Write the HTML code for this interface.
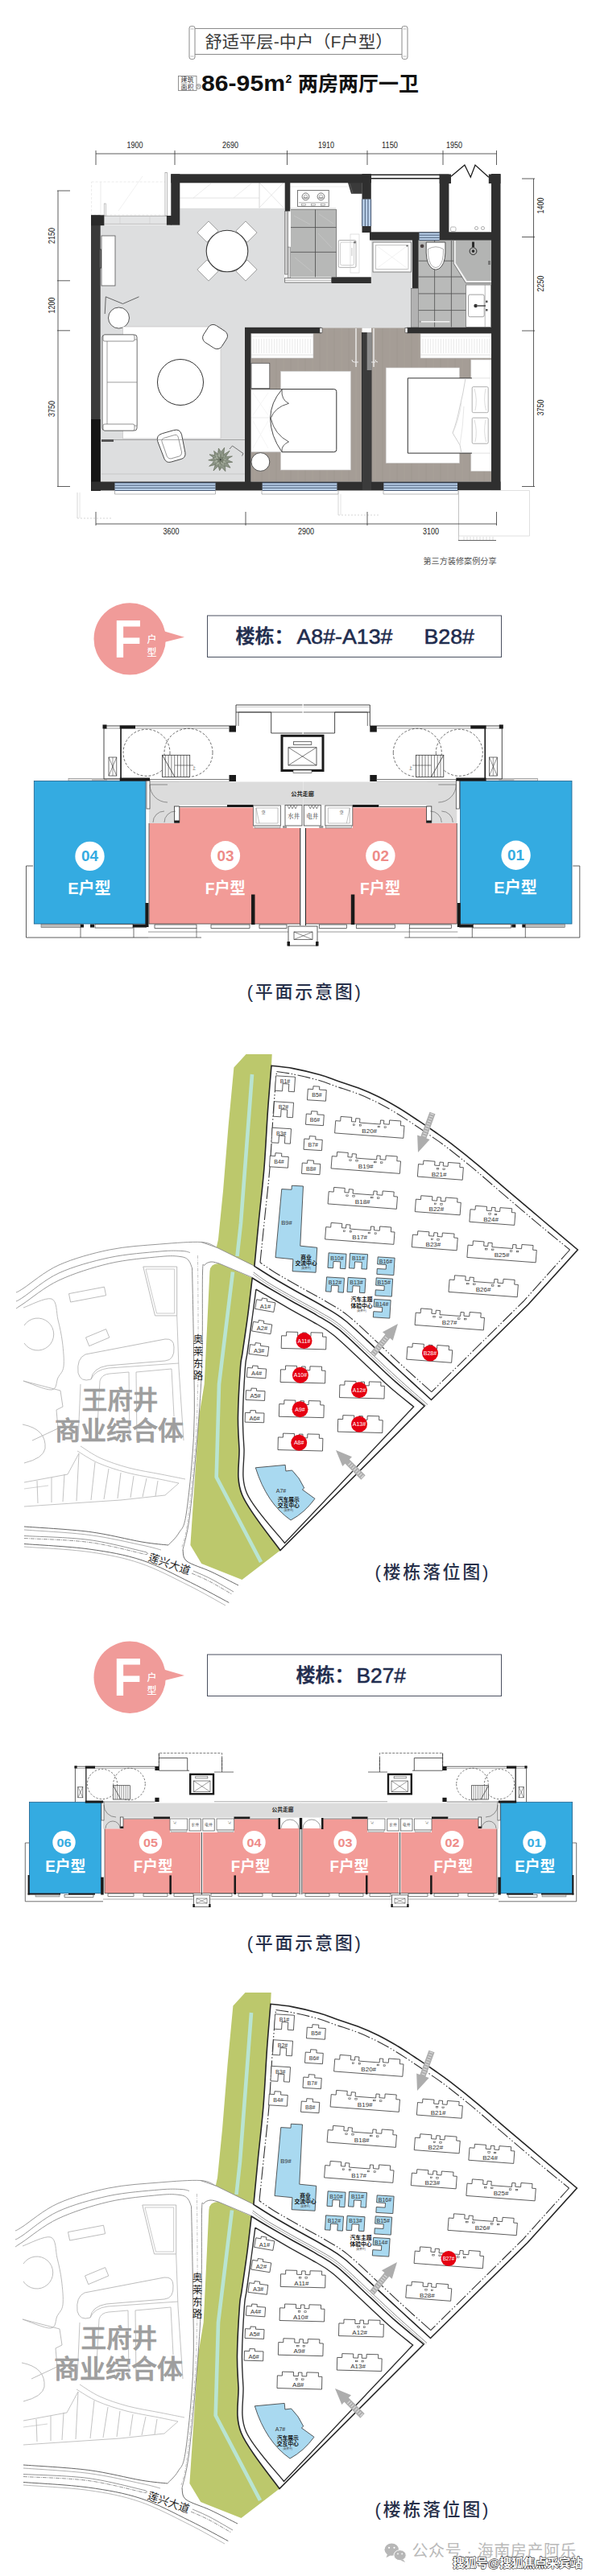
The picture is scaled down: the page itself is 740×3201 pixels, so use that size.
<!DOCTYPE html>
<html lang="zh-CN"><head><meta charset="utf-8"><title>F户型 86-95㎡ 两房两厅一卫</title>
<style>
html,body{margin:0;padding:0;background:#fff;}
body{width:740px;height:3201px;overflow:hidden;font-family:"Liberation Sans","Noto Sans CJK SC",sans-serif;}
svg{display:block;}
</style></head><body>
<svg width="740" height="3201" viewBox="0 0 740 3201">
<rect width="740" height="3201" fill="#fff"/>
<line x1="241" y1="35.5" x2="500" y2="35.5" stroke="#8a8a8a" stroke-width="1.2"/>
<line x1="241" y1="67.5" x2="500" y2="67.5" stroke="#8a8a8a" stroke-width="1.2"/>
<rect x="235" y="32.5" width="7" height="41" fill="#fff" stroke="#8a8a8a" stroke-width="1" rx="2.5"/>
<line x1="236.5" y1="36" x2="240.5" y2="36" stroke="#aaa" stroke-width="0.8"/>
<line x1="236.5" y1="70" x2="240.5" y2="70" stroke="#aaa" stroke-width="0.8"/>
<rect x="499" y="32.5" width="7" height="41" fill="#fff" stroke="#8a8a8a" stroke-width="1" rx="2.5"/>
<line x1="500.5" y1="36" x2="504.5" y2="36" stroke="#aaa" stroke-width="0.8"/>
<line x1="500.5" y1="70" x2="504.5" y2="70" stroke="#aaa" stroke-width="0.8"/>
<text x="371" y="59" font-size="21" fill="#3a3a3a" font-weight="400" text-anchor="middle" font-family='"Liberation Sans","Noto Sans CJK SC",sans-serif' textLength="233" lengthAdjust="spacingAndGlyphs">舒适平层-中户（F户型）</text>
<rect x="221.5" y="94.5" width="22.5" height="18" fill="#fff" stroke="#777" stroke-width="0.8"/>
<text x="232.5" y="102.3" font-size="8" fill="#333" font-weight="400" text-anchor="middle" font-family='"Liberation Sans","Noto Sans CJK SC",sans-serif'>建筑</text>
<text x="232.5" y="110.6" font-size="8" fill="#333" font-weight="400" text-anchor="middle" font-family='"Liberation Sans","Noto Sans CJK SC",sans-serif'>面积</text>
<circle cx="246.5" cy="107.5" r="3" fill="#fff" stroke="#777" stroke-width="0.7"/>
<text x="246.5" y="109.3" font-size="4.5" fill="#555" font-weight="400" text-anchor="middle" font-family='"Liberation Sans","Noto Sans CJK SC",sans-serif'>约</text>
<text x="250" y="113" font-size="27" fill="#111" font-weight="700" text-anchor="start" font-family='"Liberation Sans","Noto Sans CJK SC",sans-serif' textLength="104" lengthAdjust="spacingAndGlyphs">86-95m</text>
<text x="354.5" y="103" font-size="14" fill="#111" font-weight="700" text-anchor="start" font-family='"Liberation Sans","Noto Sans CJK SC",sans-serif'>2</text>
<text x="370" y="113" font-size="25" fill="#111" font-weight="700" text-anchor="start" font-family='"Liberation Sans","Noto Sans CJK SC",sans-serif' textLength="150" lengthAdjust="spacingAndGlyphs">两房两厅一卫</text>
<path d="M124 279.5 L223.3 279.5 L223.3 258.5 L353 258.5 L353 351 L461 351 L461 297 L512 297 L512 408 L304 408 L304 598.5 L125 598.5 Z" fill="#dddedf"/>
<rect x="113.6" y="226" width="92.4" height="41" fill="#fff" stroke="#e6e6e6" stroke-width="0.8" stroke-dasharray="3 2"/>
<line x1="125" y1="226" x2="125" y2="267" stroke="#e4e4e4" stroke-width="0.8"/>
<line x1="177" y1="219" x2="147" y2="262" stroke="#ededed" stroke-width="0.8"/>
<rect x="129.4" y="268.4" width="77.5" height="10.2" fill="#e3e4e5"/>
<line x1="129.4" y1="268.4" x2="206.9" y2="268.4" stroke="#999" stroke-width="0.7"/>
<line x1="129.4" y1="278.4" x2="206.9" y2="278.4" stroke="#aaa" stroke-width="0.7"/>
<line x1="149" y1="268.4" x2="149" y2="278" stroke="#d0d0d0" stroke-width="0.7"/>
<line x1="186" y1="268.4" x2="186" y2="278" stroke="#d0d0d0" stroke-width="0.7"/>
<rect x="205" y="214.4" width="2.5" height="53.6" fill="#fff" stroke="#999" stroke-width="0.7"/>
<rect x="129.3" y="253" width="2" height="15" fill="#fff" stroke="#aaa" stroke-width="0.7"/>
<rect x="223.3" y="227" width="129.2" height="31.5" fill="#fff"/>
<line x1="223.3" y1="246" x2="322" y2="246" stroke="#ddd" stroke-width="0.8"/>
<line x1="322" y1="227" x2="322" y2="258.5" stroke="#ccc" stroke-width="0.8"/>
<line x1="322" y1="227" x2="352" y2="258" stroke="#ddd" stroke-width="0.7"/>
<line x1="352" y1="227" x2="322" y2="258" stroke="#ddd" stroke-width="0.7"/>
<line x1="240" y1="246" x2="262" y2="228" stroke="#e4e4e4" stroke-width="0.7"/>
<line x1="290" y1="246" x2="312" y2="228" stroke="#e4e4e4" stroke-width="0.7"/>
<rect x="360" y="227" width="89.5" height="117.5" fill="#fff"/>
<rect x="361" y="260.3" width="56.6" height="84" fill="#b7b8b7"/>
<line x1="391.5" y1="260.3" x2="391.5" y2="344.3" stroke="#4a4a4a" stroke-width="0.8"/>
<line x1="361" y1="282.6" x2="417.6" y2="282.6" stroke="#4a4a4a" stroke-width="0.8"/>
<line x1="361" y1="313.3" x2="417.6" y2="313.3" stroke="#4a4a4a" stroke-width="0.8"/>
<path d="M361 260.3 L417.6 260.3 L417.6 344.3" fill="none" stroke="#555" stroke-width="0.7"/>
<line x1="365" y1="268" x2="385" y2="279" stroke="#c6c7c6" stroke-width="0.8"/>
<line x1="395" y1="290" x2="412" y2="308" stroke="#c6c7c6" stroke-width="0.8"/>
<line x1="366" y1="320" x2="388" y2="338" stroke="#c6c7c6" stroke-width="0.8"/>
<line x1="396" y1="266" x2="414" y2="278" stroke="#c6c7c6" stroke-width="0.8"/>
<rect x="369.6" y="236.4" width="38.6" height="20.2" fill="#fff" stroke="#555" stroke-width="0.8"/>
<circle cx="379.5" cy="244.3" r="4.4" fill="none" stroke="#555" stroke-width="0.8"/>
<circle cx="379.5" cy="244.3" r="2.2" fill="none" stroke="#777" stroke-width="0.6"/>
<line x1="376.5" y1="246" x2="382.5" y2="246" stroke="#555" stroke-width="0.8"/>
<circle cx="398.5" cy="244.3" r="4.4" fill="none" stroke="#555" stroke-width="0.8"/>
<circle cx="398.5" cy="244.3" r="2.2" fill="none" stroke="#777" stroke-width="0.6"/>
<line x1="395.5" y1="246" x2="401.5" y2="246" stroke="#555" stroke-width="0.8"/>
<line x1="371" y1="251.8" x2="407" y2="251.8" stroke="#777" stroke-width="0.6"/>
<rect x="374.5" y="253.3" width="5" height="2" fill="#fff" stroke="#777" stroke-width="0.5"/>
<rect x="386.5" y="253.3" width="5" height="2" fill="#fff" stroke="#777" stroke-width="0.5"/>
<rect x="398.5" y="253.3" width="5" height="2" fill="#fff" stroke="#777" stroke-width="0.5"/>
<line x1="360" y1="232" x2="432" y2="232" stroke="#e6e6e6" stroke-width="0.7"/>
<line x1="360" y1="258.5" x2="417" y2="258.5" stroke="#ddd" stroke-width="0.7"/>
<rect x="420.2" y="298.5" width="21.8" height="33.8" fill="#fff" stroke="#999" stroke-width="0.8" rx="1.5"/>
<rect x="422.5" y="301" width="17" height="28.5" fill="#fff" stroke="#bbb" stroke-width="0.7" rx="2"/>
<rect x="435" y="291" width="11" height="48" fill="none" stroke="#ccc" stroke-width="0.6"/>
<circle cx="440.5" cy="301" r="1.5" fill="#777"/>
<line x1="437" y1="308" x2="437" y2="318" stroke="#ccc" stroke-width="1.2"/>
<path d="M432 227 L449.7 227 L449.7 240.7 L436 240.7 Z" fill="#3a3a3a"/>
<line x1="434" y1="228" x2="438" y2="240" stroke="#666" stroke-width="0.7"/>
<rect x="461" y="218" width="85" height="70" fill="#fff"/>
<rect x="557" y="218" width="54" height="71" fill="#fff"/>
<rect x="559.5" y="282" width="6.5" height="5.5" fill="#fff" stroke="#999" stroke-width="0.7" rx="1.5"/>
<circle cx="591.5" cy="283.5" r="2" fill="#fff" stroke="#888" stroke-width="0.7"/>
<circle cx="599.5" cy="283.5" r="2" fill="#fff" stroke="#888" stroke-width="0.7"/>
<path d="M560 219.2 L576.9 205 L584.3 220.2 L590 205 L606.8 220.2" fill="none" stroke="#1a1a1a" stroke-width="1.3" stroke-linejoin="miter"/>
<rect x="463" y="301" width="47.5" height="37" fill="#fff" stroke="#777" stroke-width="0.9"/>
<rect x="466.5" y="304.5" width="40.5" height="30" fill="#fff" stroke="#aaa" stroke-width="0.7"/>
<line x1="466.5" y1="304.5" x2="507" y2="334.5" stroke="#e8e8e8" stroke-width="0.6"/>
<line x1="507" y1="304.5" x2="466.5" y2="334.5" stroke="#e8e8e8" stroke-width="0.6"/>
<circle cx="505.5" cy="305.5" r="1" fill="#555"/>
<rect x="519" y="298" width="91" height="109" fill="#b9bab9"/>
<line x1="539.6" y1="299" x2="539.6" y2="406.4" stroke="#4f4f4f" stroke-width="0.8"/>
<line x1="560.4" y1="299" x2="560.4" y2="406.4" stroke="#4f4f4f" stroke-width="0.8"/>
<line x1="519.5" y1="324.2" x2="579" y2="324.2" stroke="#4f4f4f" stroke-width="0.8"/>
<line x1="519.5" y1="344" x2="579" y2="344" stroke="#4f4f4f" stroke-width="0.8"/>
<line x1="519.5" y1="364.9" x2="579" y2="364.9" stroke="#4f4f4f" stroke-width="0.8"/>
<line x1="519.5" y1="385.6" x2="579" y2="385.6" stroke="#4f4f4f" stroke-width="0.8"/>
<path d="M563.4 298.5 L610 298.5 L610 351.4 L578.5 351.4 L563.4 327.2 Z" fill="#b3b4b3"/>
<path d="M564.6 299 L564.6 327 L579.2 350.2 L610 350.2" fill="none" stroke="#f2f2f2" stroke-width="2.2"/>
<path d="M563.2 299 L563.2 327.4 L578.2 351.6 L610 351.6" fill="none" stroke="#555" stroke-width="0.6"/>
<circle cx="587.5" cy="312.1" r="4.4" fill="none" stroke="#2a2a2a" stroke-width="1"/>
<circle cx="587.5" cy="312.1" r="1.8" fill="#2a2a2a"/>
<rect x="586" y="300.5" width="3" height="6.5" fill="#2a2a2a"/>
<rect x="606" y="324" width="3" height="5" fill="#777"/>
<rect x="578.5" y="354" width="31" height="52.4" fill="#fff" stroke="#777" stroke-width="0.8"/>
<rect x="581.5" y="366.1" width="19.7" height="27.6" fill="#fff" stroke="#888" stroke-width="0.8" rx="2"/>
<line x1="602.2" y1="354" x2="602.2" y2="406" stroke="#999" stroke-width="0.7"/>
<circle cx="590.6" cy="380" r="2.3" fill="#333"/>
<line x1="593" y1="380" x2="603" y2="380" stroke="#333" stroke-width="1.3"/>
<rect x="603" y="373.5" width="2.5" height="2.5" fill="#555"/>
<rect x="603" y="384" width="2.5" height="2.5" fill="#555"/>
<path d="M529.2 301 L552.9 301 L552.9 314 Q552.5 329 545 334 Q541 336.4 537 334 Q529.6 329 529.2 314 Z" fill="#fff" stroke="#444" stroke-width="0.9"/>
<path d="M531.5 309.5 Q531 326 537.5 331.5 Q541 333.6 544.5 331.5 Q551 326 550.5 309.5 Q541 304 531.5 309.5 Z" fill="#fff" stroke="#888" stroke-width="0.7"/>
<circle cx="524.1" cy="305.7" r="2.3" fill="#4a4040"/>
<line x1="520" y1="399.7" x2="558.4" y2="399.7" stroke="#f2f2f2" stroke-width="1.6"/>
<circle cx="521.5" cy="399.7" r="1.3" fill="#999"/>
<rect x="311.5" y="407.5" width="138" height="191" fill="#a59d96"/>
<rect x="461" y="407.5" width="149.4" height="191" fill="#a59d96"/>
<line x1="316" y1="408" x2="316" y2="598" stroke="#aaa29b" stroke-width="0.8"/>
<line x1="325" y1="408" x2="325" y2="598" stroke="#a09891" stroke-width="0.8"/>
<line x1="334" y1="408" x2="334" y2="598" stroke="#aaa29b" stroke-width="0.8"/>
<line x1="343" y1="408" x2="343" y2="598" stroke="#a09891" stroke-width="0.8"/>
<line x1="352" y1="408" x2="352" y2="598" stroke="#aaa29b" stroke-width="0.8"/>
<line x1="361" y1="408" x2="361" y2="598" stroke="#a09891" stroke-width="0.8"/>
<line x1="370" y1="408" x2="370" y2="598" stroke="#aaa29b" stroke-width="0.8"/>
<line x1="379" y1="408" x2="379" y2="598" stroke="#a09891" stroke-width="0.8"/>
<line x1="388" y1="408" x2="388" y2="598" stroke="#aaa29b" stroke-width="0.8"/>
<line x1="397" y1="408" x2="397" y2="598" stroke="#a09891" stroke-width="0.8"/>
<line x1="406" y1="408" x2="406" y2="598" stroke="#aaa29b" stroke-width="0.8"/>
<line x1="415" y1="408" x2="415" y2="598" stroke="#a09891" stroke-width="0.8"/>
<line x1="424" y1="408" x2="424" y2="598" stroke="#aaa29b" stroke-width="0.8"/>
<line x1="433" y1="408" x2="433" y2="598" stroke="#a09891" stroke-width="0.8"/>
<line x1="442" y1="408" x2="442" y2="598" stroke="#aaa29b" stroke-width="0.8"/>
<line x1="466" y1="408" x2="466" y2="598" stroke="#aaa29b" stroke-width="0.8"/>
<line x1="475" y1="408" x2="475" y2="598" stroke="#a09891" stroke-width="0.8"/>
<line x1="484" y1="408" x2="484" y2="598" stroke="#aaa29b" stroke-width="0.8"/>
<line x1="493" y1="408" x2="493" y2="598" stroke="#a09891" stroke-width="0.8"/>
<line x1="502" y1="408" x2="502" y2="598" stroke="#aaa29b" stroke-width="0.8"/>
<line x1="511" y1="408" x2="511" y2="598" stroke="#a09891" stroke-width="0.8"/>
<line x1="520" y1="408" x2="520" y2="598" stroke="#aaa29b" stroke-width="0.8"/>
<line x1="529" y1="408" x2="529" y2="598" stroke="#a09891" stroke-width="0.8"/>
<line x1="538" y1="408" x2="538" y2="598" stroke="#aaa29b" stroke-width="0.8"/>
<line x1="547" y1="408" x2="547" y2="598" stroke="#a09891" stroke-width="0.8"/>
<line x1="556" y1="408" x2="556" y2="598" stroke="#aaa29b" stroke-width="0.8"/>
<line x1="565" y1="408" x2="565" y2="598" stroke="#a09891" stroke-width="0.8"/>
<line x1="574" y1="408" x2="574" y2="598" stroke="#aaa29b" stroke-width="0.8"/>
<line x1="583" y1="408" x2="583" y2="598" stroke="#a09891" stroke-width="0.8"/>
<line x1="592" y1="408" x2="592" y2="598" stroke="#aaa29b" stroke-width="0.8"/>
<line x1="601" y1="408" x2="601" y2="598" stroke="#a09891" stroke-width="0.8"/>
<rect x="312" y="414.3" width="77" height="30.7" fill="#fff" stroke="#bbb" stroke-width="0.6"/>
<line x1="312" y1="418" x2="389" y2="418" stroke="#ddd" stroke-width="0.6"/>
<line x1="312" y1="441" x2="389" y2="441" stroke="#ccc" stroke-width="0.6"/>
<line x1="315" y1="421" x2="315" y2="439" stroke="#e3e3e3" stroke-width="0.8"/>
<line x1="318.2" y1="421" x2="318.2" y2="439" stroke="#e3e3e3" stroke-width="0.8"/>
<line x1="321.4" y1="421" x2="321.4" y2="439" stroke="#e3e3e3" stroke-width="0.8"/>
<line x1="324.6" y1="421" x2="324.6" y2="439" stroke="#e3e3e3" stroke-width="0.8"/>
<line x1="327.8" y1="421" x2="327.8" y2="439" stroke="#e3e3e3" stroke-width="0.8"/>
<line x1="331" y1="421" x2="331" y2="439" stroke="#e3e3e3" stroke-width="0.8"/>
<line x1="334.2" y1="421" x2="334.2" y2="439" stroke="#e3e3e3" stroke-width="0.8"/>
<line x1="337.4" y1="421" x2="337.4" y2="439" stroke="#e3e3e3" stroke-width="0.8"/>
<line x1="340.6" y1="421" x2="340.6" y2="439" stroke="#e3e3e3" stroke-width="0.8"/>
<line x1="343.8" y1="421" x2="343.8" y2="439" stroke="#e3e3e3" stroke-width="0.8"/>
<line x1="347" y1="421" x2="347" y2="439" stroke="#e3e3e3" stroke-width="0.8"/>
<line x1="350.2" y1="421" x2="350.2" y2="439" stroke="#e3e3e3" stroke-width="0.8"/>
<line x1="353.4" y1="421" x2="353.4" y2="439" stroke="#e3e3e3" stroke-width="0.8"/>
<line x1="356.6" y1="421" x2="356.6" y2="439" stroke="#e3e3e3" stroke-width="0.8"/>
<line x1="359.8" y1="421" x2="359.8" y2="439" stroke="#e3e3e3" stroke-width="0.8"/>
<line x1="363" y1="421" x2="363" y2="439" stroke="#e3e3e3" stroke-width="0.8"/>
<line x1="366.2" y1="421" x2="366.2" y2="439" stroke="#e3e3e3" stroke-width="0.8"/>
<line x1="369.4" y1="421" x2="369.4" y2="439" stroke="#e3e3e3" stroke-width="0.8"/>
<line x1="372.6" y1="421" x2="372.6" y2="439" stroke="#e3e3e3" stroke-width="0.8"/>
<line x1="375.8" y1="421" x2="375.8" y2="439" stroke="#e3e3e3" stroke-width="0.8"/>
<line x1="379" y1="421" x2="379" y2="439" stroke="#e3e3e3" stroke-width="0.8"/>
<line x1="382.2" y1="421" x2="382.2" y2="439" stroke="#e3e3e3" stroke-width="0.8"/>
<line x1="385.4" y1="421" x2="385.4" y2="439" stroke="#e3e3e3" stroke-width="0.8"/>
<rect x="522" y="414.3" width="88.4" height="30.7" fill="#fff" stroke="#bbb" stroke-width="0.6"/>
<line x1="522" y1="418" x2="610.4" y2="418" stroke="#ddd" stroke-width="0.6"/>
<line x1="522" y1="441" x2="610.4" y2="441" stroke="#ccc" stroke-width="0.6"/>
<line x1="525" y1="421" x2="525" y2="439" stroke="#e3e3e3" stroke-width="0.8"/>
<line x1="528.2" y1="421" x2="528.2" y2="439" stroke="#e3e3e3" stroke-width="0.8"/>
<line x1="531.4" y1="421" x2="531.4" y2="439" stroke="#e3e3e3" stroke-width="0.8"/>
<line x1="534.6" y1="421" x2="534.6" y2="439" stroke="#e3e3e3" stroke-width="0.8"/>
<line x1="537.8" y1="421" x2="537.8" y2="439" stroke="#e3e3e3" stroke-width="0.8"/>
<line x1="541" y1="421" x2="541" y2="439" stroke="#e3e3e3" stroke-width="0.8"/>
<line x1="544.2" y1="421" x2="544.2" y2="439" stroke="#e3e3e3" stroke-width="0.8"/>
<line x1="547.4" y1="421" x2="547.4" y2="439" stroke="#e3e3e3" stroke-width="0.8"/>
<line x1="550.6" y1="421" x2="550.6" y2="439" stroke="#e3e3e3" stroke-width="0.8"/>
<line x1="553.8" y1="421" x2="553.8" y2="439" stroke="#e3e3e3" stroke-width="0.8"/>
<line x1="557" y1="421" x2="557" y2="439" stroke="#e3e3e3" stroke-width="0.8"/>
<line x1="560.2" y1="421" x2="560.2" y2="439" stroke="#e3e3e3" stroke-width="0.8"/>
<line x1="563.4" y1="421" x2="563.4" y2="439" stroke="#e3e3e3" stroke-width="0.8"/>
<line x1="566.6" y1="421" x2="566.6" y2="439" stroke="#e3e3e3" stroke-width="0.8"/>
<line x1="569.8" y1="421" x2="569.8" y2="439" stroke="#e3e3e3" stroke-width="0.8"/>
<line x1="573" y1="421" x2="573" y2="439" stroke="#e3e3e3" stroke-width="0.8"/>
<line x1="576.2" y1="421" x2="576.2" y2="439" stroke="#e3e3e3" stroke-width="0.8"/>
<line x1="579.4" y1="421" x2="579.4" y2="439" stroke="#e3e3e3" stroke-width="0.8"/>
<line x1="582.6" y1="421" x2="582.6" y2="439" stroke="#e3e3e3" stroke-width="0.8"/>
<line x1="585.8" y1="421" x2="585.8" y2="439" stroke="#e3e3e3" stroke-width="0.8"/>
<line x1="589" y1="421" x2="589" y2="439" stroke="#e3e3e3" stroke-width="0.8"/>
<line x1="592.2" y1="421" x2="592.2" y2="439" stroke="#e3e3e3" stroke-width="0.8"/>
<line x1="595.4" y1="421" x2="595.4" y2="439" stroke="#e3e3e3" stroke-width="0.8"/>
<line x1="598.6" y1="421" x2="598.6" y2="439" stroke="#e3e3e3" stroke-width="0.8"/>
<line x1="601.8" y1="421" x2="601.8" y2="439" stroke="#e3e3e3" stroke-width="0.8"/>
<line x1="605" y1="421" x2="605" y2="439" stroke="#e3e3e3" stroke-width="0.8"/>
<line x1="608.2" y1="421" x2="608.2" y2="439" stroke="#e3e3e3" stroke-width="0.8"/>
<rect x="312" y="451.3" width="22.8" height="31.4" fill="#fff" stroke="#555" stroke-width="0.8"/>
<rect x="348.5" y="461.3" width="87" height="122.7" fill="#fff" stroke="#c9c9c9" stroke-width="0.6"/>
<rect x="312" y="483.6" width="40" height="78.1" fill="#fff"/>
<line x1="312" y1="519" x2="336" y2="519" stroke="#e2e2e2" stroke-width="0.7"/>
<line x1="312" y1="483.6" x2="350" y2="483.6" stroke="#444" stroke-width="0.9"/>
<line x1="312" y1="561.7" x2="350" y2="561.7" stroke="#bbb" stroke-width="0.7"/>
<line x1="314" y1="488" x2="333" y2="516" stroke="#efefef" stroke-width="0.6"/>
<line x1="333" y1="488" x2="314" y2="516" stroke="#efefef" stroke-width="0.6"/>
<line x1="314" y1="523" x2="333" y2="557" stroke="#efefef" stroke-width="0.6"/>
<line x1="333" y1="523" x2="314" y2="557" stroke="#efefef" stroke-width="0.6"/>
<path d="M350 483.6 L414.8 483.6 Q417.8 483.6 417.8 486.6 L417.8 558.7 Q417.8 561.7 414.8 561.7 L350 561.7" fill="#fff" stroke="#333" stroke-width="1"/>
<path d="M350 484 Q336 500 335.6 519.8 Q336 542 350 561.5" fill="none" stroke="#333" stroke-width="0.9"/>
<path d="M350 484 Q349 497 358.5 501.3 Q341 506 336.2 519.8" fill="none" stroke="#333" stroke-width="0.8"/>
<path d="M350 561.5 Q349 553 358.5 549 Q341 540 336.2 519.8" fill="none" stroke="#333" stroke-width="0.8"/>
<circle cx="323.4" cy="574" r="11.4" fill="#fff" stroke="#444" stroke-width="0.9"/>
<rect x="584.8" y="447" width="25.6" height="138.4" fill="#fff" stroke="#ccc" stroke-width="0.6"/>
<rect x="479.2" y="457" width="91.3" height="118.4" fill="#fff" stroke="#c9c9c9" stroke-width="0.6"/>
<rect x="506.3" y="469.9" width="93.7" height="93.2" fill="#fff"/>
<path d="M586 469.9 L506.3 469.9 L506.3 563.1 L586 563.1" fill="none" stroke="#333" stroke-width="1"/>
<line x1="586" y1="469.9" x2="610" y2="469.9" stroke="#ccc" stroke-width="0.6"/>
<line x1="586" y1="563.1" x2="610" y2="563.1" stroke="#ccc" stroke-width="0.6"/>
<rect x="586.2" y="480.7" width="20" height="32" fill="#fff" stroke="#999" stroke-width="0.8" rx="1.5"/>
<rect x="586.2" y="519.2" width="20" height="32" fill="#fff" stroke="#999" stroke-width="0.8" rx="1.5"/>
<path d="M589 483 Q593 497 590 510 M603 483 Q600 497 603.5 510 M589 521.5 Q593 536 590 549 M603 521.5 Q600 536 603.5 549" fill="none" stroke="#c4c4c4" stroke-width="0.6"/>
<path d="M578 470 Q575 490 571 505 Q567 525 562 538 L571 553 L573 563" fill="none" stroke="#bbb" stroke-width="0.7"/>
<path d="M562 538 Q570 522 573 500 M571 553 Q575 530 576 505" fill="none" stroke="#d5d5d5" stroke-width="0.6"/>
<rect x="126" y="293" width="17" height="62" fill="#fff" stroke="#555" stroke-width="0.8"/>
<rect x="121" y="310" width="4.5" height="23" fill="#fff" stroke="#333" stroke-width="0.9"/>
<path d="M319.12 334.98 L304.98 349.12 L292.96 337.1 L307.1 322.96 Z" fill="#fff" stroke="#8a8a8a" stroke-width="0.8" stroke-linejoin="round"/>
<path d="M259.02 349.12 L244.88 334.98 L256.9 322.96 L271.04 337.1 Z" fill="#fff" stroke="#8a8a8a" stroke-width="0.8" stroke-linejoin="round"/>
<path d="M244.88 289.02 L259.02 274.88 L271.04 286.9 L256.9 301.04 Z" fill="#fff" stroke="#8a8a8a" stroke-width="0.8" stroke-linejoin="round"/>
<path d="M304.98 274.88 L319.12 289.02 L307.1 301.04 L292.96 286.9 Z" fill="#fff" stroke="#8a8a8a" stroke-width="0.8" stroke-linejoin="round"/>
<circle cx="282" cy="312" r="25.8" fill="#fff" stroke="#3a3a3a" stroke-width="1.1"/>
<circle cx="147.5" cy="395" r="13" fill="#fff" stroke="#444" stroke-width="0.9"/>
<path d="M131.3 368.8 L152.5 377.5 L172.5 368.8" fill="none" stroke="#444" stroke-width="0.8"/>
<line x1="131.3" y1="368.8" x2="130.2" y2="390" stroke="#444" stroke-width="0.8"/>
<rect x="152.5" y="406" width="121.5" height="139" fill="#fff" stroke="#c4c4c4" stroke-width="0.7"/>
<rect x="127" y="416" width="43" height="119" fill="#fff" stroke="#555" stroke-width="0.9" rx="3"/>
<rect x="133" y="422" width="37" height="107" fill="#fff" stroke="#777" stroke-width="0.7"/>
<line x1="133" y1="475" x2="170" y2="475" stroke="#777" stroke-width="0.7"/>
<rect x="128" y="416" width="39" height="8" fill="#fff" stroke="#666" stroke-width="0.7" rx="2"/>
<rect x="128" y="527" width="39" height="8" fill="#fff" stroke="#666" stroke-width="0.7" rx="2"/>
<circle cx="224" cy="475" r="28.5" fill="#fff" stroke="#333" stroke-width="1"/>
<rect x="253.5" y="406" width="27" height="25" rx="7" fill="#fff" stroke="#444" stroke-width="0.9" transform="rotate(33 267 418.6)"/>
<g transform="translate(0.8 1) rotate(-16 212.5 552.5)"><path d="M197 543 Q197 535 205 535 L220 535 Q228 535 228 543 L226 566 Q225 572 219 572 L206 572 Q200 572 199 566 Z" fill="#fff" stroke="#444" stroke-width="0.9"/><path d="M202 545 Q202 541 206 541 L219 541 Q223 541 223 545 L222 564 Q221 568 218 568 L207 568 Q204 568 203 564 Z" fill="none" stroke="#777" stroke-width="0.7"/></g>
<path d="M288.76 574.25 L282.04 575.14 L286.02 581.23 L279.61 579.05 L279.88 585.65 L275.28 580.84 L272.63 584.74 L271.05 579.17 L264.99 585.01 L267.26 577.41 L259.68 579.32 L266.65 573.25 L258.81 571.82 L266.11 569.66 L260.02 564.73 L266.94 565.69 L265.55 560.39 L270.69 564.17 L271.38 557.05 L274.47 561.48 L278.68 556.21 L277.69 564.87 L285.15 560.18 L280.12 567.48 L288.44 566.91 L281.07 570.89 Z" fill="#8d9688" stroke="#59614f" stroke-width="0.6"/>
<path d="M282.04 575.76 L278.11 575.62 L278.45 579.91 L274.75 576.02 L272.88 582.64 L271.52 577.05 L267.66 579.27 L268.56 575.05 L263.79 574.89 L267.86 571.62 L264.02 569.09 L268.1 568.14 L266.01 563.5 L270.62 565.55 L271.3 560.17 L274.06 566.12 L277.27 561.62 L276.6 567.33 L281.54 565.33 L278.04 569.58 L283.78 570.48 L279.28 572.41 Z" fill="#a2aa9b" stroke="#687060" stroke-width="0.5"/>
<path d="M278.58 571.69 L276.09 572.48 L277.06 575.31 L274.36 573.38 L273.11 577.05 L272.53 573.38 L269.61 574.54 L271.33 571.91 L267.98 570.63 L271.97 570.27 L269.86 566.5 L273.14 569.35 L274.28 565.43 L275.08 568.63 L277.51 568.08 L276.42 570.38 Z" fill="#7b8474" stroke="#59614f" stroke-width="0.4"/>
<circle cx="273.7" cy="571.2" r="1" fill="#333"/>
<path d="M285 558 L288.5 554 L302 563.5 L300.5 566.5" fill="none" stroke="#555" stroke-width="0.8"/>
<line x1="126" y1="546.5" x2="304" y2="546.5" stroke="#888" stroke-width="0.7"/>
<line x1="126" y1="589" x2="304" y2="589" stroke="#bbb" stroke-width="0.6"/>
<rect x="126" y="546" width="15" height="3" fill="#555"/>
<rect x="212.3" y="216.3" width="248.7" height="11" fill="#2f2f2f"/>
<rect x="212.3" y="216.3" width="11" height="63.4" fill="#2f2f2f"/>
<rect x="206.9" y="268" width="6.1" height="11.7" fill="#2f2f2f"/>
<rect x="113" y="267.5" width="11.7" height="342.5" fill="#3a3a3a"/>
<rect x="113" y="521" width="11.7" height="89" fill="#151515"/>
<rect x="113" y="267.3" width="16.4" height="12.9" fill="#2a2a2a"/>
<rect x="113.5" y="598.5" width="508" height="11" fill="#2f2f2f"/>
<rect x="610" y="216" width="11.5" height="393.5" fill="#2f2f2f"/>
<rect x="606.8" y="216.5" width="14.7" height="11.5" fill="#2f2f2f"/>
<rect x="353.7" y="226.5" width="6.6" height="36" fill="#2f2f2f"/>
<rect x="353.7" y="262.5" width="3.8" height="78.5" fill="#c9c9c9" stroke="#555" stroke-width="0.6"/>
<rect x="357.5" y="307" width="2.8" height="40" fill="#d5d5d5" stroke="#555" stroke-width="0.5"/>
<rect x="449.5" y="216" width="11.3" height="73" fill="#2f2f2f"/>
<rect x="459" y="288.3" width="153" height="10.2" fill="#2f2f2f"/>
<rect x="545.7" y="216.5" width="11.7" height="72.5" fill="#2f2f2f"/>
<rect x="545.7" y="216.5" width="14.3" height="11.5" fill="#2f2f2f"/>
<rect x="461" y="216.5" width="85" height="1.5" fill="#222"/>
<rect x="461" y="221" width="85" height="1.5" fill="#222"/>
<rect x="411.5" y="344.3" width="49.3" height="7.7" fill="#2f2f2f"/>
<rect x="353.7" y="345.4" width="57.8" height="5.6" fill="#fff" stroke="#444" stroke-width="0.7"/>
<line x1="353.7" y1="348.2" x2="411.5" y2="348.2" stroke="#666" stroke-width="0.6"/>
<rect x="512" y="298" width="7.5" height="60.5" fill="#2f2f2f"/>
<rect x="510.6" y="358.5" width="8.9" height="48.5" fill="#b2b2b2" stroke="#666" stroke-width="0.6"/>
<rect x="304" y="406.8" width="95" height="7.4" fill="#2f2f2f"/>
<rect x="505" y="406.8" width="107" height="7.4" fill="#2f2f2f"/>
<rect x="304" y="407.5" width="7.5" height="201.5" fill="#2f2f2f"/>
<rect x="449" y="413" width="12.5" height="196" fill="#2f2f2f"/>
<rect x="450" y="413" width="11" height="196" fill="#3b3b3b"/>
<rect x="455.7" y="413" width="6.1" height="47" fill="#8c8c8c"/>
<line x1="442" y1="408" x2="442" y2="456" stroke="#f4f4f4" stroke-width="1.3"/>
<path d="M437 447 q0 3 3 3 M440 450 l5 0" fill="none" stroke="#f4f4f4" stroke-width="0.9"/>
<line x1="464" y1="408" x2="464" y2="456" stroke="#f4f4f4" stroke-width="1.3"/>
<path d="M466 447 q0 3 3 3 M461 450 l5 0" fill="none" stroke="#f4f4f4" stroke-width="0.9"/>
<rect x="397" y="407.5" width="3" height="6" fill="#fff" stroke="#444" stroke-width="0.6"/>
<rect x="503" y="407.5" width="3" height="6" fill="#fff" stroke="#444" stroke-width="0.6"/>
<rect x="142.5" y="600" width="125" height="9.5" fill="#b9cfe8"/>
<line x1="142.5" y1="600" x2="267.5" y2="600" stroke="#3d4f6b" stroke-width="0.9"/>
<line x1="142.5" y1="603.17" x2="267.5" y2="603.17" stroke="#3d4f6b" stroke-width="0.9"/>
<line x1="142.5" y1="606.33" x2="267.5" y2="606.33" stroke="#3d4f6b" stroke-width="0.9"/>
<line x1="142.5" y1="609.5" x2="267.5" y2="609.5" stroke="#3d4f6b" stroke-width="0.9"/>
<rect x="325.7" y="600" width="92.7" height="9.5" fill="#b9cfe8"/>
<line x1="325.7" y1="600" x2="418.4" y2="600" stroke="#3d4f6b" stroke-width="0.9"/>
<line x1="325.7" y1="603.17" x2="418.4" y2="603.17" stroke="#3d4f6b" stroke-width="0.9"/>
<line x1="325.7" y1="606.33" x2="418.4" y2="606.33" stroke="#3d4f6b" stroke-width="0.9"/>
<line x1="325.7" y1="609.5" x2="418.4" y2="609.5" stroke="#3d4f6b" stroke-width="0.9"/>
<rect x="476.4" y="600" width="91.6" height="9.5" fill="#b9cfe8"/>
<line x1="476.4" y1="600" x2="568" y2="600" stroke="#3d4f6b" stroke-width="0.9"/>
<line x1="476.4" y1="603.17" x2="568" y2="603.17" stroke="#3d4f6b" stroke-width="0.9"/>
<line x1="476.4" y1="606.33" x2="568" y2="606.33" stroke="#3d4f6b" stroke-width="0.9"/>
<line x1="476.4" y1="609.5" x2="568" y2="609.5" stroke="#3d4f6b" stroke-width="0.9"/>
<rect x="449.7" y="247.5" width="10.9" height="33.5" fill="#b9cfe8"/>
<line x1="449.7" y1="247.5" x2="449.7" y2="281" stroke="#3d4f6b" stroke-width="0.9"/>
<line x1="453.33" y1="247.5" x2="453.33" y2="281" stroke="#3d4f6b" stroke-width="0.9"/>
<line x1="456.97" y1="247.5" x2="456.97" y2="281" stroke="#3d4f6b" stroke-width="0.9"/>
<line x1="460.6" y1="247.5" x2="460.6" y2="281" stroke="#3d4f6b" stroke-width="0.9"/>
<rect x="520.5" y="289" width="25.2" height="9.5" fill="#b9cfe8"/>
<line x1="520.5" y1="289" x2="545.7" y2="289" stroke="#3d4f6b" stroke-width="0.9"/>
<line x1="520.5" y1="292.17" x2="545.7" y2="292.17" stroke="#3d4f6b" stroke-width="0.9"/>
<line x1="520.5" y1="295.33" x2="545.7" y2="295.33" stroke="#3d4f6b" stroke-width="0.9"/>
<line x1="520.5" y1="298.5" x2="545.7" y2="298.5" stroke="#3d4f6b" stroke-width="0.9"/>
<path d="M142.5 609.5 L142.5 614 L267.5 614 L267.5 609.5" fill="none" stroke="#999" stroke-width="0.7"/>
<path d="M325 609.5 L325 614 L420 614 L420 609.5" fill="none" stroke="#999" stroke-width="0.7"/>
<path d="M476 609.5 L476 614 L569 614 L569 609.5" fill="none" stroke="#999" stroke-width="0.7"/>
<path d="M569.5 609.5 L657.5 609.5 L657.5 666 L569.5 666 Z" fill="none" stroke="#dcdcdc" stroke-width="0.9"/>
<line x1="569.5" y1="609.5" x2="569.5" y2="672" stroke="#bbb" stroke-width="0.8"/>
<line x1="569" y1="671.5" x2="616" y2="671.5" stroke="#555" stroke-width="0.9"/>
<line x1="576" y1="667" x2="576" y2="671" stroke="#ccc" stroke-width="0.7"/>
<line x1="580" y1="667" x2="580" y2="671" stroke="#ccc" stroke-width="0.7"/>
<line x1="584" y1="667" x2="584" y2="671" stroke="#ccc" stroke-width="0.7"/>
<line x1="588" y1="667" x2="588" y2="671" stroke="#ccc" stroke-width="0.7"/>
<line x1="592" y1="667" x2="592" y2="671" stroke="#ccc" stroke-width="0.7"/>
<line x1="596" y1="667" x2="596" y2="671" stroke="#ccc" stroke-width="0.7"/>
<line x1="600" y1="667" x2="600" y2="671" stroke="#ccc" stroke-width="0.7"/>
<line x1="604" y1="667" x2="604" y2="671" stroke="#ccc" stroke-width="0.7"/>
<line x1="608" y1="667" x2="608" y2="671" stroke="#ccc" stroke-width="0.7"/>
<line x1="612" y1="667" x2="612" y2="671" stroke="#ccc" stroke-width="0.7"/>
<line x1="96" y1="612" x2="96" y2="644" stroke="#ccc" stroke-width="0.8"/>
<line x1="99" y1="612" x2="99" y2="644" stroke="#ddd" stroke-width="0.8"/>
<line x1="96" y1="644" x2="140" y2="644" stroke="#ccc" stroke-width="0.8" stroke-dasharray="2 2"/>
<line x1="420" y1="614" x2="420" y2="640" stroke="#ccc" stroke-width="0.8"/>
<line x1="423" y1="614" x2="423" y2="640" stroke="#ddd" stroke-width="0.8"/>
<line x1="420" y1="640" x2="470" y2="640" stroke="#ccc" stroke-width="0.8" stroke-dasharray="2 2"/>
<line x1="119" y1="191" x2="616.5" y2="191" stroke="#333" stroke-width="0.8"/>
<line x1="119" y1="187" x2="119" y2="205" stroke="#333" stroke-width="0.8"/>
<line x1="217" y1="187" x2="217" y2="205" stroke="#333" stroke-width="0.8"/>
<line x1="356.5" y1="187" x2="356.5" y2="205" stroke="#333" stroke-width="0.8"/>
<line x1="456" y1="187" x2="456" y2="205" stroke="#333" stroke-width="0.8"/>
<line x1="550" y1="187" x2="550" y2="205" stroke="#333" stroke-width="0.8"/>
<line x1="616.5" y1="187" x2="616.5" y2="205" stroke="#333" stroke-width="0.8"/>
<text x="167.5" y="183.7" font-size="10.5" fill="#222" font-weight="400" text-anchor="middle" font-family='"Liberation Sans","Noto Sans CJK SC",sans-serif' textLength="20" lengthAdjust="spacingAndGlyphs">1900</text>
<text x="286" y="183.7" font-size="10.5" fill="#222" font-weight="400" text-anchor="middle" font-family='"Liberation Sans","Noto Sans CJK SC",sans-serif' textLength="20" lengthAdjust="spacingAndGlyphs">2690</text>
<text x="405" y="183.7" font-size="10.5" fill="#222" font-weight="400" text-anchor="middle" font-family='"Liberation Sans","Noto Sans CJK SC",sans-serif' textLength="20" lengthAdjust="spacingAndGlyphs">1910</text>
<text x="484" y="183.7" font-size="10.5" fill="#222" font-weight="400" text-anchor="middle" font-family='"Liberation Sans","Noto Sans CJK SC",sans-serif' textLength="20" lengthAdjust="spacingAndGlyphs">1150</text>
<text x="564" y="183.7" font-size="10.5" fill="#222" font-weight="400" text-anchor="middle" font-family='"Liberation Sans","Noto Sans CJK SC",sans-serif' textLength="20" lengthAdjust="spacingAndGlyphs">1950</text>
<line x1="119" y1="651" x2="616.5" y2="651" stroke="#333" stroke-width="0.8"/>
<line x1="119" y1="636" x2="119" y2="653" stroke="#333" stroke-width="0.8"/>
<line x1="305" y1="636" x2="305" y2="653" stroke="#333" stroke-width="0.8"/>
<line x1="456" y1="636" x2="456" y2="653" stroke="#333" stroke-width="0.8"/>
<line x1="616.5" y1="636" x2="616.5" y2="653" stroke="#333" stroke-width="0.8"/>
<text x="212.5" y="663.5" font-size="10.5" fill="#222" font-weight="400" text-anchor="middle" font-family='"Liberation Sans","Noto Sans CJK SC",sans-serif' textLength="20" lengthAdjust="spacingAndGlyphs">3600</text>
<text x="380" y="663.5" font-size="10.5" fill="#222" font-weight="400" text-anchor="middle" font-family='"Liberation Sans","Noto Sans CJK SC",sans-serif' textLength="20" lengthAdjust="spacingAndGlyphs">2900</text>
<text x="535" y="663.5" font-size="10.5" fill="#222" font-weight="400" text-anchor="middle" font-family='"Liberation Sans","Noto Sans CJK SC",sans-serif' textLength="20" lengthAdjust="spacingAndGlyphs">3100</text>
<line x1="662.5" y1="222" x2="662.5" y2="604.5" stroke="#333" stroke-width="0.8"/>
<line x1="648" y1="222" x2="664" y2="222" stroke="#333" stroke-width="0.8"/>
<line x1="648" y1="294.5" x2="664" y2="294.5" stroke="#333" stroke-width="0.8"/>
<line x1="648" y1="411" x2="664" y2="411" stroke="#333" stroke-width="0.8"/>
<line x1="648" y1="604.5" x2="664" y2="604.5" stroke="#333" stroke-width="0.8"/>
<text transform="translate(675 255.5) rotate(-90)" font-size="10.5" fill="#222" text-anchor="middle" font-family='"Liberation Sans","Noto Sans CJK SC",sans-serif' textLength="20" lengthAdjust="spacingAndGlyphs">1400</text>
<text transform="translate(675 352.5) rotate(-90)" font-size="10.5" fill="#222" text-anchor="middle" font-family='"Liberation Sans","Noto Sans CJK SC",sans-serif' textLength="20" lengthAdjust="spacingAndGlyphs">2250</text>
<text transform="translate(675 506.5) rotate(-90)" font-size="10.5" fill="#222" text-anchor="middle" font-family='"Liberation Sans","Noto Sans CJK SC",sans-serif' textLength="20" lengthAdjust="spacingAndGlyphs">3750</text>
<line x1="72" y1="237" x2="72" y2="604.5" stroke="#333" stroke-width="0.8"/>
<line x1="71" y1="237" x2="87" y2="237" stroke="#333" stroke-width="0.8"/>
<line x1="71" y1="348.8" x2="87" y2="348.8" stroke="#333" stroke-width="0.8"/>
<line x1="71" y1="410.8" x2="87" y2="410.8" stroke="#333" stroke-width="0.8"/>
<line x1="71" y1="604.5" x2="87" y2="604.5" stroke="#333" stroke-width="0.8"/>
<text transform="translate(67.5 293) rotate(-90)" font-size="10.5" fill="#222" text-anchor="middle" font-family='"Liberation Sans","Noto Sans CJK SC",sans-serif' textLength="20" lengthAdjust="spacingAndGlyphs">2150</text>
<text transform="translate(67.5 379.5) rotate(-90)" font-size="10.5" fill="#222" text-anchor="middle" font-family='"Liberation Sans","Noto Sans CJK SC",sans-serif' textLength="20" lengthAdjust="spacingAndGlyphs">1200</text>
<text transform="translate(67.5 508) rotate(-90)" font-size="10.5" fill="#222" text-anchor="middle" font-family='"Liberation Sans","Noto Sans CJK SC",sans-serif' textLength="20" lengthAdjust="spacingAndGlyphs">3750</text>
<text x="571" y="701" font-size="10" fill="#555" font-weight="400" text-anchor="middle" font-family='"Liberation Sans","Noto Sans CJK SC",sans-serif' textLength="91" lengthAdjust="spacingAndGlyphs">第三方装修案例分享</text>
<path d="M200 783.2 L229 791.7 L201 798.7 Z" fill="#f09b99"/>
<circle cx="161.2" cy="793.9" r="44.7" fill="#f09b99"/>
<text transform="translate(141 816.8) scale(0.85 1)" font-size="67.5" fill="#fff" font-weight="700" font-family='"Liberation Sans","Noto Sans CJK SC",sans-serif'>F</text>
<text x="188.5" y="798.8" font-size="12" fill="#fff" font-weight="500" text-anchor="middle" font-family='"Liberation Sans","Noto Sans CJK SC",sans-serif'>户</text>
<text x="188.5" y="814.5" font-size="12" fill="#fff" font-weight="500" text-anchor="middle" font-family='"Liberation Sans","Noto Sans CJK SC",sans-serif'>型</text>
<rect x="257.5" y="765" width="365" height="51.5" fill="#fff" stroke="#4a5060" stroke-width="1"/>
<text x="292.5" y="799.39" font-size="24" fill="#1f2c4e" font-weight="500" text-anchor="start" font-family='"Liberation Sans","Noto Sans CJK SC",sans-serif' textLength="72" lengthAdjust="spacingAndGlyphs" stroke="#1f2c4e" stroke-width="0.55">楼栋：</text>
<text x="368.5" y="800.11" font-size="26" fill="#1f2c4e" font-weight="500" text-anchor="start" font-family='"Liberation Sans","Noto Sans CJK SC",sans-serif' textLength="119" lengthAdjust="spacingAndGlyphs" stroke="#1f2c4e" stroke-width="0.55">A8#-A13#</text>
<text x="526.5" y="800.11" font-size="26" fill="#1f2c4e" font-weight="500" text-anchor="start" font-family='"Liberation Sans","Noto Sans CJK SC",sans-serif' textLength="62.5" lengthAdjust="spacingAndGlyphs" stroke="#1f2c4e" stroke-width="0.55">B28#</text>
<g><rect x="183" y="971.5" width="193" height="29" fill="#dcdcdc"/>
<rect x="185" y="971.5" width="37" height="51.5" fill="#dcdcdc"/>
<rect x="85" y="967.3" width="65" height="3.2" fill="#e3e3e3" stroke="#666" stroke-width="0.5"/>
<rect x="114" y="967.3" width="19" height="3.2" fill="#bbb"/>
<rect x="42.3" y="970.5" width="138.5" height="177.5" fill="#34abe1" stroke="#1e5f8a" stroke-width="0.8"/>
<path d="M185 1023 L222.5 1023 L222.5 1003.5 L314.5 1003.5 L314.5 1029 L372.5 1029 L372.5 1148 L185 1148 Z" fill="#f29b97"/>
<path d="M185 1023 L185 1148 L372.5 1148" fill="none" stroke="#444" stroke-width="0.8"/>
<rect x="216.5" y="1002" width="6.3" height="20" fill="#fff" stroke="#333" stroke-width="0.8"/>
<rect x="216.5" y="1019.5" width="6.3" height="3" fill="#1a1a1a"/>
<rect x="282" y="1000" width="32.5" height="3" fill="#1a1a1a"/>
<line x1="222" y1="1002.5" x2="282" y2="1002.5" stroke="#444" stroke-width="0.8"/>
<rect x="312" y="1111.5" width="4.5" height="37.5" fill="#1a1a1a"/>
<rect x="180.5" y="1122" width="4" height="30" fill="#1a1a1a"/>
<rect x="182" y="969" width="4" height="36" fill="#fff" stroke="#333" stroke-width="0.7"/>
<rect x="314.5" y="1001" width="34" height="25" fill="#fff" stroke="#555" stroke-width="0.8"/>
<path d="M318 1004 L345 1004 L345 1023 L318 1023 Z" fill="none" stroke="#999" stroke-width="0.6"/>
<line x1="318" y1="1004" x2="322" y2="1023" stroke="#999" stroke-width="0.6"/>
<rect x="316" y="1026" width="32" height="3" fill="#ddd" stroke="#666" stroke-width="0.5"/>
<rect x="354" y="1000.5" width="21" height="25.5" fill="#fff" stroke="#444" stroke-width="0.8"/>
<path d="M357 1001 l2 4 l2 -4 l2 4 l2 -4 l2 4 l2 -4" fill="none" stroke="#444" stroke-width="0.6"/>
<rect x="351" y="1026" width="5" height="3" fill="#999"/>
<line x1="372.8" y1="1029" x2="372.8" y2="1150" stroke="#222" stroke-width="1"/>
<path d="M375.5 876 L293 876 L293 902" fill="none" stroke="#333" stroke-width="0.9"/>
<path d="M375.5 885 L296 885 L296 902" fill="none" stroke="#333" stroke-width="0.7"/>
<path d="M293 885 L336.7 885 L336.7 911 L375.5 911" fill="none" stroke="#333" stroke-width="0.9"/>
<line x1="375.5" y1="878.5" x2="293" y2="878.5" stroke="#999" stroke-width="0.5"/>
<path d="M293 902 L129 902 L129 968" fill="none" stroke="#333" stroke-width="0.9"/>
<line x1="129" y1="905" x2="284" y2="905" stroke="#555" stroke-width="0.6"/>
<rect x="149.2" y="902" width="1.7" height="67" fill="#222"/>
<rect x="148.7" y="901.5" width="19.3" height="4" fill="#1a1a1a"/>
<rect x="127.5" y="900.5" width="5" height="5" fill="#1a1a1a"/>
<rect x="284.5" y="902" width="8.5" height="7.6" fill="#1a1a1a"/>
<rect x="284.5" y="963" width="8.5" height="8" fill="#1a1a1a"/>
<rect x="148.7" y="966.5" width="37.3" height="4" fill="#1a1a1a"/>
<line x1="186" y1="968.5" x2="285" y2="968.5" stroke="#555" stroke-width="0.8"/>
<line x1="186" y1="971" x2="285" y2="971" stroke="#888" stroke-width="0.5"/>
<line x1="129" y1="968" x2="149" y2="968" stroke="#333" stroke-width="0.8"/>
<rect x="135" y="941" width="9.8" height="23" fill="#fff" stroke="#333" stroke-width="0.7"/>
<line x1="135" y1="941" x2="144.8" y2="964" stroke="#333" stroke-width="0.56"/>
<line x1="144.8" y1="941" x2="135" y2="964" stroke="#333" stroke-width="0.56"/>
<line x1="140" y1="941" x2="140" y2="964" stroke="#333" stroke-width="0.5"/>
<circle cx="182" cy="935.3" r="29" fill="none" stroke="#444" stroke-width="0.8" stroke-dasharray="3 2"/>
<circle cx="234" cy="935.3" r="30" fill="none" stroke="#444" stroke-width="0.8" stroke-dasharray="3 2"/>
<rect x="201.5" y="938.3" width="34.2" height="27.2" fill="#fff" stroke="#333" stroke-width="0.8"/>
<line x1="205.3" y1="938.3" x2="205.3" y2="965.5" stroke="#333" stroke-width="0.6"/>
<line x1="209.1" y1="938.3" x2="209.1" y2="965.5" stroke="#333" stroke-width="0.6"/>
<line x1="212.9" y1="938.3" x2="212.9" y2="965.5" stroke="#333" stroke-width="0.6"/>
<line x1="216.7" y1="938.3" x2="216.7" y2="965.5" stroke="#333" stroke-width="0.6"/>
<line x1="220.5" y1="938.3" x2="220.5" y2="965.5" stroke="#333" stroke-width="0.6"/>
<line x1="224.3" y1="938.3" x2="224.3" y2="965.5" stroke="#333" stroke-width="0.6"/>
<line x1="228.1" y1="938.3" x2="228.1" y2="965.5" stroke="#333" stroke-width="0.6"/>
<line x1="231.9" y1="938.3" x2="231.9" y2="965.5" stroke="#333" stroke-width="0.6"/>
<line x1="201.5" y1="938.3" x2="217" y2="965.5" stroke="#333" stroke-width="0.8"/>
<line x1="217" y1="951" x2="240" y2="951" stroke="#333" stroke-width="0.6"/>
<path d="M186 975 A22 22 0 0 0 208 997" fill="none" stroke="#555" stroke-width="0.6"/>
<line x1="186" y1="975" x2="208" y2="975" stroke="#555" stroke-width="0.6"/>
<path d="M190 1022 A14 14 0 0 1 204 1008" fill="none" stroke="#555" stroke-width="0.6"/>
<path d="M218 1008 A14 14 0 0 0 204 1022" fill="none" stroke="#555" stroke-width="0.6"/>
<path d="M32.5 1076 L32.5 1165 L184 1165" fill="none" stroke="#333" stroke-width="0.8"/>
<line x1="32.5" y1="1076" x2="41" y2="1076" stroke="#333" stroke-width="0.8"/>
<rect x="51" y="1148.5" width="49" height="4" fill="#bbb" stroke="#555" stroke-width="0.5"/>
<rect x="118" y="1148.5" width="47" height="4.5" fill="#fff" stroke="#333" stroke-width="0.7"/>
<rect x="100" y="1148.5" width="4" height="4" fill="#1a1a1a"/>
<rect x="112" y="1148.5" width="5" height="4" fill="#1a1a1a"/>
<rect x="165" y="1148.5" width="17" height="4" fill="#1a1a1a"/>
<line x1="100" y1="1152" x2="100" y2="1165" stroke="#333" stroke-width="0.7"/>
<line x1="166" y1="1152" x2="166" y2="1165" stroke="#333" stroke-width="0.7"/>
<rect x="192" y="1149" width="52" height="4.5" fill="#fff" stroke="#333" stroke-width="0.7"/>
<rect x="262" y="1149" width="48" height="4.5" fill="#fff" stroke="#333" stroke-width="0.7"/>
<rect x="322" y="1149" width="34" height="4.5" fill="#fff" stroke="#333" stroke-width="0.7"/>
<line x1="184" y1="1158" x2="358" y2="1158" stroke="#555" stroke-width="0.6"/>
<line x1="244" y1="1153" x2="244" y2="1165" stroke="#333" stroke-width="0.6"/>
<line x1="184" y1="1165" x2="250" y2="1165" stroke="#333" stroke-width="0.7"/></g>
<g transform="translate(752.3 0) scale(-1 1)"><rect x="183" y="971.5" width="193" height="29" fill="#dcdcdc"/>
<rect x="185" y="971.5" width="37" height="51.5" fill="#dcdcdc"/>
<rect x="85" y="967.3" width="65" height="3.2" fill="#e3e3e3" stroke="#666" stroke-width="0.5"/>
<rect x="114" y="967.3" width="19" height="3.2" fill="#bbb"/>
<rect x="42.3" y="970.5" width="138.5" height="177.5" fill="#34abe1" stroke="#1e5f8a" stroke-width="0.8"/>
<path d="M185 1023 L222.5 1023 L222.5 1003.5 L314.5 1003.5 L314.5 1029 L372.5 1029 L372.5 1148 L185 1148 Z" fill="#f29b97"/>
<path d="M185 1023 L185 1148 L372.5 1148" fill="none" stroke="#444" stroke-width="0.8"/>
<rect x="216.5" y="1002" width="6.3" height="20" fill="#fff" stroke="#333" stroke-width="0.8"/>
<rect x="216.5" y="1019.5" width="6.3" height="3" fill="#1a1a1a"/>
<rect x="282" y="1000" width="32.5" height="3" fill="#1a1a1a"/>
<line x1="222" y1="1002.5" x2="282" y2="1002.5" stroke="#444" stroke-width="0.8"/>
<rect x="312" y="1111.5" width="4.5" height="37.5" fill="#1a1a1a"/>
<rect x="180.5" y="1122" width="4" height="30" fill="#1a1a1a"/>
<rect x="182" y="969" width="4" height="36" fill="#fff" stroke="#333" stroke-width="0.7"/>
<rect x="314.5" y="1001" width="34" height="25" fill="#fff" stroke="#555" stroke-width="0.8"/>
<path d="M318 1004 L345 1004 L345 1023 L318 1023 Z" fill="none" stroke="#999" stroke-width="0.6"/>
<line x1="318" y1="1004" x2="322" y2="1023" stroke="#999" stroke-width="0.6"/>
<rect x="316" y="1026" width="32" height="3" fill="#ddd" stroke="#666" stroke-width="0.5"/>
<rect x="354" y="1000.5" width="21" height="25.5" fill="#fff" stroke="#444" stroke-width="0.8"/>
<path d="M357 1001 l2 4 l2 -4 l2 4 l2 -4 l2 4 l2 -4" fill="none" stroke="#444" stroke-width="0.6"/>
<rect x="351" y="1026" width="5" height="3" fill="#999"/>
<line x1="372.8" y1="1029" x2="372.8" y2="1150" stroke="#222" stroke-width="1"/>
<path d="M375.5 876 L293 876 L293 902" fill="none" stroke="#333" stroke-width="0.9"/>
<path d="M375.5 885 L296 885 L296 902" fill="none" stroke="#333" stroke-width="0.7"/>
<path d="M293 885 L336.7 885 L336.7 911 L375.5 911" fill="none" stroke="#333" stroke-width="0.9"/>
<line x1="375.5" y1="878.5" x2="293" y2="878.5" stroke="#999" stroke-width="0.5"/>
<path d="M293 902 L129 902 L129 968" fill="none" stroke="#333" stroke-width="0.9"/>
<line x1="129" y1="905" x2="284" y2="905" stroke="#555" stroke-width="0.6"/>
<rect x="149.2" y="902" width="1.7" height="67" fill="#222"/>
<rect x="148.7" y="901.5" width="19.3" height="4" fill="#1a1a1a"/>
<rect x="127.5" y="900.5" width="5" height="5" fill="#1a1a1a"/>
<rect x="284.5" y="902" width="8.5" height="7.6" fill="#1a1a1a"/>
<rect x="284.5" y="963" width="8.5" height="8" fill="#1a1a1a"/>
<rect x="148.7" y="966.5" width="37.3" height="4" fill="#1a1a1a"/>
<line x1="186" y1="968.5" x2="285" y2="968.5" stroke="#555" stroke-width="0.8"/>
<line x1="186" y1="971" x2="285" y2="971" stroke="#888" stroke-width="0.5"/>
<line x1="129" y1="968" x2="149" y2="968" stroke="#333" stroke-width="0.8"/>
<rect x="135" y="941" width="9.8" height="23" fill="#fff" stroke="#333" stroke-width="0.7"/>
<line x1="135" y1="941" x2="144.8" y2="964" stroke="#333" stroke-width="0.56"/>
<line x1="144.8" y1="941" x2="135" y2="964" stroke="#333" stroke-width="0.56"/>
<line x1="140" y1="941" x2="140" y2="964" stroke="#333" stroke-width="0.5"/>
<circle cx="182" cy="935.3" r="29" fill="none" stroke="#444" stroke-width="0.8" stroke-dasharray="3 2"/>
<circle cx="234" cy="935.3" r="30" fill="none" stroke="#444" stroke-width="0.8" stroke-dasharray="3 2"/>
<rect x="201.5" y="938.3" width="34.2" height="27.2" fill="#fff" stroke="#333" stroke-width="0.8"/>
<line x1="205.3" y1="938.3" x2="205.3" y2="965.5" stroke="#333" stroke-width="0.6"/>
<line x1="209.1" y1="938.3" x2="209.1" y2="965.5" stroke="#333" stroke-width="0.6"/>
<line x1="212.9" y1="938.3" x2="212.9" y2="965.5" stroke="#333" stroke-width="0.6"/>
<line x1="216.7" y1="938.3" x2="216.7" y2="965.5" stroke="#333" stroke-width="0.6"/>
<line x1="220.5" y1="938.3" x2="220.5" y2="965.5" stroke="#333" stroke-width="0.6"/>
<line x1="224.3" y1="938.3" x2="224.3" y2="965.5" stroke="#333" stroke-width="0.6"/>
<line x1="228.1" y1="938.3" x2="228.1" y2="965.5" stroke="#333" stroke-width="0.6"/>
<line x1="231.9" y1="938.3" x2="231.9" y2="965.5" stroke="#333" stroke-width="0.6"/>
<line x1="201.5" y1="938.3" x2="217" y2="965.5" stroke="#333" stroke-width="0.8"/>
<line x1="217" y1="951" x2="240" y2="951" stroke="#333" stroke-width="0.6"/>
<path d="M186 975 A22 22 0 0 0 208 997" fill="none" stroke="#555" stroke-width="0.6"/>
<line x1="186" y1="975" x2="208" y2="975" stroke="#555" stroke-width="0.6"/>
<path d="M190 1022 A14 14 0 0 1 204 1008" fill="none" stroke="#555" stroke-width="0.6"/>
<path d="M218 1008 A14 14 0 0 0 204 1022" fill="none" stroke="#555" stroke-width="0.6"/>
<path d="M32.5 1076 L32.5 1165 L184 1165" fill="none" stroke="#333" stroke-width="0.8"/>
<line x1="32.5" y1="1076" x2="41" y2="1076" stroke="#333" stroke-width="0.8"/>
<rect x="51" y="1148.5" width="49" height="4" fill="#bbb" stroke="#555" stroke-width="0.5"/>
<rect x="118" y="1148.5" width="47" height="4.5" fill="#fff" stroke="#333" stroke-width="0.7"/>
<rect x="100" y="1148.5" width="4" height="4" fill="#1a1a1a"/>
<rect x="112" y="1148.5" width="5" height="4" fill="#1a1a1a"/>
<rect x="165" y="1148.5" width="17" height="4" fill="#1a1a1a"/>
<line x1="100" y1="1152" x2="100" y2="1165" stroke="#333" stroke-width="0.7"/>
<line x1="166" y1="1152" x2="166" y2="1165" stroke="#333" stroke-width="0.7"/>
<rect x="192" y="1149" width="52" height="4.5" fill="#fff" stroke="#333" stroke-width="0.7"/>
<rect x="262" y="1149" width="48" height="4.5" fill="#fff" stroke="#333" stroke-width="0.7"/>
<rect x="322" y="1149" width="34" height="4.5" fill="#fff" stroke="#333" stroke-width="0.7"/>
<line x1="184" y1="1158" x2="358" y2="1158" stroke="#555" stroke-width="0.6"/>
<line x1="244" y1="1153" x2="244" y2="1165" stroke="#333" stroke-width="0.6"/>
<line x1="184" y1="1165" x2="250" y2="1165" stroke="#333" stroke-width="0.7"/></g>
<rect x="350" y="914.3" width="51" height="43.2" fill="#fff" stroke="#1a1a1a" stroke-width="3"/>
<rect x="364.5" y="921.7" width="22.3" height="3.9" fill="#fff" stroke="#333" stroke-width="0.7"/>
<rect x="358" y="928.8" width="35" height="22.2" fill="#fff" stroke="#333" stroke-width="0.8"/>
<line x1="358" y1="928.8" x2="393" y2="951" stroke="#333" stroke-width="0.64"/>
<line x1="393" y1="928.8" x2="358" y2="951" stroke="#333" stroke-width="0.64"/>
<rect x="364" y="957" width="23" height="3.5" fill="#fff" stroke="#333" stroke-width="0.6"/>
<rect x="358" y="1151" width="36" height="24" fill="#fff" stroke="#333" stroke-width="0.8"/>
<rect x="365" y="1158" width="23" height="9.5" fill="#fff" stroke="#333" stroke-width="0.7"/>
<line x1="365" y1="1158" x2="388" y2="1167.5" stroke="#333" stroke-width="0.56"/>
<line x1="388" y1="1158" x2="365" y2="1167.5" stroke="#333" stroke-width="0.56"/>
<rect x="356.5" y="1170" width="3.5" height="5.5" fill="#1a1a1a"/>
<rect x="392" y="1170" width="3.5" height="5.5" fill="#1a1a1a"/>
<text x="375.6" y="988.7" font-size="7.2" fill="#222" font-weight="700" text-anchor="middle" font-family='"Liberation Sans","Noto Sans CJK SC",sans-serif'>公共走廊</text>
<text x="364.5" y="1017" font-size="7.5" fill="#222" font-weight="400" text-anchor="middle" font-family='"Liberation Serif","Noto Serif CJK SC",serif'>水井</text>
<text x="387.8" y="1017" font-size="7.5" fill="#222" font-weight="400" text-anchor="middle" font-family='"Liberation Serif","Noto Serif CJK SC",serif'>电井</text>
<text x="327" y="1011" font-size="5" fill="#222" font-weight="400" text-anchor="middle" font-family='"Liberation Serif","Noto Serif CJK SC",serif'>空</text>
<text x="424" y="1011" font-size="5" fill="#222" font-weight="400" text-anchor="middle" font-family='"Liberation Serif","Noto Serif CJK SC",serif'>空</text>
<text x="241" y="955.5" font-size="4.5" fill="#222" font-weight="400" text-anchor="middle" font-family='"Liberation Sans","Noto Sans CJK SC",sans-serif'>上</text>
<text x="510" y="955.5" font-size="4.5" fill="#222" font-weight="400" text-anchor="middle" font-family='"Liberation Sans","Noto Sans CJK SC",sans-serif'>上</text>
<circle cx="111.5" cy="1063.9" r="18.2" fill="#fff"/>
<text x="111.5" y="1070.38" font-size="18" fill="#34abe1" font-weight="700" text-anchor="middle" font-family='"Liberation Sans","Noto Sans CJK SC",sans-serif' textLength="21" lengthAdjust="spacingAndGlyphs">04</text>
<text x="110.9" y="1110.9" font-size="20" fill="#fff" font-weight="700" text-anchor="middle" font-family='"Liberation Sans","Noto Sans CJK SC",sans-serif' textLength="53.5" lengthAdjust="spacingAndGlyphs">E户型</text>
<circle cx="279.9" cy="1063.2" r="18.2" fill="#fff"/>
<text x="279.9" y="1069.68" font-size="18" fill="#ee8b88" font-weight="700" text-anchor="middle" font-family='"Liberation Sans","Noto Sans CJK SC",sans-serif' textLength="21" lengthAdjust="spacingAndGlyphs">03</text>
<text x="279.7" y="1110.7" font-size="20" fill="#fff" font-weight="700" text-anchor="middle" font-family='"Liberation Sans","Noto Sans CJK SC",sans-serif' textLength="50" lengthAdjust="spacingAndGlyphs">F户型</text>
<circle cx="472.4" cy="1063.2" r="18.2" fill="#fff"/>
<text x="472.4" y="1069.68" font-size="18" fill="#ee8b88" font-weight="700" text-anchor="middle" font-family='"Liberation Sans","Noto Sans CJK SC",sans-serif' textLength="21" lengthAdjust="spacingAndGlyphs">02</text>
<text x="472.1" y="1110.7" font-size="20" fill="#fff" font-weight="700" text-anchor="middle" font-family='"Liberation Sans","Noto Sans CJK SC",sans-serif' textLength="50" lengthAdjust="spacingAndGlyphs">F户型</text>
<circle cx="640.6" cy="1062.7" r="18.2" fill="#fff"/>
<text x="640.6" y="1069.18" font-size="18" fill="#34abe1" font-weight="700" text-anchor="middle" font-family='"Liberation Sans","Noto Sans CJK SC",sans-serif' textLength="21" lengthAdjust="spacingAndGlyphs">01</text>
<text x="640" y="1110.2" font-size="20" fill="#fff" font-weight="700" text-anchor="middle" font-family='"Liberation Sans","Noto Sans CJK SC",sans-serif' textLength="53.5" lengthAdjust="spacingAndGlyphs">E户型</text>
<text x="377.3" y="1239.7" font-size="22" fill="#262f49" font-weight="500" text-anchor="middle" font-family='"Liberation Sans","Noto Sans CJK SC",sans-serif' textLength="141" lengthAdjust="spacing"><tspan font-weight="400">(</tspan>平面示意图<tspan font-weight="400">)</tspan></text>
<path d="M200 2073.5 L229 2082 L201 2089 Z" fill="#f09b99"/>
<circle cx="161.2" cy="2084.2" r="44.7" fill="#f09b99"/>
<text transform="translate(141 2107.1) scale(0.85 1)" font-size="67.5" fill="#fff" font-weight="700" font-family='"Liberation Sans","Noto Sans CJK SC",sans-serif'>F</text>
<text x="188.5" y="2089.1" font-size="12" fill="#fff" font-weight="500" text-anchor="middle" font-family='"Liberation Sans","Noto Sans CJK SC",sans-serif'>户</text>
<text x="188.5" y="2104.8" font-size="12" fill="#fff" font-weight="500" text-anchor="middle" font-family='"Liberation Sans","Noto Sans CJK SC",sans-serif'>型</text>
<rect x="257.5" y="2056" width="365" height="51.5" fill="#fff" stroke="#4a5060" stroke-width="1"/>
<text x="367.5" y="2090.39" font-size="24" fill="#1f2c4e" font-weight="500" text-anchor="start" font-family='"Liberation Sans","Noto Sans CJK SC",sans-serif' textLength="72" lengthAdjust="spacingAndGlyphs" stroke="#1f2c4e" stroke-width="0.55">楼栋：</text>
<text x="442.5" y="2091.11" font-size="26" fill="#1f2c4e" font-weight="500" text-anchor="start" font-family='"Liberation Sans","Noto Sans CJK SC",sans-serif' textLength="61.5" lengthAdjust="spacingAndGlyphs" stroke="#1f2c4e" stroke-width="0.55">B27#</text>
<g><rect x="126" y="2240.5" width="248" height="18" fill="#dcdcdc"/>
<rect x="128" y="2240.5" width="21" height="32" fill="#dcdcdc"/>
<rect x="36.4" y="2239.3" width="88.9" height="113.4" fill="#34abe1" stroke="#1e5f8a" stroke-width="0.8"/>
<rect x="34.6" y="2330" width="2" height="24.5" fill="#1a1a1a"/>
<rect x="34.6" y="2352.7" width="40.4" height="1.8" fill="#1a1a1a"/>
<rect x="85" y="2352.7" width="33" height="1.8" fill="#1a1a1a"/>
<path d="M130 2272.5 L153 2272.5 L153 2260.5 L211 2260.5 L211 2277 L249 2277 L249 2352.5 L130 2352.5 Z" fill="#f29b97"/>
<path d="M252 2277 L290.7 2277 L290.7 2260.5 L346.8 2260.5 L346.8 2272 L371.3 2272 L371.3 2352.5 L252 2352.5 Z" fill="#f29b97"/>
<path d="M130 2272.5 L130 2352.5 L371.3 2352.5" fill="none" stroke="#444" stroke-width="0.7"/>
<rect x="149.3" y="2258" width="3.7" height="13.8" fill="#fff" stroke="#333" stroke-width="0.7"/>
<rect x="149.3" y="2269.5" width="3.7" height="2.5" fill="#1a1a1a"/>
<rect x="190.7" y="2257.5" width="20.3" height="2.8" fill="#1a1a1a"/>
<rect x="290.5" y="2257.5" width="19.8" height="2.8" fill="#1a1a1a"/>
<line x1="152.9" y1="2260" x2="190.7" y2="2260" stroke="#444" stroke-width="0.7"/>
<line x1="310.3" y1="2260" x2="347" y2="2260" stroke="#444" stroke-width="0.7"/>
<rect x="210.4" y="2330.4" width="2.5" height="23.6" fill="#1a1a1a"/>
<rect x="290.5" y="2330.4" width="2.5" height="23.6" fill="#1a1a1a"/>
<rect x="125.2" y="2332.6" width="3.5" height="21.9" fill="#1a1a1a"/>
<rect x="126" y="2239" width="3" height="23" fill="#fff" stroke="#333" stroke-width="0.6"/>
<line x1="250.4" y1="2277" x2="250.4" y2="2354" stroke="#222" stroke-width="0.9"/>
<line x1="372.2" y1="2272" x2="372.2" y2="2354" stroke="#222" stroke-width="0.9"/>
<rect x="345.5" y="2259" width="2.5" height="14" fill="#1a1a1a"/>
<rect x="211" y="2260" width="21.7" height="14" fill="#fff" stroke="#555" stroke-width="0.7"/>
<rect x="269" y="2260" width="21.7" height="14" fill="#fff" stroke="#555" stroke-width="0.7"/>
<rect x="235" y="2260" width="14.5" height="15" fill="#fff" stroke="#444" stroke-width="0.7"/>
<rect x="251.8" y="2260" width="14.4" height="15" fill="#fff" stroke="#444" stroke-width="0.7"/>
<rect x="212" y="2274" width="20" height="2.5" fill="#ddd" stroke="#666" stroke-width="0.4"/>
<rect x="270" y="2274" width="20" height="2.5" fill="#ddd" stroke="#666" stroke-width="0.4"/>
<path d="M349 2272 A11 11 0 0 1 360 2261" fill="none" stroke="#555" stroke-width="0.6"/>
<path d="M371 2272 A11 11 0 0 0 360 2261" fill="none" stroke="#555" stroke-width="0.6"/>
<path d="M129 2243 A15 15 0 0 0 144 2258" fill="none" stroke="#555" stroke-width="0.6"/>
<path d="M131 2272 A9 9 0 0 1 140 2263" fill="none" stroke="#555" stroke-width="0.6"/>
<path d="M149 2272 A9 9 0 0 0 140 2263" fill="none" stroke="#555" stroke-width="0.6"/>
<path d="M197.4 2195.2 L93.4 2195.2 L93.4 2239" fill="none" stroke="#333" stroke-width="0.8"/>
<line x1="93.4" y1="2197.5" x2="192" y2="2197.5" stroke="#666" stroke-width="0.5"/>
<rect x="106.2" y="2195" width="1.3" height="45" fill="#222"/>
<rect x="105.8" y="2194.5" width="12.2" height="3" fill="#1a1a1a"/>
<rect x="92.4" y="2194.2" width="3.2" height="3.2" fill="#1a1a1a"/>
<rect x="192.4" y="2195" width="5.2" height="5" fill="#1a1a1a"/>
<rect x="192.4" y="2233.8" width="5.2" height="5.2" fill="#1a1a1a"/>
<rect x="105.8" y="2237.5" width="22.2" height="3" fill="#1a1a1a"/>
<line x1="128" y1="2239" x2="192.4" y2="2239" stroke="#555" stroke-width="0.7"/>
<rect x="96.8" y="2220.4" width="6" height="13.4" fill="#fff" stroke="#333" stroke-width="0.6"/>
<line x1="96.8" y1="2220.4" x2="102.8" y2="2233.8" stroke="#333" stroke-width="0.48"/>
<line x1="102.8" y1="2220.4" x2="96.8" y2="2233.8" stroke="#333" stroke-width="0.48"/>
<circle cx="127" cy="2217" r="18.6" fill="none" stroke="#444" stroke-width="0.7" stroke-dasharray="2.5 1.8"/>
<circle cx="160.5" cy="2217" r="19.8" fill="none" stroke="#444" stroke-width="0.7" stroke-dasharray="2.5 1.8"/>
<rect x="140.4" y="2218.7" width="21.1" height="17.3" fill="#fff" stroke="#333" stroke-width="0.7"/>
<line x1="143.04" y1="2218.7" x2="143.04" y2="2236" stroke="#333" stroke-width="0.5"/>
<line x1="145.68" y1="2218.7" x2="145.68" y2="2236" stroke="#333" stroke-width="0.5"/>
<line x1="148.32" y1="2218.7" x2="148.32" y2="2236" stroke="#333" stroke-width="0.5"/>
<line x1="150.96" y1="2218.7" x2="150.96" y2="2236" stroke="#333" stroke-width="0.5"/>
<line x1="153.6" y1="2218.7" x2="153.6" y2="2236" stroke="#333" stroke-width="0.5"/>
<line x1="156.24" y1="2218.7" x2="156.24" y2="2236" stroke="#333" stroke-width="0.5"/>
<line x1="158.88" y1="2218.7" x2="158.88" y2="2236" stroke="#333" stroke-width="0.5"/>
<line x1="140.4" y1="2218.7" x2="150" y2="2236" stroke="#333" stroke-width="0.7"/>
<path d="M197.4 2200 L197.4 2178.4 L275.6 2178.4 L275.6 2200.2" fill="none" stroke="#444" stroke-width="0.7" stroke-dasharray="3 1.5"/>
<path d="M197.4 2184.5 L232.7 2184.5 L232.7 2200.2" fill="none" stroke="#333" stroke-width="0.8"/>
<line x1="197.4" y1="2178.4" x2="197.4" y2="2200" stroke="#333" stroke-width="0.8"/>
<line x1="275.6" y1="2184" x2="275.6" y2="2202" stroke="#333" stroke-width="0.8"/>
<line x1="197.4" y1="2200.2" x2="235" y2="2200.2" stroke="#333" stroke-width="0.8"/>
<line x1="266" y1="2202" x2="290" y2="2202" stroke="#333" stroke-width="0.7"/>
<line x1="290" y1="2202" x2="290" y2="2240" stroke="#333" stroke-width="0"/>
<rect x="236.2" y="2204.8" width="28.8" height="24.4" fill="#fff" stroke="#1a1a1a" stroke-width="2.4"/>
<rect x="242.8" y="2207.2" width="15.1" height="2.6" fill="#fff" stroke="#333" stroke-width="0.5"/>
<rect x="240.5" y="2213" width="20.5" height="13.5" fill="#fff" stroke="#333" stroke-width="0.6"/>
<line x1="240.5" y1="2213" x2="261" y2="2226.5" stroke="#333" stroke-width="0.48"/>
<line x1="261" y1="2213" x2="240.5" y2="2226.5" stroke="#333" stroke-width="0.48"/>
<line x1="266" y1="2238.7" x2="373.5" y2="2238.7" stroke="#777" stroke-width="0.6"/>
<path d="M31.3 2290 L31.3 2362.8 L128 2362.8" fill="none" stroke="#333" stroke-width="0.7"/>
<line x1="31.3" y1="2290" x2="36" y2="2290" stroke="#333" stroke-width="0.7"/>
<rect x="44" y="2354.5" width="30" height="2.5" fill="#ccc" stroke="#555" stroke-width="0.4"/>
<rect x="80" y="2354.5" width="36" height="3" fill="#fff" stroke="#333" stroke-width="0.6"/>
<rect x="134" y="2353" width="32" height="3.5" fill="#fff" stroke="#333" stroke-width="0.6"/>
<rect x="178" y="2353" width="30" height="3.5" fill="#fff" stroke="#333" stroke-width="0.6"/>
<rect x="216" y="2353" width="24" height="3.5" fill="#fff" stroke="#333" stroke-width="0.6"/>
<rect x="262" y="2353" width="26" height="3.5" fill="#fff" stroke="#333" stroke-width="0.6"/>
<rect x="296" y="2353" width="30" height="3.5" fill="#fff" stroke="#333" stroke-width="0.6"/>
<rect x="338" y="2353" width="30" height="3.5" fill="#fff" stroke="#333" stroke-width="0.6"/>
<line x1="128" y1="2360" x2="240" y2="2360" stroke="#555" stroke-width="0.5"/>
<line x1="261" y1="2360" x2="373.5" y2="2360" stroke="#555" stroke-width="0.5"/>
<rect x="240.4" y="2354.8" width="20.1" height="14.5" fill="#fff" stroke="#333" stroke-width="0.7"/>
<rect x="244" y="2359" width="13" height="6" fill="#fff" stroke="#333" stroke-width="0.5"/>
<line x1="244" y1="2359" x2="257" y2="2365" stroke="#333" stroke-width="0.4"/>
<line x1="257" y1="2359" x2="244" y2="2365" stroke="#333" stroke-width="0.4"/>
<rect x="239.4" y="2366" width="2.4" height="4" fill="#1a1a1a"/>
<rect x="259.2" y="2366" width="2.4" height="4" fill="#1a1a1a"/></g>
<g transform="translate(747 0) scale(-1 1)"><rect x="126" y="2240.5" width="248" height="18" fill="#dcdcdc"/>
<rect x="128" y="2240.5" width="21" height="32" fill="#dcdcdc"/>
<rect x="36.4" y="2239.3" width="88.9" height="113.4" fill="#34abe1" stroke="#1e5f8a" stroke-width="0.8"/>
<rect x="34.6" y="2330" width="2" height="24.5" fill="#1a1a1a"/>
<rect x="34.6" y="2352.7" width="40.4" height="1.8" fill="#1a1a1a"/>
<rect x="85" y="2352.7" width="33" height="1.8" fill="#1a1a1a"/>
<path d="M130 2272.5 L153 2272.5 L153 2260.5 L211 2260.5 L211 2277 L249 2277 L249 2352.5 L130 2352.5 Z" fill="#f29b97"/>
<path d="M252 2277 L290.7 2277 L290.7 2260.5 L346.8 2260.5 L346.8 2272 L371.3 2272 L371.3 2352.5 L252 2352.5 Z" fill="#f29b97"/>
<path d="M130 2272.5 L130 2352.5 L371.3 2352.5" fill="none" stroke="#444" stroke-width="0.7"/>
<rect x="149.3" y="2258" width="3.7" height="13.8" fill="#fff" stroke="#333" stroke-width="0.7"/>
<rect x="149.3" y="2269.5" width="3.7" height="2.5" fill="#1a1a1a"/>
<rect x="190.7" y="2257.5" width="20.3" height="2.8" fill="#1a1a1a"/>
<rect x="290.5" y="2257.5" width="19.8" height="2.8" fill="#1a1a1a"/>
<line x1="152.9" y1="2260" x2="190.7" y2="2260" stroke="#444" stroke-width="0.7"/>
<line x1="310.3" y1="2260" x2="347" y2="2260" stroke="#444" stroke-width="0.7"/>
<rect x="210.4" y="2330.4" width="2.5" height="23.6" fill="#1a1a1a"/>
<rect x="290.5" y="2330.4" width="2.5" height="23.6" fill="#1a1a1a"/>
<rect x="125.2" y="2332.6" width="3.5" height="21.9" fill="#1a1a1a"/>
<rect x="126" y="2239" width="3" height="23" fill="#fff" stroke="#333" stroke-width="0.6"/>
<line x1="250.4" y1="2277" x2="250.4" y2="2354" stroke="#222" stroke-width="0.9"/>
<line x1="372.2" y1="2272" x2="372.2" y2="2354" stroke="#222" stroke-width="0.9"/>
<rect x="345.5" y="2259" width="2.5" height="14" fill="#1a1a1a"/>
<rect x="211" y="2260" width="21.7" height="14" fill="#fff" stroke="#555" stroke-width="0.7"/>
<rect x="269" y="2260" width="21.7" height="14" fill="#fff" stroke="#555" stroke-width="0.7"/>
<rect x="235" y="2260" width="14.5" height="15" fill="#fff" stroke="#444" stroke-width="0.7"/>
<rect x="251.8" y="2260" width="14.4" height="15" fill="#fff" stroke="#444" stroke-width="0.7"/>
<rect x="212" y="2274" width="20" height="2.5" fill="#ddd" stroke="#666" stroke-width="0.4"/>
<rect x="270" y="2274" width="20" height="2.5" fill="#ddd" stroke="#666" stroke-width="0.4"/>
<path d="M349 2272 A11 11 0 0 1 360 2261" fill="none" stroke="#555" stroke-width="0.6"/>
<path d="M371 2272 A11 11 0 0 0 360 2261" fill="none" stroke="#555" stroke-width="0.6"/>
<path d="M129 2243 A15 15 0 0 0 144 2258" fill="none" stroke="#555" stroke-width="0.6"/>
<path d="M131 2272 A9 9 0 0 1 140 2263" fill="none" stroke="#555" stroke-width="0.6"/>
<path d="M149 2272 A9 9 0 0 0 140 2263" fill="none" stroke="#555" stroke-width="0.6"/>
<path d="M197.4 2195.2 L93.4 2195.2 L93.4 2239" fill="none" stroke="#333" stroke-width="0.8"/>
<line x1="93.4" y1="2197.5" x2="192" y2="2197.5" stroke="#666" stroke-width="0.5"/>
<rect x="106.2" y="2195" width="1.3" height="45" fill="#222"/>
<rect x="105.8" y="2194.5" width="12.2" height="3" fill="#1a1a1a"/>
<rect x="92.4" y="2194.2" width="3.2" height="3.2" fill="#1a1a1a"/>
<rect x="192.4" y="2195" width="5.2" height="5" fill="#1a1a1a"/>
<rect x="192.4" y="2233.8" width="5.2" height="5.2" fill="#1a1a1a"/>
<rect x="105.8" y="2237.5" width="22.2" height="3" fill="#1a1a1a"/>
<line x1="128" y1="2239" x2="192.4" y2="2239" stroke="#555" stroke-width="0.7"/>
<rect x="96.8" y="2220.4" width="6" height="13.4" fill="#fff" stroke="#333" stroke-width="0.6"/>
<line x1="96.8" y1="2220.4" x2="102.8" y2="2233.8" stroke="#333" stroke-width="0.48"/>
<line x1="102.8" y1="2220.4" x2="96.8" y2="2233.8" stroke="#333" stroke-width="0.48"/>
<circle cx="127" cy="2217" r="18.6" fill="none" stroke="#444" stroke-width="0.7" stroke-dasharray="2.5 1.8"/>
<circle cx="160.5" cy="2217" r="19.8" fill="none" stroke="#444" stroke-width="0.7" stroke-dasharray="2.5 1.8"/>
<rect x="140.4" y="2218.7" width="21.1" height="17.3" fill="#fff" stroke="#333" stroke-width="0.7"/>
<line x1="143.04" y1="2218.7" x2="143.04" y2="2236" stroke="#333" stroke-width="0.5"/>
<line x1="145.68" y1="2218.7" x2="145.68" y2="2236" stroke="#333" stroke-width="0.5"/>
<line x1="148.32" y1="2218.7" x2="148.32" y2="2236" stroke="#333" stroke-width="0.5"/>
<line x1="150.96" y1="2218.7" x2="150.96" y2="2236" stroke="#333" stroke-width="0.5"/>
<line x1="153.6" y1="2218.7" x2="153.6" y2="2236" stroke="#333" stroke-width="0.5"/>
<line x1="156.24" y1="2218.7" x2="156.24" y2="2236" stroke="#333" stroke-width="0.5"/>
<line x1="158.88" y1="2218.7" x2="158.88" y2="2236" stroke="#333" stroke-width="0.5"/>
<line x1="140.4" y1="2218.7" x2="150" y2="2236" stroke="#333" stroke-width="0.7"/>
<path d="M197.4 2200 L197.4 2178.4 L275.6 2178.4 L275.6 2200.2" fill="none" stroke="#444" stroke-width="0.7" stroke-dasharray="3 1.5"/>
<path d="M197.4 2184.5 L232.7 2184.5 L232.7 2200.2" fill="none" stroke="#333" stroke-width="0.8"/>
<line x1="197.4" y1="2178.4" x2="197.4" y2="2200" stroke="#333" stroke-width="0.8"/>
<line x1="275.6" y1="2184" x2="275.6" y2="2202" stroke="#333" stroke-width="0.8"/>
<line x1="197.4" y1="2200.2" x2="235" y2="2200.2" stroke="#333" stroke-width="0.8"/>
<line x1="266" y1="2202" x2="290" y2="2202" stroke="#333" stroke-width="0.7"/>
<line x1="290" y1="2202" x2="290" y2="2240" stroke="#333" stroke-width="0"/>
<rect x="236.2" y="2204.8" width="28.8" height="24.4" fill="#fff" stroke="#1a1a1a" stroke-width="2.4"/>
<rect x="242.8" y="2207.2" width="15.1" height="2.6" fill="#fff" stroke="#333" stroke-width="0.5"/>
<rect x="240.5" y="2213" width="20.5" height="13.5" fill="#fff" stroke="#333" stroke-width="0.6"/>
<line x1="240.5" y1="2213" x2="261" y2="2226.5" stroke="#333" stroke-width="0.48"/>
<line x1="261" y1="2213" x2="240.5" y2="2226.5" stroke="#333" stroke-width="0.48"/>
<line x1="266" y1="2238.7" x2="373.5" y2="2238.7" stroke="#777" stroke-width="0.6"/>
<path d="M31.3 2290 L31.3 2362.8 L128 2362.8" fill="none" stroke="#333" stroke-width="0.7"/>
<line x1="31.3" y1="2290" x2="36" y2="2290" stroke="#333" stroke-width="0.7"/>
<rect x="44" y="2354.5" width="30" height="2.5" fill="#ccc" stroke="#555" stroke-width="0.4"/>
<rect x="80" y="2354.5" width="36" height="3" fill="#fff" stroke="#333" stroke-width="0.6"/>
<rect x="134" y="2353" width="32" height="3.5" fill="#fff" stroke="#333" stroke-width="0.6"/>
<rect x="178" y="2353" width="30" height="3.5" fill="#fff" stroke="#333" stroke-width="0.6"/>
<rect x="216" y="2353" width="24" height="3.5" fill="#fff" stroke="#333" stroke-width="0.6"/>
<rect x="262" y="2353" width="26" height="3.5" fill="#fff" stroke="#333" stroke-width="0.6"/>
<rect x="296" y="2353" width="30" height="3.5" fill="#fff" stroke="#333" stroke-width="0.6"/>
<rect x="338" y="2353" width="30" height="3.5" fill="#fff" stroke="#333" stroke-width="0.6"/>
<line x1="128" y1="2360" x2="240" y2="2360" stroke="#555" stroke-width="0.5"/>
<line x1="261" y1="2360" x2="373.5" y2="2360" stroke="#555" stroke-width="0.5"/>
<rect x="240.4" y="2354.8" width="20.1" height="14.5" fill="#fff" stroke="#333" stroke-width="0.7"/>
<rect x="244" y="2359" width="13" height="6" fill="#fff" stroke="#333" stroke-width="0.5"/>
<line x1="244" y1="2359" x2="257" y2="2365" stroke="#333" stroke-width="0.4"/>
<line x1="257" y1="2359" x2="244" y2="2365" stroke="#333" stroke-width="0.4"/>
<rect x="239.4" y="2366" width="2.4" height="4" fill="#1a1a1a"/>
<rect x="259.2" y="2366" width="2.4" height="4" fill="#1a1a1a"/></g>
<rect x="371.8" y="2259" width="3.4" height="14" fill="#1a1a1a"/>
<text x="351" y="2251" font-size="6.8" fill="#222" font-weight="700" text-anchor="middle" font-family='"Liberation Sans","Noto Sans CJK SC",sans-serif'>公共走廊</text>
<text x="242.2" y="2269.3" font-size="5" fill="#222" font-weight="400" text-anchor="middle" font-family='"Liberation Serif","Noto Serif CJK SC",serif'>水井</text>
<text x="259" y="2269.3" font-size="5" fill="#222" font-weight="400" text-anchor="middle" font-family='"Liberation Serif","Noto Serif CJK SC",serif'>电井</text>
<text x="504.8" y="2269.3" font-size="5" fill="#222" font-weight="400" text-anchor="middle" font-family='"Liberation Serif","Noto Serif CJK SC",serif'>电井</text>
<text x="488" y="2269.3" font-size="5" fill="#222" font-weight="400" text-anchor="middle" font-family='"Liberation Serif","Noto Serif CJK SC",serif'>水井</text>
<text x="217" y="2266.5" font-size="4" fill="#222" font-weight="400" text-anchor="middle" font-family='"Liberation Serif","Noto Serif CJK SC",serif'>空</text>
<text x="285" y="2266.5" font-size="4" fill="#222" font-weight="400" text-anchor="middle" font-family='"Liberation Serif","Noto Serif CJK SC",serif'>空</text>
<text x="530" y="2266.5" font-size="4" fill="#222" font-weight="400" text-anchor="middle" font-family='"Liberation Serif","Noto Serif CJK SC",serif'>空</text>
<text x="462" y="2266.5" font-size="4" fill="#222" font-weight="400" text-anchor="middle" font-family='"Liberation Serif","Noto Serif CJK SC",serif'>空</text>
<circle cx="79.5" cy="2289.2" r="14.2" fill="#fff"/>
<text x="79.5" y="2294.78" font-size="15.5" fill="#34abe1" font-weight="700" text-anchor="middle" font-family='"Liberation Sans","Noto Sans CJK SC",sans-serif' textLength="18" lengthAdjust="spacingAndGlyphs">06</text>
<text x="81.3" y="2325.72" font-size="19.5" fill="#fff" font-weight="700" text-anchor="middle" font-family='"Liberation Sans","Noto Sans CJK SC",sans-serif' textLength="50.3" lengthAdjust="spacingAndGlyphs">E户型</text>
<circle cx="186.9" cy="2289.2" r="14.2" fill="#fff"/>
<text x="186.9" y="2294.78" font-size="15.5" fill="#ee8b88" font-weight="700" text-anchor="middle" font-family='"Liberation Sans","Noto Sans CJK SC",sans-serif' textLength="18" lengthAdjust="spacingAndGlyphs">05</text>
<text x="190.2" y="2325.72" font-size="19.5" fill="#fff" font-weight="700" text-anchor="middle" font-family='"Liberation Sans","Noto Sans CJK SC",sans-serif' textLength="48.7" lengthAdjust="spacingAndGlyphs">F户型</text>
<circle cx="315.5" cy="2289.2" r="14.2" fill="#fff"/>
<text x="315.5" y="2294.78" font-size="15.5" fill="#ee8b88" font-weight="700" text-anchor="middle" font-family='"Liberation Sans","Noto Sans CJK SC",sans-serif' textLength="18" lengthAdjust="spacingAndGlyphs">04</text>
<text x="311.1" y="2325.72" font-size="19.5" fill="#fff" font-weight="700" text-anchor="middle" font-family='"Liberation Sans","Noto Sans CJK SC",sans-serif' textLength="48.7" lengthAdjust="spacingAndGlyphs">F户型</text>
<circle cx="428.6" cy="2289.2" r="14.2" fill="#fff"/>
<text x="428.6" y="2294.78" font-size="15.5" fill="#ee8b88" font-weight="700" text-anchor="middle" font-family='"Liberation Sans","Noto Sans CJK SC",sans-serif' textLength="18" lengthAdjust="spacingAndGlyphs">03</text>
<text x="433.9" y="2325.72" font-size="19.5" fill="#fff" font-weight="700" text-anchor="middle" font-family='"Liberation Sans","Noto Sans CJK SC",sans-serif' textLength="48.7" lengthAdjust="spacingAndGlyphs">F户型</text>
<circle cx="561.4" cy="2289.2" r="14.2" fill="#fff"/>
<text x="561.4" y="2294.78" font-size="15.5" fill="#ee8b88" font-weight="700" text-anchor="middle" font-family='"Liberation Sans","Noto Sans CJK SC",sans-serif' textLength="18" lengthAdjust="spacingAndGlyphs">02</text>
<text x="562.8" y="2325.72" font-size="19.5" fill="#fff" font-weight="700" text-anchor="middle" font-family='"Liberation Sans","Noto Sans CJK SC",sans-serif' textLength="48.7" lengthAdjust="spacingAndGlyphs">F户型</text>
<circle cx="663.5" cy="2289.2" r="14.2" fill="#fff"/>
<text x="663.5" y="2294.78" font-size="15.5" fill="#34abe1" font-weight="700" text-anchor="middle" font-family='"Liberation Sans","Noto Sans CJK SC",sans-serif' textLength="18" lengthAdjust="spacingAndGlyphs">01</text>
<text x="664.3" y="2325.72" font-size="19.5" fill="#fff" font-weight="700" text-anchor="middle" font-family='"Liberation Sans","Noto Sans CJK SC",sans-serif' textLength="50.3" lengthAdjust="spacingAndGlyphs">E户型</text>
<text x="377.3" y="2421.7" font-size="22" fill="#262f49" font-weight="500" text-anchor="middle" font-family='"Liberation Sans","Noto Sans CJK SC",sans-serif' textLength="141" lengthAdjust="spacing"><tspan font-weight="400">(</tspan>平面示意图<tspan font-weight="400">)</tspan></text>
<path d="M305.5 1310 L337.7 1310 L337 1324.4 L332.5 1380 L328 1451 L321.5 1515 L316 1573.4 L268.8 1550 L271 1540 L277 1480 L283.5 1400 L290.4 1326.4 Z" fill="#bcc86c"/>
<path d="M272 1570 L313.2 1588 L307.8 1633.7 L301.1 1680.7 L298.4 1700 L295.5 1760 L297 1800 L300.5 1857.3 L348 1926.5 L300.5 1963 L250.2 1943 L236.4 1920 L247 1760 L253.7 1720 L260.4 1580 Q261 1570 272 1570 Z" fill="#bcc86c"/>
<path d="M313 1335 L299 1520 L294.5 1561" fill="none" stroke="#b9e4d2" stroke-width="4.6"/>
<path d="M289 1580.5 L272 1720 L268.7 1835.5 L324 1941" fill="none" stroke="#b9e4d2" stroke-width="4.6" stroke-linejoin="round"/>
<path d="M20 1606 C21.48 1605.17 20.07 1606.67 28.9 1601 C37.73 1595.33 55.18 1580 73 1572 C90.82 1564 114.83 1557.33 135.8 1553 C156.77 1548.67 179.77 1547.58 198.8 1546 C217.83 1544.42 238.33 1542.83 250 1543.5 C261.67 1544.17 265.67 1548.92 268.8 1550" fill="none" stroke="#8c8c8c" stroke-width="0.9"/>
<path d="M20 1617 C21.5 1616.13 20.17 1617.63 29 1611.8 C37.83 1605.97 55.2 1590.18 73 1582 C90.8 1573.82 114.83 1567.2 135.8 1562.7 C156.77 1558.2 183.77 1556.37 198.8 1555 C213.83 1553.63 219.8 1554.25 226 1554.5 C232.2 1554.75 234.33 1556.17 236 1556.5" fill="none" stroke="#8c8c8c" stroke-width="0.9"/>
<path d="M20 1626 C21.5 1625 20.17 1625.83 29 1620 C37.83 1614.17 55.2 1599.33 73 1591 C90.8 1582.67 114.83 1574.92 135.8 1570 C156.77 1565.08 184.1 1562.92 198.8 1561.5 C213.5 1560.08 218.13 1560.75 224 1561.5 C229.87 1562.25 231.57 1563.58 234 1566 C236.43 1568.42 237.83 1574.33 238.6 1576" fill="none" stroke="#8c8c8c" stroke-width="0.9"/>
<path d="M238.6 1576 C238.92 1593.33 240.15 1646 240.5 1680 C240.85 1714 242.22 1746.67 240.7 1780 C239.18 1813.33 234.52 1859.17 231.4 1880 C228.28 1900.83 225.77 1898.33 222 1905 C218.23 1911.67 211 1917.5 208.8 1920" fill="none" stroke="#7a7a7a" stroke-width="0.9"/>
<path d="M272 1570 C270.33 1569.67 265 1567.67 262 1568 C259 1568.33 255.75 1569.67 254 1572 C252.25 1574.33 252 1564 251.5 1582 C251 1600 251.75 1650.33 251 1680 C250.25 1709.67 249.5 1726.67 247 1760 C244.5 1793.33 239.33 1852.33 236 1880 C232.67 1907.67 228.5 1918.33 227 1926" fill="none" stroke="#7a7a7a" stroke-width="0.9"/>
<path d="M245.5 1560 C245.58 1580 246.33 1643.33 246 1680 C245.67 1716.67 245.67 1745 243.5 1780 C241.33 1815 235.92 1866.33 233 1890 C230.08 1913.67 227.17 1916.67 226 1922" fill="none" stroke="#999" stroke-width="0.6" stroke-dasharray="4 1.5 1 1.5"/>
<path d="M250 1543.5 L268.8 1550 L317 1573.7" fill="none" stroke="#8c8c8c" stroke-width="0.9"/>
<path d="M272 1570 L312.4 1587" fill="none" stroke="#8c8c8c" stroke-width="0.9"/>
<path d="M30 1897 C43.45 1898.07 86.37 1900.23 110.7 1903.4 C135.03 1906.57 159.65 1913.23 176 1916 C192.35 1918.77 203.33 1919.33 208.8 1920" fill="none" stroke="#555" stroke-width="0.9"/>
<path d="M30 1901 C43.45 1902.07 86.37 1904.23 110.7 1907.4 C135.03 1910.57 161.12 1916.9 176 1920 C190.88 1923.1 196 1925 200 1926" fill="none" stroke="#777" stroke-width="0.6"/>
<path d="M30 1908.5 C43.45 1909.33 85.53 1910.15 110.7 1913.5 C135.87 1916.85 169.28 1926.08 181 1928.6" fill="none" stroke="#666" stroke-width="0.7"/>
<path d="M30 1911.5 C43.45 1912.33 85.53 1913.15 110.7 1916.5 C135.87 1919.85 169.28 1929.08 181 1931.6" fill="none" stroke="#666" stroke-width="0.7" stroke-dasharray="5 1 1 1"/>
<path d="M181 1928.6 Q186 1931 181 1931.6" fill="none" stroke="#666" stroke-width="0.7"/>
<path d="M30 1918.5 C43.45 1919.58 86.37 1921.63 110.7 1925 C135.03 1928.37 155.03 1931.82 176 1938.7 C196.97 1945.58 218.45 1957.5 236.5 1966.3 C254.55 1975.1 276.33 1987.3 284.3 1991.5" fill="none" stroke="#555" stroke-width="0.9"/>
<path d="M30 1922 C43.45 1923.08 86.7 1925.08 110.7 1928.5 C134.7 1931.92 153.45 1935.58 174 1942.5 C194.55 1949.42 216.33 1961.25 234 1970 C251.67 1978.75 272.33 1990.83 280 1995" fill="none" stroke="#888" stroke-width="0.6"/>
<path d="M227 1926 C227.83 1928.33 226.17 1935.5 232 1940 C237.83 1944.5 251.33 1948 262 1953 C272.67 1958 290.33 1967.17 296 1970" fill="none" stroke="#555" stroke-width="0.9"/>
<path d="M240 1952 C243.67 1953.67 253.67 1957.67 262 1962 C270.33 1966.33 285.33 1975.33 290 1978" fill="none" stroke="#666" stroke-width="0.7"/>
<path d="M238 1955 C241.67 1956.67 251.67 1960.67 260 1965 C268.33 1969.33 283.33 1978.33 288 1981" fill="none" stroke="#666" stroke-width="0.7" stroke-dasharray="5 1 1 1"/>
<path d="M85.5 1607.6 L129.5 1599.2 L131.6 1609.7 L87.6 1618 Z" fill="none" stroke="#b4b4b4" stroke-width="0.9"/>
<path d="M106.5 1662 L131.6 1651.6 L135.8 1662 L110.7 1672.6 Z" fill="none" stroke="#b4b4b4" stroke-width="0.9"/>
<path d="M177.8 1574 L219.7 1574 L219.7 1634.9 L192.5 1634.9 Z" fill="none" stroke="#b4b4b4" stroke-width="0.9"/>
<path d="M181 1577 L216.7 1577 L216.7 1632 L194.5 1632 Z" fill="none" stroke="#b4b4b4" stroke-width="0.7"/>
<path d="M30 1647 A20 20 0 1 1 30 1669" fill="none" stroke="#b4b4b4" stroke-width="0.9"/>
<path d="M29 1625 C34.83 1623.17 56.83 1611.5 64 1614 C71.17 1616.5 69.75 1631 72 1640 C74.25 1649 76.33 1658.33 77.5 1668 C78.67 1677.67 79.92 1690.67 79 1698 C78.08 1705.33 74.5 1707.17 72 1712 C69.5 1716.83 71.17 1726.33 64 1727 C56.83 1727.67 34.83 1717.83 29 1716" fill="none" stroke="#b4b4b4" stroke-width="0.9"/>
<path d="M29 1716 L75 1728 L78 1748 L70 1752 L72 1775 L40 1790" fill="none" stroke="#b4b4b4" stroke-width="0.9"/>
<path d="M28 1770 Q58 1776 56 1800 Q54 1812 30 1818" fill="none" stroke="#b4b4b4" stroke-width="0.9"/>
<path d="M106 1683 L205 1664 Q216 1663 216 1674 Q217 1690 205 1691 L133 1697 Q115 1700 113 1714 Q100 1718 97 1706 Q95 1688 106 1683 Z" fill="none" stroke="#b4b4b4" stroke-width="0.9"/>
<path d="M219.7 1634.9 L222 1700 L228 1790" fill="none" stroke="#b4b4b4" stroke-width="0.8"/>
<path d="M113 1714 Q118 1702 135 1700 L222 1694" fill="none" stroke="#b4b4b4" stroke-width="0.8"/>
<path d="M120 1790 L124 1716 Q126 1708 136 1707 L160 1705 L161 1790" fill="none" stroke="#b4b4b4" stroke-width="0.8"/>
<path d="M170 1790 L169 1705 L213 1701 L216 1760" fill="none" stroke="#b4b4b4" stroke-width="0.8"/>
<path d="M97 1790 L100 1720" fill="none" stroke="#b4b4b4" stroke-width="0.8"/>
<path d="M100 1797 C104.17 1799.5 115 1807.5 125 1812 C135 1816.5 147.5 1820.67 160 1824 C172.5 1827.33 188.33 1829.67 200 1832 C211.67 1834.33 225 1837 230 1838" fill="none" stroke="#b4b4b4" stroke-width="0.8"/>
<path d="M96 1803 C100.33 1805.5 111.67 1813.5 122 1818 C132.33 1822.5 145.33 1826.67 158 1830 C170.67 1833.33 187.33 1835.83 198 1838 C208.67 1840.17 218 1842.17 222 1843" fill="none" stroke="#b4b4b4" stroke-width="0.8"/>
<line x1="46" y1="1840" x2="47" y2="1868" stroke="#b4b4b4" stroke-width="0.8"/>
<line x1="64" y1="1836" x2="64" y2="1867" stroke="#b4b4b4" stroke-width="0.8"/>
<line x1="80" y1="1832" x2="78" y2="1866" stroke="#b4b4b4" stroke-width="0.8"/>
<line x1="98" y1="1806" x2="95" y2="1865" stroke="#b4b4b4" stroke-width="0.8"/>
<line x1="118" y1="1817" x2="113" y2="1864" stroke="#b4b4b4" stroke-width="0.8"/>
<line x1="135" y1="1825" x2="129" y2="1863" stroke="#b4b4b4" stroke-width="0.8"/>
<line x1="150" y1="1830" x2="146" y2="1862" stroke="#b4b4b4" stroke-width="0.8"/>
<line x1="166" y1="1834" x2="162" y2="1861" stroke="#b4b4b4" stroke-width="0.8"/>
<line x1="182" y1="1837" x2="177" y2="1860" stroke="#b4b4b4" stroke-width="0.8"/>
<line x1="196" y1="1840" x2="193" y2="1859" stroke="#b4b4b4" stroke-width="0.8"/>
<path d="M30 1872 L150 1864 L205 1858 L222 1843" fill="none" stroke="#b4b4b4" stroke-width="0.8"/>
<path d="M30 1842 L84 1832 L98 1806" fill="none" stroke="#b4b4b4" stroke-width="0.8"/>
<path d="M30 1850 L60 1846" fill="none" stroke="#b4b4b4" stroke-width="0.6"/>
<text x="149" y="1751" font-size="31.5" fill="#9e9e9e" font-weight="500" text-anchor="middle" font-family='"Liberation Sans","Noto Sans CJK SC",sans-serif' textLength="95" lengthAdjust="spacingAndGlyphs" stroke="#9e9e9e" stroke-width="0.7">王府井</text>
<text x="148" y="1789" font-size="32" fill="#9e9e9e" font-weight="500" text-anchor="middle" font-family='"Liberation Sans","Noto Sans CJK SC",sans-serif' textLength="160" lengthAdjust="spacingAndGlyphs" stroke="#9e9e9e" stroke-width="0.7">商业综合体</text>
<text x="246" y="1668.5" font-size="12.5" fill="#222" font-weight="400" text-anchor="middle" font-family='"Liberation Sans","Noto Sans CJK SC",sans-serif'>奥</text>
<text x="246" y="1683.5" font-size="12.5" fill="#222" font-weight="400" text-anchor="middle" font-family='"Liberation Sans","Noto Sans CJK SC",sans-serif'>莱</text>
<text x="246" y="1698.5" font-size="12.5" fill="#222" font-weight="400" text-anchor="middle" font-family='"Liberation Sans","Noto Sans CJK SC",sans-serif'>东</text>
<text x="246" y="1713.5" font-size="12.5" fill="#222" font-weight="400" text-anchor="middle" font-family='"Liberation Sans","Noto Sans CJK SC",sans-serif'>路</text>
<text transform="translate(208.8 1948) rotate(19)" font-size="13.5" fill="#222" font-weight="400" text-anchor="middle" font-family='"Liberation Sans","Noto Sans CJK SC",sans-serif'>莲兴大道</text>
<path d="M531 1745.5 C524.91 1740.09 505.5 1723.06 494.44 1713.03 C483.38 1703 476.47 1696.26 464.63 1685.32 C452.8 1674.38 434.92 1656.67 423.44 1647.37 C411.97 1638.08 405 1635.07 395.77 1629.53 C386.54 1623.99 378.29 1619.93 368.06 1614.13 C357.83 1608.34 343.27 1600.26 334.39 1594.74 C325.52 1589.22 318.07 1583.29 314.8 1581" fill="none" stroke="#555" stroke-width="0.7"/>
<path d="M529.3 1747 C523.22 1741.63 503.86 1724.78 492.82 1714.79 C481.77 1704.81 474.82 1698.01 463 1687.08 C451.19 1676.16 433.34 1658.49 421.93 1649.24 C410.52 1639.99 403.71 1637.09 394.53 1631.58 C385.36 1626.08 377.1 1622.02 366.87 1616.22 C356.64 1610.42 341.94 1602.27 333.16 1596.8 C324.38 1591.33 317.36 1585.63 314.2 1583.4" fill="none" stroke="#777" stroke-width="0.6"/>
<path d="M337 1324.3 C341.43 1324.85 353.58 1325.73 363.6 1327.6 C373.62 1329.47 387.7 1332.85 397.1 1335.5 C406.5 1338.15 411.98 1340.75 420 1343.5 C428.02 1346.25 436.82 1348.75 445.2 1352 C453.58 1355.25 461.92 1358.83 470.3 1363 C478.68 1367.17 487.22 1372.02 495.5 1377 C503.78 1381.98 512.58 1387.98 520 1392.9 C527.42 1397.82 533.33 1401.83 540 1406.5 C546.67 1411.17 551.07 1414.02 560 1420.9 C568.93 1427.78 581.85 1438.02 593.6 1447.8 C605.35 1457.58 617.1 1468.15 630.5 1479.6 C643.9 1491.05 659.53 1504.27 674 1516.5 C688.47 1528.73 710.08 1546.92 717.3 1553 L655.8 1621 L535.5 1739.5 C529.58 1734.08 510.88 1717.03 500 1707 C489.12 1696.97 482.1 1690.3 470.2 1679.3 C458.3 1668.3 440.3 1650.47 428.6 1641 C416.9 1631.53 409.42 1628.17 400 1622.5 C390.58 1616.83 382.33 1612.8 372.1 1607 C361.87 1601.2 347.97 1593.3 338.6 1587.7 C329.23 1582.1 319.68 1575.78 315.9 1573.4 C316.83 1563.67 319.48 1535.4 321.5 1515 C323.52 1494.6 326.17 1473.5 328 1451 C329.83 1428.5 331 1401.12 332.5 1380 C334 1358.88 336.25 1333.58 337 1324.3 Z" fill="#fff" stroke="#262626" stroke-width="1.6" stroke-linejoin="miter"/>
<path d="M343.5 1331.5 C346.64 1332 353.7 1332.69 362.32 1334.48 C370.93 1336.27 385.97 1339.63 395.2 1342.24 C404.44 1344.84 409.82 1347.41 417.73 1350.12 C425.64 1352.84 434.43 1355.34 442.67 1358.53 C450.91 1361.72 458.98 1365.19 467.18 1369.27 C475.39 1373.35 483.73 1378.09 491.89 1383 C500.05 1387.91 508.78 1393.86 516.13 1398.73 C523.48 1403.61 529.39 1407.62 535.99 1412.23 C542.58 1416.85 546.87 1419.62 555.73 1426.44 C564.58 1433.27 577.42 1443.43 589.12 1453.18 C600.83 1462.93 612.56 1473.48 625.95 1484.92 C639.35 1496.37 655.89 1510.5 669.48 1521.85 C683.07 1533.19 701.16 1547.81 707.5 1553" fill="none" stroke="#333" stroke-width="1.1" stroke-dasharray="16 2.5 1.5 2.5 1.5 2.5"/>
<path d="M707.5 1553 L650 1617 L535.8 1729.6" fill="none" stroke="#333" stroke-width="1.1" stroke-dasharray="16 2.5 1.5 2.5 1.5 2.5"/>
<path d="M535.8 1729.6 C530.62 1724.98 514.89 1711.09 504.74 1701.85 C494.6 1692.61 486.91 1685.21 474.95 1674.16 C462.99 1663.11 444.89 1645.17 433 1635.56 C421.11 1625.95 413.18 1622.28 403.61 1616.5 C394.03 1610.73 385.79 1606.71 375.55 1600.91 C365.32 1595.11 350.95 1587.04 342.19 1581.69 C333.43 1576.34 326.2 1570.95 323 1568.8" fill="none" stroke="#333" stroke-width="1.1" stroke-dasharray="16 2.5 1.5 2.5 1.5 2.5"/>
<path d="M323 1568.8 C323.92 1559.83 326.5 1534.63 328.5 1515 C330.5 1495.37 333.17 1473.5 335 1451 C336.83 1428.5 338.08 1399.92 339.5 1380 C340.92 1360.08 342.83 1339.58 343.5 1331.5" fill="none" stroke="#333" stroke-width="1.1" stroke-dasharray="16 2.5 1.5 2.5 1.5 2.5"/>
<path d="M313.2 1588 C316.28 1589.88 322.97 1594.16 331.67 1599.29 C340.38 1604.41 355.22 1612.95 365.44 1618.74 C375.67 1624.54 383.93 1628.61 393.04 1634.07 C402.15 1639.53 408.78 1642.3 420.11 1651.49 C431.44 1660.69 449.25 1678.31 461.04 1689.21 C472.83 1700.12 479.84 1707.28 490.85 1716.93 C501.86 1726.57 521.06 1742.07 527.1 1747.1 L348 1926.5 C340.08 1914.97 309 1878.38 300.5 1857.3 C292 1836.22 297.83 1816.22 297 1800 C296.17 1783.78 295.27 1776.67 295.5 1760 C295.73 1743.33 297.47 1713.22 298.4 1700 C299.33 1686.78 299.53 1691.75 301.1 1680.7 C302.67 1669.65 305.78 1649.15 307.8 1633.7 C309.82 1618.25 312.3 1595.62 313.2 1588 Z" fill="#fff" stroke="#262626" stroke-width="1.6" stroke-linejoin="miter"/>
<path d="M317.9 1602.1 C325.03 1606.27 349.01 1620.4 360.71 1627.1 C372.41 1633.8 379.2 1636.98 388.09 1642.29 C396.98 1647.6 403 1649.96 414.07 1658.96 C425.14 1667.95 442.81 1685.43 454.52 1696.26 C466.23 1707.1 474.5 1715.36 484.34 1723.98 C494.19 1732.61 508.72 1744 513.6 1748 L353.5 1917.5 C345.67 1907.17 314.92 1875.08 306.5 1855.5 C298.08 1835.92 303.83 1815.92 303 1800 C302.17 1784.08 301.27 1776.67 301.5 1760 C301.73 1743.33 303.47 1713.22 304.4 1700 C305.33 1686.78 305.6 1691.37 307.1 1680.7 C308.6 1670.03 311.6 1649.1 313.4 1636 C315.2 1622.9 317.15 1607.75 317.9 1602.1" fill="none" stroke="#2e2e2e" stroke-width="1.4" stroke-linejoin="miter"/>
<path d="M342.59 1336.78 L366.54 1338.25 L365.41 1356.72 L358.23 1356.28 L358.79 1347.04 L351.13 1346.57 L350.56 1355.81 L341.46 1355.25 Z" fill="#fff" stroke="#333" stroke-width="0.8" stroke-linejoin="miter"/>
<text x="354" y="1346.27" font-size="7" fill="#333" font-weight="400" text-anchor="middle" font-family='"Liberation Sans","Noto Sans CJK SC",sans-serif'>B1#</text>
<path d="M340.59 1368.78 L364.54 1370.25 L363.41 1388.72 L356.23 1388.28 L356.79 1379.04 L349.13 1378.57 L348.56 1387.81 L339.46 1387.25 Z" fill="#fff" stroke="#333" stroke-width="0.8" stroke-linejoin="miter"/>
<text x="352" y="1378.27" font-size="7" fill="#333" font-weight="400" text-anchor="middle" font-family='"Liberation Sans","Noto Sans CJK SC",sans-serif'>B2#</text>
<path d="M338.09 1401.3 L361.54 1402.73 L360.41 1421.2 L353.38 1420.77 L353.94 1411.54 L346.44 1411.08 L345.87 1420.31 L336.96 1419.77 Z" fill="#fff" stroke="#333" stroke-width="0.8" stroke-linejoin="miter"/>
<text x="349.25" y="1410.77" font-size="7" fill="#333" font-weight="400" text-anchor="middle" font-family='"Liberation Sans","Noto Sans CJK SC",sans-serif'>B3#</text>
<path d="M335.32 1436.16 L341.75 1436.55 L341.98 1432.71 L349.79 1433.18 L349.55 1437.03 L358.28 1437.56 L357.44 1451.19 L334.49 1449.78 Z" fill="#fff" stroke="#333" stroke-width="0.8" stroke-linejoin="miter"/>
<text x="346.5" y="1446.27" font-size="7" fill="#333" font-weight="400" text-anchor="middle" font-family='"Liberation Sans","Noto Sans CJK SC",sans-serif'>B4#</text>
<path d="M382.32 1353.16 L388.75 1353.55 L388.98 1349.71 L396.79 1350.18 L396.55 1354.03 L405.28 1354.56 L404.44 1368.19 L381.49 1366.78 Z" fill="#fff" stroke="#333" stroke-width="0.8" stroke-linejoin="miter"/>
<text x="393.5" y="1363.27" font-size="7" fill="#333" font-weight="400" text-anchor="middle" font-family='"Liberation Sans","Noto Sans CJK SC",sans-serif'>B5#</text>
<path d="M380.31 1384.08 L386.46 1384.45 L386.69 1380.72 L394.15 1381.18 L393.93 1384.91 L402.27 1385.42 L401.46 1398.66 L379.5 1397.31 Z" fill="#fff" stroke="#333" stroke-width="0.8" stroke-linejoin="miter"/>
<text x="391" y="1394.02" font-size="7" fill="#333" font-weight="400" text-anchor="middle" font-family='"Liberation Sans","Noto Sans CJK SC",sans-serif'>B6#</text>
<path d="M377.81 1415.06 L384.1 1415.45 L384.33 1411.71 L391.96 1412.18 L391.74 1415.91 L400.27 1416.44 L399.46 1429.67 L377 1428.3 Z" fill="#fff" stroke="#333" stroke-width="0.8" stroke-linejoin="miter"/>
<text x="388.75" y="1425.02" font-size="7" fill="#333" font-weight="400" text-anchor="middle" font-family='"Liberation Sans","Noto Sans CJK SC",sans-serif'>B7#</text>
<path d="M375.31 1445.06 L381.6 1445.45 L381.83 1441.71 L389.46 1442.18 L389.24 1445.91 L397.77 1446.44 L396.96 1459.67 L374.5 1458.3 Z" fill="#fff" stroke="#333" stroke-width="0.8" stroke-linejoin="miter"/>
<text x="386.25" y="1455.02" font-size="7" fill="#333" font-weight="400" text-anchor="middle" font-family='"Liberation Sans","Noto Sans CJK SC",sans-serif'>B8#</text>
<path d="M415.58 1407.92 L416.73 1392.63 L422.7 1393.08 L423.13 1387.42 L436.77 1388.45 L436.37 1393.68 L441.49 1394.07 L441.82 1389.67 L446.94 1390.06 L446.56 1395.08 L472.14 1397 L472.51 1391.98 L476.78 1392.3 L476.45 1396.7 L483.27 1397.21 L483.66 1391.97 L497.73 1393.03 L497.3 1398.69 L501.99 1399.04 L500.84 1414.33 Z" fill="#fff" stroke="#333" stroke-width="0.8" stroke-linejoin="miter"/>
<rect x="438.3" y="1396.91" width="2.4" height="1.6" fill="#fff" stroke="#333" stroke-width="0.55"/>
<rect x="446.31" y="1397.51" width="2.4" height="1.6" fill="#fff" stroke="#333" stroke-width="0.55"/>
<rect x="469.16" y="1399.23" width="2.4" height="1.6" fill="#fff" stroke="#333" stroke-width="0.55"/>
<rect x="477.09" y="1399.83" width="2.4" height="1.6" fill="#fff" stroke="#333" stroke-width="0.55"/>
<text x="458.69" y="1407.72" font-size="8" fill="#333" font-weight="400" text-anchor="middle" font-family='"Liberation Sans","Noto Sans CJK SC",sans-serif'>B20#</text>
<path d="M411.08 1451.92 L412.23 1436.63 L418.2 1437.08 L418.63 1431.42 L432.27 1432.45 L431.87 1437.68 L436.99 1438.07 L437.32 1433.67 L442.44 1434.06 L442.06 1439.08 L467.64 1441 L468.01 1435.98 L472.28 1436.3 L471.95 1440.7 L478.77 1441.21 L479.16 1435.97 L493.23 1437.03 L492.8 1442.69 L497.49 1443.04 L496.34 1458.33 Z" fill="#fff" stroke="#333" stroke-width="0.8" stroke-linejoin="miter"/>
<rect x="433.8" y="1440.91" width="2.4" height="1.6" fill="#fff" stroke="#333" stroke-width="0.55"/>
<rect x="441.81" y="1441.51" width="2.4" height="1.6" fill="#fff" stroke="#333" stroke-width="0.55"/>
<rect x="464.66" y="1443.23" width="2.4" height="1.6" fill="#fff" stroke="#333" stroke-width="0.55"/>
<rect x="472.59" y="1443.83" width="2.4" height="1.6" fill="#fff" stroke="#333" stroke-width="0.55"/>
<text x="454.19" y="1451.72" font-size="8" fill="#333" font-weight="400" text-anchor="middle" font-family='"Liberation Sans","Noto Sans CJK SC",sans-serif'>B19#</text>
<path d="M407.08 1495.92 L408.23 1480.63 L414.2 1481.08 L414.63 1475.42 L428.27 1476.45 L427.87 1481.68 L432.99 1482.07 L433.32 1477.67 L438.44 1478.06 L438.06 1483.08 L463.64 1485 L464.01 1479.98 L468.28 1480.3 L467.95 1484.7 L474.77 1485.21 L475.16 1479.97 L489.23 1481.03 L488.8 1486.69 L493.49 1487.04 L492.34 1502.33 Z" fill="#fff" stroke="#333" stroke-width="0.8" stroke-linejoin="miter"/>
<rect x="429.8" y="1484.91" width="2.4" height="1.6" fill="#fff" stroke="#333" stroke-width="0.55"/>
<rect x="437.81" y="1485.51" width="2.4" height="1.6" fill="#fff" stroke="#333" stroke-width="0.55"/>
<rect x="460.66" y="1487.23" width="2.4" height="1.6" fill="#fff" stroke="#333" stroke-width="0.55"/>
<rect x="468.59" y="1487.83" width="2.4" height="1.6" fill="#fff" stroke="#333" stroke-width="0.55"/>
<text x="450.19" y="1495.72" font-size="8" fill="#333" font-weight="400" text-anchor="middle" font-family='"Liberation Sans","Noto Sans CJK SC",sans-serif'>B18#</text>
<path d="M403.58 1539.92 L404.73 1524.63 L410.7 1525.08 L411.13 1519.42 L424.77 1520.45 L424.37 1525.68 L429.49 1526.07 L429.82 1521.67 L434.94 1522.06 L434.56 1527.08 L460.14 1529 L460.51 1523.98 L464.78 1524.3 L464.45 1528.7 L471.27 1529.21 L471.66 1523.97 L485.73 1525.03 L485.3 1530.69 L489.99 1531.04 L488.84 1546.33 Z" fill="#fff" stroke="#333" stroke-width="0.8" stroke-linejoin="miter"/>
<rect x="426.3" y="1528.91" width="2.4" height="1.6" fill="#fff" stroke="#333" stroke-width="0.55"/>
<rect x="434.31" y="1529.51" width="2.4" height="1.6" fill="#fff" stroke="#333" stroke-width="0.55"/>
<rect x="457.16" y="1531.23" width="2.4" height="1.6" fill="#fff" stroke="#333" stroke-width="0.55"/>
<rect x="465.09" y="1531.83" width="2.4" height="1.6" fill="#fff" stroke="#333" stroke-width="0.55"/>
<text x="446.69" y="1539.72" font-size="8" fill="#333" font-weight="400" text-anchor="middle" font-family='"Liberation Sans","Noto Sans CJK SC",sans-serif'>B17#</text>
<path d="M579.88 1562.42 L581.03 1547.13 L587 1547.58 L587.43 1541.92 L601.07 1542.95 L600.67 1548.18 L605.79 1548.57 L606.12 1544.17 L611.24 1544.56 L610.86 1549.58 L636.44 1551.5 L636.81 1546.48 L641.08 1546.8 L640.75 1551.2 L647.57 1551.71 L647.96 1546.47 L662.03 1547.53 L661.6 1553.19 L666.29 1553.54 L665.14 1568.83 Z" fill="#fff" stroke="#333" stroke-width="0.8" stroke-linejoin="miter"/>
<rect x="602.6" y="1551.41" width="2.4" height="1.6" fill="#fff" stroke="#333" stroke-width="0.55"/>
<rect x="610.61" y="1552.01" width="2.4" height="1.6" fill="#fff" stroke="#333" stroke-width="0.55"/>
<rect x="633.46" y="1553.73" width="2.4" height="1.6" fill="#fff" stroke="#333" stroke-width="0.55"/>
<rect x="641.39" y="1554.33" width="2.4" height="1.6" fill="#fff" stroke="#333" stroke-width="0.55"/>
<text x="622.99" y="1562.22" font-size="8" fill="#333" font-weight="400" text-anchor="middle" font-family='"Liberation Sans","Noto Sans CJK SC",sans-serif'>B25#</text>
<path d="M556.98 1605.32 L558.13 1590.03 L564.1 1590.48 L564.53 1584.82 L578.17 1585.85 L577.77 1591.08 L582.89 1591.47 L583.22 1587.07 L588.34 1587.46 L587.96 1592.48 L613.54 1594.4 L613.91 1589.38 L618.18 1589.7 L617.85 1594.1 L624.67 1594.61 L625.06 1589.37 L639.13 1590.43 L638.7 1596.09 L643.39 1596.44 L642.24 1611.73 Z" fill="#fff" stroke="#333" stroke-width="0.8" stroke-linejoin="miter"/>
<rect x="579.7" y="1594.31" width="2.4" height="1.6" fill="#fff" stroke="#333" stroke-width="0.55"/>
<rect x="587.71" y="1594.91" width="2.4" height="1.6" fill="#fff" stroke="#333" stroke-width="0.55"/>
<rect x="610.56" y="1596.63" width="2.4" height="1.6" fill="#fff" stroke="#333" stroke-width="0.55"/>
<rect x="618.49" y="1597.23" width="2.4" height="1.6" fill="#fff" stroke="#333" stroke-width="0.55"/>
<text x="600.09" y="1605.12" font-size="8" fill="#333" font-weight="400" text-anchor="middle" font-family='"Liberation Sans","Noto Sans CJK SC",sans-serif'>B26#</text>
<path d="M515.08 1646.42 L516.23 1631.13 L522.2 1631.58 L522.63 1625.92 L536.27 1626.95 L535.87 1632.18 L540.99 1632.57 L541.32 1628.17 L546.44 1628.56 L546.06 1633.58 L571.64 1635.5 L572.01 1630.48 L576.28 1630.8 L575.95 1635.2 L582.77 1635.71 L583.16 1630.47 L597.23 1631.53 L596.8 1637.19 L601.49 1637.54 L600.34 1652.83 Z" fill="#fff" stroke="#333" stroke-width="0.8" stroke-linejoin="miter"/>
<rect x="537.8" y="1635.41" width="2.4" height="1.6" fill="#fff" stroke="#333" stroke-width="0.55"/>
<rect x="545.81" y="1636.01" width="2.4" height="1.6" fill="#fff" stroke="#333" stroke-width="0.55"/>
<rect x="568.66" y="1637.73" width="2.4" height="1.6" fill="#fff" stroke="#333" stroke-width="0.55"/>
<rect x="576.59" y="1638.33" width="2.4" height="1.6" fill="#fff" stroke="#333" stroke-width="0.55"/>
<text x="558.19" y="1646.22" font-size="8" fill="#333" font-weight="400" text-anchor="middle" font-family='"Liberation Sans","Noto Sans CJK SC",sans-serif'>B27#</text>
<path d="M518.36 1462.02 L519.53 1446.56 L525.56 1447.01 L525.92 1442.13 L540 1443.19 L539.63 1448.07 L545.66 1448.53 L546 1444.05 L550.58 1444.4 L550.24 1448.87 L556.1 1449.31 L556.47 1444.43 L571.16 1445.53 L570.79 1450.42 L575.37 1450.76 L574.21 1466.22 Z" fill="#fff" stroke="#333" stroke-width="0.8" stroke-linejoin="miter"/>
<rect x="542.38" y="1451.46" width="2.4" height="1.6" fill="#fff" stroke="#333" stroke-width="0.55"/>
<rect x="549.87" y="1452.02" width="2.4" height="1.6" fill="#fff" stroke="#333" stroke-width="0.55"/>
<text x="545.01" y="1461.59" font-size="8" fill="#333" font-weight="400" text-anchor="middle" font-family='"Liberation Sans","Noto Sans CJK SC",sans-serif'>B21#</text>
<path d="M515.26 1505.62 L516.43 1490.16 L522.46 1490.61 L522.82 1485.73 L536.9 1486.79 L536.53 1491.67 L542.56 1492.13 L542.9 1487.65 L547.48 1488 L547.14 1492.47 L553 1492.91 L553.37 1488.03 L568.06 1489.13 L567.69 1494.02 L572.27 1494.36 L571.11 1509.82 Z" fill="#fff" stroke="#333" stroke-width="0.8" stroke-linejoin="miter"/>
<rect x="539.28" y="1495.06" width="2.4" height="1.6" fill="#fff" stroke="#333" stroke-width="0.55"/>
<rect x="546.77" y="1495.62" width="2.4" height="1.6" fill="#fff" stroke="#333" stroke-width="0.55"/>
<text x="541.91" y="1505.19" font-size="8" fill="#333" font-weight="400" text-anchor="middle" font-family='"Liberation Sans","Noto Sans CJK SC",sans-serif'>B22#</text>
<path d="M511.26 1549.62 L512.43 1534.16 L518.46 1534.61 L518.82 1529.73 L532.9 1530.79 L532.53 1535.67 L538.56 1536.13 L538.9 1531.65 L543.48 1532 L543.14 1536.47 L549 1536.91 L549.37 1532.03 L564.06 1533.13 L563.69 1538.02 L568.27 1538.36 L567.11 1553.82 Z" fill="#fff" stroke="#333" stroke-width="0.8" stroke-linejoin="miter"/>
<rect x="535.28" y="1539.06" width="2.4" height="1.6" fill="#fff" stroke="#333" stroke-width="0.55"/>
<rect x="542.77" y="1539.62" width="2.4" height="1.6" fill="#fff" stroke="#333" stroke-width="0.55"/>
<text x="537.91" y="1549.19" font-size="8" fill="#333" font-weight="400" text-anchor="middle" font-family='"Liberation Sans","Noto Sans CJK SC",sans-serif'>B23#</text>
<path d="M582.86 1518.22 L584.03 1502.76 L590.06 1503.21 L590.42 1498.33 L604.5 1499.39 L604.13 1504.27 L610.16 1504.73 L610.5 1500.25 L615.08 1500.6 L614.74 1505.07 L620.6 1505.51 L620.97 1500.63 L635.66 1501.73 L635.29 1506.62 L639.87 1506.96 L638.71 1522.42 Z" fill="#fff" stroke="#333" stroke-width="0.8" stroke-linejoin="miter"/>
<rect x="606.88" y="1507.66" width="2.4" height="1.6" fill="#fff" stroke="#333" stroke-width="0.55"/>
<rect x="614.37" y="1508.22" width="2.4" height="1.6" fill="#fff" stroke="#333" stroke-width="0.55"/>
<text x="609.51" y="1517.79" font-size="8" fill="#333" font-weight="400" text-anchor="middle" font-family='"Liberation Sans","Noto Sans CJK SC",sans-serif'>B24#</text>
<path d="M504.76 1689.12 L505.93 1673.66 L511.96 1674.11 L512.32 1669.23 L526.4 1670.29 L526.03 1675.17 L532.06 1675.63 L532.4 1671.15 L536.98 1671.5 L536.64 1675.97 L542.5 1676.41 L542.87 1671.53 L557.56 1672.63 L557.19 1677.52 L561.77 1677.86 L560.61 1693.32 Z" fill="#fff" stroke="#333" stroke-width="0.8" stroke-linejoin="miter"/>
<rect x="528.78" y="1678.56" width="2.4" height="1.6" fill="#fff" stroke="#333" stroke-width="0.55"/>
<rect x="536.27" y="1679.12" width="2.4" height="1.6" fill="#fff" stroke="#333" stroke-width="0.55"/>
<path d="M349.75 1477.58 L362.04 1478.22 L362.3 1473.23 L376.48 1473.97 L372.79 1548.18 L393.71 1550.28 L392.09 1581.23 L363.13 1579.72 L363.91 1564.74 L341.99 1562.59 Z" fill="#a9d9f0" stroke="#333" stroke-width="0.8"/>
<text x="356" y="1521.7" font-size="7.5" fill="#333" font-weight="400" text-anchor="middle" font-family='"Liberation Sans","Noto Sans CJK SC",sans-serif'>B9#</text>
<path d="M406.96 1575.31 L413.54 1575.71 L414.05 1567.4 L422.84 1567.94 L422.33 1576.25 L428.91 1576.65 L430.04 1558.19 L408.09 1556.85 Z" fill="#a9d9f0" stroke="#333" stroke-width="0.8"/>
<text x="418.5" y="1565.52" font-size="7" fill="#333" font-weight="400" text-anchor="middle" font-family='"Liberation Sans","Noto Sans CJK SC",sans-serif'>B10#</text>
<path d="M433.46 1575.81 L440.04 1576.21 L440.55 1567.9 L449.34 1568.44 L448.83 1576.75 L455.41 1577.15 L456.54 1558.69 L434.59 1557.35 Z" fill="#a9d9f0" stroke="#333" stroke-width="0.8"/>
<text x="445" y="1566.02" font-size="7" fill="#333" font-weight="400" text-anchor="middle" font-family='"Liberation Sans","Noto Sans CJK SC",sans-serif'>B11#</text>
<path d="M404.47 1604.81 L411.06 1605.21 L411.55 1597.13 L420.34 1597.67 L419.84 1605.75 L426.43 1606.15 L427.53 1588.19 L405.57 1586.85 Z" fill="#a9d9f0" stroke="#333" stroke-width="0.8"/>
<text x="416" y="1595.52" font-size="7" fill="#333" font-weight="400" text-anchor="middle" font-family='"Liberation Sans","Noto Sans CJK SC",sans-serif'>B12#</text>
<path d="M430.97 1605.31 L437.56 1605.71 L438.05 1597.63 L446.84 1598.17 L446.34 1606.25 L452.93 1606.65 L454.03 1588.69 L432.07 1587.35 Z" fill="#a9d9f0" stroke="#333" stroke-width="0.8"/>
<text x="442.5" y="1596.02" font-size="7" fill="#333" font-weight="400" text-anchor="middle" font-family='"Liberation Sans","Noto Sans CJK SC",sans-serif'>B13#</text>
<path d="M469.18 1561.88 L490.14 1563.16 L488.82 1584.62 L467.86 1583.34 L468.28 1576.47 L479.18 1577.14 L479.52 1571.56 L468.62 1570.89 Z" fill="#a9d9f0" stroke="#333" stroke-width="0.8"/>
<text x="479" y="1570.22" font-size="7" fill="#333" font-weight="400" text-anchor="middle" font-family='"Liberation Sans","Noto Sans CJK SC",sans-serif'>B16#</text>
<path d="M467.19 1587.89 L487.65 1589.15 L486.31 1611.11 L465.85 1609.85 L466.28 1602.83 L476.92 1603.48 L477.27 1597.77 L466.63 1597.12 Z" fill="#a9d9f0" stroke="#333" stroke-width="0.8"/>
<text x="476.75" y="1596.22" font-size="7" fill="#333" font-weight="400" text-anchor="middle" font-family='"Liberation Sans","Noto Sans CJK SC",sans-serif'>B15#</text>
<path d="M464.71 1614.4 L485.17 1615.65 L483.79 1638.1 L463.33 1636.85 L463.77 1629.67 L474.41 1630.32 L474.77 1624.48 L464.13 1623.83 Z" fill="#a9d9f0" stroke="#333" stroke-width="0.8"/>
<text x="474.25" y="1622.72" font-size="7" fill="#333" font-weight="400" text-anchor="middle" font-family='"Liberation Sans","Noto Sans CJK SC",sans-serif'>B14#</text>
<text x="380" y="1564.5" font-size="6.8" fill="#111" font-weight="700" text-anchor="middle" font-family='"Liberation Sans","Noto Sans CJK SC",sans-serif'>商业</text>
<text x="380" y="1572.3" font-size="6.8" fill="#111" font-weight="700" text-anchor="middle" font-family='"Liberation Sans","Noto Sans CJK SC",sans-serif'>交流中心</text>
<text x="380" y="1577.2" font-size="3.2" fill="#444" font-weight="400" text-anchor="middle" font-family='"Liberation Sans","Noto Sans CJK SC",sans-serif'>(配套中)</text>
<text x="449" y="1617" font-size="6.8" fill="#111" font-weight="700" text-anchor="middle" font-family='"Liberation Sans","Noto Sans CJK SC",sans-serif'>汽车主题</text>
<text x="449" y="1624.8" font-size="6.8" fill="#111" font-weight="700" text-anchor="middle" font-family='"Liberation Sans","Noto Sans CJK SC",sans-serif'>体验中心</text>
<text x="449" y="1629.8" font-size="3.2" fill="#444" font-weight="400" text-anchor="middle" font-family='"Liberation Sans","Noto Sans CJK SC",sans-serif'>(配套中)</text>
<path d="M318.69 1614.77 L324.94 1615.87 L325.45 1612.97 L331.93 1614.12 L331.42 1617.01 L341.84 1618.85 L339.8 1630.43 L316.65 1626.35 Z" fill="#fff" stroke="#333" stroke-width="0.8" stroke-linejoin="miter"/>
<text x="329.5" y="1625.65" font-size="7.5" fill="#333" font-weight="400" text-anchor="middle" font-family='"Liberation Sans","Noto Sans CJK SC",sans-serif'>A1#</text>
<path d="M314.53 1642.36 L320.8 1643.35 L321.26 1640.44 L327.76 1641.47 L327.3 1644.38 L337.75 1646.03 L335.91 1657.65 L312.69 1653.97 Z" fill="#fff" stroke="#333" stroke-width="0.8" stroke-linejoin="miter"/>
<text x="325.45" y="1653.05" font-size="7.5" fill="#333" font-weight="400" text-anchor="middle" font-family='"Liberation Sans","Noto Sans CJK SC",sans-serif'>A2#</text>
<path d="M310.48 1670.69 L316.77 1671.46 L317.13 1668.55 L323.66 1669.35 L323.3 1672.27 L333.8 1673.55 L332.37 1685.23 L309.04 1682.36 Z" fill="#fff" stroke="#333" stroke-width="0.8" stroke-linejoin="miter"/>
<text x="321.6" y="1681" font-size="7.5" fill="#333" font-weight="400" text-anchor="middle" font-family='"Liberation Sans","Noto Sans CJK SC",sans-serif'>A3#</text>
<path d="M307.19 1699.48 L313.52 1699.92 L313.72 1696.99 L320.28 1697.45 L320.08 1700.38 L330.63 1701.12 L329.81 1712.85 L306.37 1711.21 Z" fill="#fff" stroke="#333" stroke-width="0.8" stroke-linejoin="miter"/>
<text x="318.6" y="1709.2" font-size="7.5" fill="#333" font-weight="400" text-anchor="middle" font-family='"Liberation Sans","Noto Sans CJK SC",sans-serif'>A4#</text>
<path d="M305.55 1727.68 L311.89 1727.96 L312.02 1725.02 L318.59 1725.31 L318.47 1728.25 L329.03 1728.71 L328.52 1740.46 L305.04 1739.43 Z" fill="#fff" stroke="#333" stroke-width="0.8" stroke-linejoin="miter"/>
<text x="317.1" y="1737.1" font-size="7.5" fill="#333" font-weight="400" text-anchor="middle" font-family='"Liberation Sans","Noto Sans CJK SC",sans-serif'>A5#</text>
<path d="M304.47 1755.38 L310.81 1755.55 L310.89 1752.61 L317.47 1752.78 L317.39 1755.72 L327.96 1756 L327.65 1767.76 L304.16 1767.14 Z" fill="#fff" stroke="#333" stroke-width="0.8" stroke-linejoin="miter"/>
<text x="316.1" y="1764.6" font-size="7.5" fill="#333" font-weight="400" text-anchor="middle" font-family='"Liberation Sans","Noto Sans CJK SC",sans-serif'>A6#</text>
<path d="M349.19 1675.42 L349.6 1659.77 L355.59 1659.93 L355.72 1654.98 L369.7 1655.35 L369.57 1660.29 L375.56 1660.45 L375.68 1655.92 L380.23 1656.04 L380.11 1660.57 L385.94 1660.72 L386.07 1655.78 L400.66 1656.16 L400.53 1661.1 L405.08 1661.22 L404.67 1676.87 Z" fill="#fff" stroke="#333" stroke-width="0.8" stroke-linejoin="miter"/>
<circle cx="377.5" cy="1666" r="10" fill="#e50012"/>
<text x="377.5" y="1668.52" font-size="7" fill="#fff" font-weight="400" text-anchor="middle" font-family='"Liberation Sans","Noto Sans CJK SC",sans-serif'>A11#</text>
<path d="M348.09 1717.47 L348.5 1701.82 L354.49 1701.98 L354.62 1697.03 L368.6 1697.4 L368.47 1702.34 L374.46 1702.5 L374.58 1697.97 L379.13 1698.09 L379.01 1702.62 L384.84 1702.77 L384.97 1697.83 L399.56 1698.21 L399.43 1703.15 L403.98 1703.27 L403.57 1718.92 Z" fill="#fff" stroke="#333" stroke-width="0.8" stroke-linejoin="miter"/>
<circle cx="372.9" cy="1708.7" r="10" fill="#e50012"/>
<text x="372.9" y="1711.22" font-size="7" fill="#fff" font-weight="400" text-anchor="middle" font-family='"Liberation Sans","Noto Sans CJK SC",sans-serif'>A10#</text>
<path d="M346.39 1760.22 L346.8 1744.57 L352.79 1744.73 L352.92 1739.78 L366.9 1740.15 L366.77 1745.09 L372.76 1745.25 L372.88 1740.72 L377.43 1740.84 L377.31 1745.37 L383.14 1745.52 L383.27 1740.58 L397.86 1740.96 L397.73 1745.9 L402.28 1746.02 L401.87 1761.67 Z" fill="#fff" stroke="#333" stroke-width="0.8" stroke-linejoin="miter"/>
<circle cx="372.5" cy="1751.2" r="10" fill="#e50012"/>
<text x="372.5" y="1753.72" font-size="7" fill="#fff" font-weight="400" text-anchor="middle" font-family='"Liberation Sans","Noto Sans CJK SC",sans-serif'>A9#</text>
<path d="M344.99 1801.57 L345.4 1785.92 L351.39 1786.08 L351.52 1781.13 L365.5 1781.5 L365.37 1786.44 L371.36 1786.6 L371.48 1782.07 L376.03 1782.19 L375.91 1786.72 L381.74 1786.87 L381.87 1781.93 L396.46 1782.31 L396.33 1787.25 L400.88 1787.37 L400.47 1803.02 Z" fill="#fff" stroke="#333" stroke-width="0.8" stroke-linejoin="miter"/>
<circle cx="371.2" cy="1792.8" r="10" fill="#e50012"/>
<text x="371.2" y="1795.32" font-size="7" fill="#fff" font-weight="400" text-anchor="middle" font-family='"Liberation Sans","Noto Sans CJK SC",sans-serif'>A8#</text>
<path d="M421.49 1736.57 L421.9 1720.92 L427.89 1721.08 L428.02 1716.13 L442 1716.5 L441.87 1721.44 L447.86 1721.6 L447.98 1717.07 L452.53 1717.19 L452.41 1721.72 L458.24 1721.87 L458.37 1716.93 L472.96 1717.31 L472.83 1722.25 L477.38 1722.37 L476.97 1738.02 Z" fill="#fff" stroke="#333" stroke-width="0.8" stroke-linejoin="miter"/>
<circle cx="446" cy="1727.3" r="10" fill="#e50012"/>
<text x="446" y="1729.82" font-size="7" fill="#fff" font-weight="400" text-anchor="middle" font-family='"Liberation Sans","Noto Sans CJK SC",sans-serif'>A12#</text>
<path d="M419.29 1779.07 L419.7 1763.42 L425.69 1763.58 L425.82 1758.63 L439.8 1759 L439.67 1763.94 L445.66 1764.1 L445.78 1759.57 L450.33 1759.69 L450.21 1764.22 L456.04 1764.37 L456.17 1759.43 L470.76 1759.81 L470.63 1764.75 L475.18 1764.87 L474.77 1780.52 Z" fill="#fff" stroke="#333" stroke-width="0.8" stroke-linejoin="miter"/>
<circle cx="446" cy="1769.8" r="10" fill="#e50012"/>
<text x="446" y="1772.32" font-size="7" fill="#fff" font-weight="400" text-anchor="middle" font-family='"Liberation Sans","Noto Sans CJK SC",sans-serif'>A13#</text>
<circle cx="534" cy="1681.5" r="10" fill="#e50012"/>
<text x="534" y="1684.02" font-size="7" fill="#fff" font-weight="400" text-anchor="middle" font-family='"Liberation Sans","Noto Sans CJK SC",sans-serif'>B28#</text>
<path d="M317.3 1823.8 L354.2 1820.4 L354.9 1828 L362.6 1827 Q372 1836 377.7 1849 L375.4 1851 L391 1862.3 Q378 1880 361 1889 Q331 1868 317.3 1823.8 Z" fill="#a9d9f0" stroke="#333" stroke-width="0.8"/>
<text x="349" y="1854.52" font-size="7" fill="#333" font-weight="400" text-anchor="middle" font-family='"Liberation Sans","Noto Sans CJK SC",sans-serif'>A7#</text>
<text x="358.3" y="1865.5" font-size="6.8" fill="#111" font-weight="700" text-anchor="middle" font-family='"Liberation Sans","Noto Sans CJK SC",sans-serif'>汽车展示</text>
<text x="358.3" y="1873.3" font-size="6.8" fill="#111" font-weight="700" text-anchor="middle" font-family='"Liberation Sans","Noto Sans CJK SC",sans-serif'>交互中心</text>
<text x="358.3" y="1878.3" font-size="3.2" fill="#444" font-weight="400" text-anchor="middle" font-family='"Liberation Sans","Noto Sans CJK SC",sans-serif'>(配套中)</text>
<path d="M533.48 1381.71 L522.38 1411.93 L518.15 1410.38 L519 1432 L533.64 1416.07 L529.42 1414.52 L540.52 1384.29 Z" fill="#adadad"/>
<line x1="538.61" y1="1385.29" x2="534.29" y2="1383.71" stroke="#dedede" stroke-width="1.1"/>
<line x1="537.5" y1="1388.3" x2="533.19" y2="1386.71" stroke="#dedede" stroke-width="1.1"/>
<line x1="536.4" y1="1391.3" x2="532.08" y2="1389.72" stroke="#dedede" stroke-width="1.1"/>
<line x1="535.3" y1="1394.31" x2="530.98" y2="1392.72" stroke="#dedede" stroke-width="1.1"/>
<line x1="534.19" y1="1397.31" x2="529.88" y2="1395.72" stroke="#dedede" stroke-width="1.1"/>
<line x1="533.09" y1="1400.31" x2="528.77" y2="1398.73" stroke="#dedede" stroke-width="1.1"/>
<line x1="531.99" y1="1403.32" x2="527.67" y2="1401.73" stroke="#dedede" stroke-width="1.1"/>
<line x1="530.88" y1="1406.32" x2="526.57" y2="1404.73" stroke="#dedede" stroke-width="1.1"/>
<line x1="529.78" y1="1409.32" x2="525.46" y2="1407.74" stroke="#dedede" stroke-width="1.1"/>
<line x1="528.68" y1="1412.33" x2="524.36" y2="1410.74" stroke="#dedede" stroke-width="1.1"/>
<path d="M465.4 1685.87 L484.24 1662.85 L487.72 1665.7 L494 1645 L474.95 1655.25 L478.43 1658.1 L459.6 1681.13 Z" fill="#adadad"/>
<line x1="461.73" y1="1680.81" x2="465.29" y2="1683.72" stroke="#dedede" stroke-width="1.1"/>
<line x1="463.76" y1="1678.33" x2="467.32" y2="1681.24" stroke="#dedede" stroke-width="1.1"/>
<line x1="465.79" y1="1675.85" x2="469.35" y2="1678.76" stroke="#dedede" stroke-width="1.1"/>
<line x1="467.81" y1="1673.38" x2="471.37" y2="1676.29" stroke="#dedede" stroke-width="1.1"/>
<line x1="469.84" y1="1670.9" x2="473.4" y2="1673.81" stroke="#dedede" stroke-width="1.1"/>
<line x1="471.86" y1="1668.42" x2="475.43" y2="1671.33" stroke="#dedede" stroke-width="1.1"/>
<line x1="473.89" y1="1665.95" x2="477.45" y2="1668.86" stroke="#dedede" stroke-width="1.1"/>
<line x1="475.92" y1="1663.47" x2="479.48" y2="1666.38" stroke="#dedede" stroke-width="1.1"/>
<line x1="477.94" y1="1660.99" x2="481.5" y2="1663.9" stroke="#dedede" stroke-width="1.1"/>
<path d="M453.65 1833.35 L433.79 1813.49 L436.98 1810.31 L417 1802 L425.31 1821.98 L428.49 1818.79 L448.35 1838.65 Z" fill="#adadad"/>
<line x1="448.24" y1="1836.49" x2="451.49" y2="1833.24" stroke="#dedede" stroke-width="1.1"/>
<line x1="445.98" y1="1834.23" x2="449.23" y2="1830.98" stroke="#dedede" stroke-width="1.1"/>
<line x1="443.72" y1="1831.97" x2="446.97" y2="1828.72" stroke="#dedede" stroke-width="1.1"/>
<line x1="441.45" y1="1829.71" x2="444.71" y2="1826.45" stroke="#dedede" stroke-width="1.1"/>
<line x1="439.19" y1="1827.44" x2="442.44" y2="1824.19" stroke="#dedede" stroke-width="1.1"/>
<line x1="436.93" y1="1825.18" x2="440.18" y2="1821.93" stroke="#dedede" stroke-width="1.1"/>
<line x1="434.67" y1="1822.92" x2="437.92" y2="1819.67" stroke="#dedede" stroke-width="1.1"/>
<line x1="432.4" y1="1820.66" x2="435.66" y2="1817.4" stroke="#dedede" stroke-width="1.1"/>
<text x="535.9" y="1961.4" font-size="22" fill="#262f49" font-weight="500" text-anchor="middle" font-family='"Liberation Sans","Noto Sans CJK SC",sans-serif' textLength="141" lengthAdjust="spacing"><tspan font-weight="400">(</tspan>楼栋落位图<tspan font-weight="400">)</tspan></text>
<g transform="translate(-1 1166)">
<path d="M305.5 1310 L337.7 1310 L337 1324.4 L332.5 1380 L328 1451 L321.5 1515 L316 1573.4 L268.8 1550 L271 1540 L277 1480 L283.5 1400 L290.4 1326.4 Z" fill="#bcc86c"/>
<path d="M272 1570 L313.2 1588 L307.8 1633.7 L301.1 1680.7 L298.4 1700 L295.5 1760 L297 1800 L300.5 1857.3 L348 1926.5 L300.5 1963 L250.2 1943 L236.4 1920 L247 1760 L253.7 1720 L260.4 1580 Q261 1570 272 1570 Z" fill="#bcc86c"/>
<path d="M313 1335 L299 1520 L294.5 1561" fill="none" stroke="#b9e4d2" stroke-width="4.6"/>
<path d="M289 1580.5 L272 1720 L268.7 1835.5 L324 1941" fill="none" stroke="#b9e4d2" stroke-width="4.6" stroke-linejoin="round"/>
<path d="M20 1606 C21.48 1605.17 20.07 1606.67 28.9 1601 C37.73 1595.33 55.18 1580 73 1572 C90.82 1564 114.83 1557.33 135.8 1553 C156.77 1548.67 179.77 1547.58 198.8 1546 C217.83 1544.42 238.33 1542.83 250 1543.5 C261.67 1544.17 265.67 1548.92 268.8 1550" fill="none" stroke="#8c8c8c" stroke-width="0.9"/>
<path d="M20 1617 C21.5 1616.13 20.17 1617.63 29 1611.8 C37.83 1605.97 55.2 1590.18 73 1582 C90.8 1573.82 114.83 1567.2 135.8 1562.7 C156.77 1558.2 183.77 1556.37 198.8 1555 C213.83 1553.63 219.8 1554.25 226 1554.5 C232.2 1554.75 234.33 1556.17 236 1556.5" fill="none" stroke="#8c8c8c" stroke-width="0.9"/>
<path d="M20 1626 C21.5 1625 20.17 1625.83 29 1620 C37.83 1614.17 55.2 1599.33 73 1591 C90.8 1582.67 114.83 1574.92 135.8 1570 C156.77 1565.08 184.1 1562.92 198.8 1561.5 C213.5 1560.08 218.13 1560.75 224 1561.5 C229.87 1562.25 231.57 1563.58 234 1566 C236.43 1568.42 237.83 1574.33 238.6 1576" fill="none" stroke="#8c8c8c" stroke-width="0.9"/>
<path d="M238.6 1576 C238.92 1593.33 240.15 1646 240.5 1680 C240.85 1714 242.22 1746.67 240.7 1780 C239.18 1813.33 234.52 1859.17 231.4 1880 C228.28 1900.83 225.77 1898.33 222 1905 C218.23 1911.67 211 1917.5 208.8 1920" fill="none" stroke="#7a7a7a" stroke-width="0.9"/>
<path d="M272 1570 C270.33 1569.67 265 1567.67 262 1568 C259 1568.33 255.75 1569.67 254 1572 C252.25 1574.33 252 1564 251.5 1582 C251 1600 251.75 1650.33 251 1680 C250.25 1709.67 249.5 1726.67 247 1760 C244.5 1793.33 239.33 1852.33 236 1880 C232.67 1907.67 228.5 1918.33 227 1926" fill="none" stroke="#7a7a7a" stroke-width="0.9"/>
<path d="M245.5 1560 C245.58 1580 246.33 1643.33 246 1680 C245.67 1716.67 245.67 1745 243.5 1780 C241.33 1815 235.92 1866.33 233 1890 C230.08 1913.67 227.17 1916.67 226 1922" fill="none" stroke="#999" stroke-width="0.6" stroke-dasharray="4 1.5 1 1.5"/>
<path d="M250 1543.5 L268.8 1550 L317 1573.7" fill="none" stroke="#8c8c8c" stroke-width="0.9"/>
<path d="M272 1570 L312.4 1587" fill="none" stroke="#8c8c8c" stroke-width="0.9"/>
<path d="M30 1897 C43.45 1898.07 86.37 1900.23 110.7 1903.4 C135.03 1906.57 159.65 1913.23 176 1916 C192.35 1918.77 203.33 1919.33 208.8 1920" fill="none" stroke="#555" stroke-width="0.9"/>
<path d="M30 1901 C43.45 1902.07 86.37 1904.23 110.7 1907.4 C135.03 1910.57 161.12 1916.9 176 1920 C190.88 1923.1 196 1925 200 1926" fill="none" stroke="#777" stroke-width="0.6"/>
<path d="M30 1908.5 C43.45 1909.33 85.53 1910.15 110.7 1913.5 C135.87 1916.85 169.28 1926.08 181 1928.6" fill="none" stroke="#666" stroke-width="0.7"/>
<path d="M30 1911.5 C43.45 1912.33 85.53 1913.15 110.7 1916.5 C135.87 1919.85 169.28 1929.08 181 1931.6" fill="none" stroke="#666" stroke-width="0.7" stroke-dasharray="5 1 1 1"/>
<path d="M181 1928.6 Q186 1931 181 1931.6" fill="none" stroke="#666" stroke-width="0.7"/>
<path d="M30 1918.5 C43.45 1919.58 86.37 1921.63 110.7 1925 C135.03 1928.37 155.03 1931.82 176 1938.7 C196.97 1945.58 218.45 1957.5 236.5 1966.3 C254.55 1975.1 276.33 1987.3 284.3 1991.5" fill="none" stroke="#555" stroke-width="0.9"/>
<path d="M30 1922 C43.45 1923.08 86.7 1925.08 110.7 1928.5 C134.7 1931.92 153.45 1935.58 174 1942.5 C194.55 1949.42 216.33 1961.25 234 1970 C251.67 1978.75 272.33 1990.83 280 1995" fill="none" stroke="#888" stroke-width="0.6"/>
<path d="M227 1926 C227.83 1928.33 226.17 1935.5 232 1940 C237.83 1944.5 251.33 1948 262 1953 C272.67 1958 290.33 1967.17 296 1970" fill="none" stroke="#555" stroke-width="0.9"/>
<path d="M240 1952 C243.67 1953.67 253.67 1957.67 262 1962 C270.33 1966.33 285.33 1975.33 290 1978" fill="none" stroke="#666" stroke-width="0.7"/>
<path d="M238 1955 C241.67 1956.67 251.67 1960.67 260 1965 C268.33 1969.33 283.33 1978.33 288 1981" fill="none" stroke="#666" stroke-width="0.7" stroke-dasharray="5 1 1 1"/>
<path d="M85.5 1607.6 L129.5 1599.2 L131.6 1609.7 L87.6 1618 Z" fill="none" stroke="#b4b4b4" stroke-width="0.9"/>
<path d="M106.5 1662 L131.6 1651.6 L135.8 1662 L110.7 1672.6 Z" fill="none" stroke="#b4b4b4" stroke-width="0.9"/>
<path d="M177.8 1574 L219.7 1574 L219.7 1634.9 L192.5 1634.9 Z" fill="none" stroke="#b4b4b4" stroke-width="0.9"/>
<path d="M181 1577 L216.7 1577 L216.7 1632 L194.5 1632 Z" fill="none" stroke="#b4b4b4" stroke-width="0.7"/>
<path d="M30 1647 A20 20 0 1 1 30 1669" fill="none" stroke="#b4b4b4" stroke-width="0.9"/>
<path d="M29 1625 C34.83 1623.17 56.83 1611.5 64 1614 C71.17 1616.5 69.75 1631 72 1640 C74.25 1649 76.33 1658.33 77.5 1668 C78.67 1677.67 79.92 1690.67 79 1698 C78.08 1705.33 74.5 1707.17 72 1712 C69.5 1716.83 71.17 1726.33 64 1727 C56.83 1727.67 34.83 1717.83 29 1716" fill="none" stroke="#b4b4b4" stroke-width="0.9"/>
<path d="M29 1716 L75 1728 L78 1748 L70 1752 L72 1775 L40 1790" fill="none" stroke="#b4b4b4" stroke-width="0.9"/>
<path d="M28 1770 Q58 1776 56 1800 Q54 1812 30 1818" fill="none" stroke="#b4b4b4" stroke-width="0.9"/>
<path d="M106 1683 L205 1664 Q216 1663 216 1674 Q217 1690 205 1691 L133 1697 Q115 1700 113 1714 Q100 1718 97 1706 Q95 1688 106 1683 Z" fill="none" stroke="#b4b4b4" stroke-width="0.9"/>
<path d="M219.7 1634.9 L222 1700 L228 1790" fill="none" stroke="#b4b4b4" stroke-width="0.8"/>
<path d="M113 1714 Q118 1702 135 1700 L222 1694" fill="none" stroke="#b4b4b4" stroke-width="0.8"/>
<path d="M120 1790 L124 1716 Q126 1708 136 1707 L160 1705 L161 1790" fill="none" stroke="#b4b4b4" stroke-width="0.8"/>
<path d="M170 1790 L169 1705 L213 1701 L216 1760" fill="none" stroke="#b4b4b4" stroke-width="0.8"/>
<path d="M97 1790 L100 1720" fill="none" stroke="#b4b4b4" stroke-width="0.8"/>
<path d="M100 1797 C104.17 1799.5 115 1807.5 125 1812 C135 1816.5 147.5 1820.67 160 1824 C172.5 1827.33 188.33 1829.67 200 1832 C211.67 1834.33 225 1837 230 1838" fill="none" stroke="#b4b4b4" stroke-width="0.8"/>
<path d="M96 1803 C100.33 1805.5 111.67 1813.5 122 1818 C132.33 1822.5 145.33 1826.67 158 1830 C170.67 1833.33 187.33 1835.83 198 1838 C208.67 1840.17 218 1842.17 222 1843" fill="none" stroke="#b4b4b4" stroke-width="0.8"/>
<line x1="46" y1="1840" x2="47" y2="1868" stroke="#b4b4b4" stroke-width="0.8"/>
<line x1="64" y1="1836" x2="64" y2="1867" stroke="#b4b4b4" stroke-width="0.8"/>
<line x1="80" y1="1832" x2="78" y2="1866" stroke="#b4b4b4" stroke-width="0.8"/>
<line x1="98" y1="1806" x2="95" y2="1865" stroke="#b4b4b4" stroke-width="0.8"/>
<line x1="118" y1="1817" x2="113" y2="1864" stroke="#b4b4b4" stroke-width="0.8"/>
<line x1="135" y1="1825" x2="129" y2="1863" stroke="#b4b4b4" stroke-width="0.8"/>
<line x1="150" y1="1830" x2="146" y2="1862" stroke="#b4b4b4" stroke-width="0.8"/>
<line x1="166" y1="1834" x2="162" y2="1861" stroke="#b4b4b4" stroke-width="0.8"/>
<line x1="182" y1="1837" x2="177" y2="1860" stroke="#b4b4b4" stroke-width="0.8"/>
<line x1="196" y1="1840" x2="193" y2="1859" stroke="#b4b4b4" stroke-width="0.8"/>
<path d="M30 1872 L150 1864 L205 1858 L222 1843" fill="none" stroke="#b4b4b4" stroke-width="0.8"/>
<path d="M30 1842 L84 1832 L98 1806" fill="none" stroke="#b4b4b4" stroke-width="0.8"/>
<path d="M30 1850 L60 1846" fill="none" stroke="#b4b4b4" stroke-width="0.6"/>
<text x="149" y="1751" font-size="31.5" fill="#9e9e9e" font-weight="500" text-anchor="middle" font-family='"Liberation Sans","Noto Sans CJK SC",sans-serif' textLength="95" lengthAdjust="spacingAndGlyphs" stroke="#9e9e9e" stroke-width="0.7">王府井</text>
<text x="148" y="1789" font-size="32" fill="#9e9e9e" font-weight="500" text-anchor="middle" font-family='"Liberation Sans","Noto Sans CJK SC",sans-serif' textLength="160" lengthAdjust="spacingAndGlyphs" stroke="#9e9e9e" stroke-width="0.7">商业综合体</text>
<text x="246" y="1668.5" font-size="12.5" fill="#222" font-weight="400" text-anchor="middle" font-family='"Liberation Sans","Noto Sans CJK SC",sans-serif'>奥</text>
<text x="246" y="1683.5" font-size="12.5" fill="#222" font-weight="400" text-anchor="middle" font-family='"Liberation Sans","Noto Sans CJK SC",sans-serif'>莱</text>
<text x="246" y="1698.5" font-size="12.5" fill="#222" font-weight="400" text-anchor="middle" font-family='"Liberation Sans","Noto Sans CJK SC",sans-serif'>东</text>
<text x="246" y="1713.5" font-size="12.5" fill="#222" font-weight="400" text-anchor="middle" font-family='"Liberation Sans","Noto Sans CJK SC",sans-serif'>路</text>
<text transform="translate(208.8 1948) rotate(19)" font-size="13.5" fill="#222" font-weight="400" text-anchor="middle" font-family='"Liberation Sans","Noto Sans CJK SC",sans-serif'>莲兴大道</text>
<path d="M531 1745.5 C524.91 1740.09 505.5 1723.06 494.44 1713.03 C483.38 1703 476.47 1696.26 464.63 1685.32 C452.8 1674.38 434.92 1656.67 423.44 1647.37 C411.97 1638.08 405 1635.07 395.77 1629.53 C386.54 1623.99 378.29 1619.93 368.06 1614.13 C357.83 1608.34 343.27 1600.26 334.39 1594.74 C325.52 1589.22 318.07 1583.29 314.8 1581" fill="none" stroke="#555" stroke-width="0.7"/>
<path d="M529.3 1747 C523.22 1741.63 503.86 1724.78 492.82 1714.79 C481.77 1704.81 474.82 1698.01 463 1687.08 C451.19 1676.16 433.34 1658.49 421.93 1649.24 C410.52 1639.99 403.71 1637.09 394.53 1631.58 C385.36 1626.08 377.1 1622.02 366.87 1616.22 C356.64 1610.42 341.94 1602.27 333.16 1596.8 C324.38 1591.33 317.36 1585.63 314.2 1583.4" fill="none" stroke="#777" stroke-width="0.6"/>
<path d="M337 1324.3 C341.43 1324.85 353.58 1325.73 363.6 1327.6 C373.62 1329.47 387.7 1332.85 397.1 1335.5 C406.5 1338.15 411.98 1340.75 420 1343.5 C428.02 1346.25 436.82 1348.75 445.2 1352 C453.58 1355.25 461.92 1358.83 470.3 1363 C478.68 1367.17 487.22 1372.02 495.5 1377 C503.78 1381.98 512.58 1387.98 520 1392.9 C527.42 1397.82 533.33 1401.83 540 1406.5 C546.67 1411.17 551.07 1414.02 560 1420.9 C568.93 1427.78 581.85 1438.02 593.6 1447.8 C605.35 1457.58 617.1 1468.15 630.5 1479.6 C643.9 1491.05 659.53 1504.27 674 1516.5 C688.47 1528.73 710.08 1546.92 717.3 1553 L655.8 1621 L535.5 1739.5 C529.58 1734.08 510.88 1717.03 500 1707 C489.12 1696.97 482.1 1690.3 470.2 1679.3 C458.3 1668.3 440.3 1650.47 428.6 1641 C416.9 1631.53 409.42 1628.17 400 1622.5 C390.58 1616.83 382.33 1612.8 372.1 1607 C361.87 1601.2 347.97 1593.3 338.6 1587.7 C329.23 1582.1 319.68 1575.78 315.9 1573.4 C316.83 1563.67 319.48 1535.4 321.5 1515 C323.52 1494.6 326.17 1473.5 328 1451 C329.83 1428.5 331 1401.12 332.5 1380 C334 1358.88 336.25 1333.58 337 1324.3 Z" fill="#fff" stroke="#262626" stroke-width="1.6" stroke-linejoin="miter"/>
<path d="M343.5 1331.5 C346.64 1332 353.7 1332.69 362.32 1334.48 C370.93 1336.27 385.97 1339.63 395.2 1342.24 C404.44 1344.84 409.82 1347.41 417.73 1350.12 C425.64 1352.84 434.43 1355.34 442.67 1358.53 C450.91 1361.72 458.98 1365.19 467.18 1369.27 C475.39 1373.35 483.73 1378.09 491.89 1383 C500.05 1387.91 508.78 1393.86 516.13 1398.73 C523.48 1403.61 529.39 1407.62 535.99 1412.23 C542.58 1416.85 546.87 1419.62 555.73 1426.44 C564.58 1433.27 577.42 1443.43 589.12 1453.18 C600.83 1462.93 612.56 1473.48 625.95 1484.92 C639.35 1496.37 655.89 1510.5 669.48 1521.85 C683.07 1533.19 701.16 1547.81 707.5 1553" fill="none" stroke="#333" stroke-width="1.1" stroke-dasharray="16 2.5 1.5 2.5 1.5 2.5"/>
<path d="M707.5 1553 L650 1617 L535.8 1729.6" fill="none" stroke="#333" stroke-width="1.1" stroke-dasharray="16 2.5 1.5 2.5 1.5 2.5"/>
<path d="M535.8 1729.6 C530.62 1724.98 514.89 1711.09 504.74 1701.85 C494.6 1692.61 486.91 1685.21 474.95 1674.16 C462.99 1663.11 444.89 1645.17 433 1635.56 C421.11 1625.95 413.18 1622.28 403.61 1616.5 C394.03 1610.73 385.79 1606.71 375.55 1600.91 C365.32 1595.11 350.95 1587.04 342.19 1581.69 C333.43 1576.34 326.2 1570.95 323 1568.8" fill="none" stroke="#333" stroke-width="1.1" stroke-dasharray="16 2.5 1.5 2.5 1.5 2.5"/>
<path d="M323 1568.8 C323.92 1559.83 326.5 1534.63 328.5 1515 C330.5 1495.37 333.17 1473.5 335 1451 C336.83 1428.5 338.08 1399.92 339.5 1380 C340.92 1360.08 342.83 1339.58 343.5 1331.5" fill="none" stroke="#333" stroke-width="1.1" stroke-dasharray="16 2.5 1.5 2.5 1.5 2.5"/>
<path d="M313.2 1588 C316.28 1589.88 322.97 1594.16 331.67 1599.29 C340.38 1604.41 355.22 1612.95 365.44 1618.74 C375.67 1624.54 383.93 1628.61 393.04 1634.07 C402.15 1639.53 408.78 1642.3 420.11 1651.49 C431.44 1660.69 449.25 1678.31 461.04 1689.21 C472.83 1700.12 479.84 1707.28 490.85 1716.93 C501.86 1726.57 521.06 1742.07 527.1 1747.1 L348 1926.5 C340.08 1914.97 309 1878.38 300.5 1857.3 C292 1836.22 297.83 1816.22 297 1800 C296.17 1783.78 295.27 1776.67 295.5 1760 C295.73 1743.33 297.47 1713.22 298.4 1700 C299.33 1686.78 299.53 1691.75 301.1 1680.7 C302.67 1669.65 305.78 1649.15 307.8 1633.7 C309.82 1618.25 312.3 1595.62 313.2 1588 Z" fill="#fff" stroke="#262626" stroke-width="1.6" stroke-linejoin="miter"/>
<path d="M317.9 1602.1 C325.03 1606.27 349.01 1620.4 360.71 1627.1 C372.41 1633.8 379.2 1636.98 388.09 1642.29 C396.98 1647.6 403 1649.96 414.07 1658.96 C425.14 1667.95 442.81 1685.43 454.52 1696.26 C466.23 1707.1 474.5 1715.36 484.34 1723.98 C494.19 1732.61 508.72 1744 513.6 1748 L353.5 1917.5 C345.67 1907.17 314.92 1875.08 306.5 1855.5 C298.08 1835.92 303.83 1815.92 303 1800 C302.17 1784.08 301.27 1776.67 301.5 1760 C301.73 1743.33 303.47 1713.22 304.4 1700 C305.33 1686.78 305.6 1691.37 307.1 1680.7 C308.6 1670.03 311.6 1649.1 313.4 1636 C315.2 1622.9 317.15 1607.75 317.9 1602.1" fill="none" stroke="#2e2e2e" stroke-width="1.4" stroke-linejoin="miter"/>
<path d="M342.59 1336.78 L366.54 1338.25 L365.41 1356.72 L358.23 1356.28 L358.79 1347.04 L351.13 1346.57 L350.56 1355.81 L341.46 1355.25 Z" fill="#fff" stroke="#333" stroke-width="0.8" stroke-linejoin="miter"/>
<text x="354" y="1346.27" font-size="7" fill="#333" font-weight="400" text-anchor="middle" font-family='"Liberation Sans","Noto Sans CJK SC",sans-serif'>B1#</text>
<path d="M340.59 1368.78 L364.54 1370.25 L363.41 1388.72 L356.23 1388.28 L356.79 1379.04 L349.13 1378.57 L348.56 1387.81 L339.46 1387.25 Z" fill="#fff" stroke="#333" stroke-width="0.8" stroke-linejoin="miter"/>
<text x="352" y="1378.27" font-size="7" fill="#333" font-weight="400" text-anchor="middle" font-family='"Liberation Sans","Noto Sans CJK SC",sans-serif'>B2#</text>
<path d="M338.09 1401.3 L361.54 1402.73 L360.41 1421.2 L353.38 1420.77 L353.94 1411.54 L346.44 1411.08 L345.87 1420.31 L336.96 1419.77 Z" fill="#fff" stroke="#333" stroke-width="0.8" stroke-linejoin="miter"/>
<text x="349.25" y="1410.77" font-size="7" fill="#333" font-weight="400" text-anchor="middle" font-family='"Liberation Sans","Noto Sans CJK SC",sans-serif'>B3#</text>
<path d="M335.32 1436.16 L341.75 1436.55 L341.98 1432.71 L349.79 1433.18 L349.55 1437.03 L358.28 1437.56 L357.44 1451.19 L334.49 1449.78 Z" fill="#fff" stroke="#333" stroke-width="0.8" stroke-linejoin="miter"/>
<text x="346.5" y="1446.27" font-size="7" fill="#333" font-weight="400" text-anchor="middle" font-family='"Liberation Sans","Noto Sans CJK SC",sans-serif'>B4#</text>
<path d="M382.32 1353.16 L388.75 1353.55 L388.98 1349.71 L396.79 1350.18 L396.55 1354.03 L405.28 1354.56 L404.44 1368.19 L381.49 1366.78 Z" fill="#fff" stroke="#333" stroke-width="0.8" stroke-linejoin="miter"/>
<text x="393.5" y="1363.27" font-size="7" fill="#333" font-weight="400" text-anchor="middle" font-family='"Liberation Sans","Noto Sans CJK SC",sans-serif'>B5#</text>
<path d="M380.31 1384.08 L386.46 1384.45 L386.69 1380.72 L394.15 1381.18 L393.93 1384.91 L402.27 1385.42 L401.46 1398.66 L379.5 1397.31 Z" fill="#fff" stroke="#333" stroke-width="0.8" stroke-linejoin="miter"/>
<text x="391" y="1394.02" font-size="7" fill="#333" font-weight="400" text-anchor="middle" font-family='"Liberation Sans","Noto Sans CJK SC",sans-serif'>B6#</text>
<path d="M377.81 1415.06 L384.1 1415.45 L384.33 1411.71 L391.96 1412.18 L391.74 1415.91 L400.27 1416.44 L399.46 1429.67 L377 1428.3 Z" fill="#fff" stroke="#333" stroke-width="0.8" stroke-linejoin="miter"/>
<text x="388.75" y="1425.02" font-size="7" fill="#333" font-weight="400" text-anchor="middle" font-family='"Liberation Sans","Noto Sans CJK SC",sans-serif'>B7#</text>
<path d="M375.31 1445.06 L381.6 1445.45 L381.83 1441.71 L389.46 1442.18 L389.24 1445.91 L397.77 1446.44 L396.96 1459.67 L374.5 1458.3 Z" fill="#fff" stroke="#333" stroke-width="0.8" stroke-linejoin="miter"/>
<text x="386.25" y="1455.02" font-size="7" fill="#333" font-weight="400" text-anchor="middle" font-family='"Liberation Sans","Noto Sans CJK SC",sans-serif'>B8#</text>
<path d="M415.58 1407.92 L416.73 1392.63 L422.7 1393.08 L423.13 1387.42 L436.77 1388.45 L436.37 1393.68 L441.49 1394.07 L441.82 1389.67 L446.94 1390.06 L446.56 1395.08 L472.14 1397 L472.51 1391.98 L476.78 1392.3 L476.45 1396.7 L483.27 1397.21 L483.66 1391.97 L497.73 1393.03 L497.3 1398.69 L501.99 1399.04 L500.84 1414.33 Z" fill="#fff" stroke="#333" stroke-width="0.8" stroke-linejoin="miter"/>
<rect x="438.3" y="1396.91" width="2.4" height="1.6" fill="#fff" stroke="#333" stroke-width="0.55"/>
<rect x="446.31" y="1397.51" width="2.4" height="1.6" fill="#fff" stroke="#333" stroke-width="0.55"/>
<rect x="469.16" y="1399.23" width="2.4" height="1.6" fill="#fff" stroke="#333" stroke-width="0.55"/>
<rect x="477.09" y="1399.83" width="2.4" height="1.6" fill="#fff" stroke="#333" stroke-width="0.55"/>
<text x="458.69" y="1407.72" font-size="8" fill="#333" font-weight="400" text-anchor="middle" font-family='"Liberation Sans","Noto Sans CJK SC",sans-serif'>B20#</text>
<path d="M411.08 1451.92 L412.23 1436.63 L418.2 1437.08 L418.63 1431.42 L432.27 1432.45 L431.87 1437.68 L436.99 1438.07 L437.32 1433.67 L442.44 1434.06 L442.06 1439.08 L467.64 1441 L468.01 1435.98 L472.28 1436.3 L471.95 1440.7 L478.77 1441.21 L479.16 1435.97 L493.23 1437.03 L492.8 1442.69 L497.49 1443.04 L496.34 1458.33 Z" fill="#fff" stroke="#333" stroke-width="0.8" stroke-linejoin="miter"/>
<rect x="433.8" y="1440.91" width="2.4" height="1.6" fill="#fff" stroke="#333" stroke-width="0.55"/>
<rect x="441.81" y="1441.51" width="2.4" height="1.6" fill="#fff" stroke="#333" stroke-width="0.55"/>
<rect x="464.66" y="1443.23" width="2.4" height="1.6" fill="#fff" stroke="#333" stroke-width="0.55"/>
<rect x="472.59" y="1443.83" width="2.4" height="1.6" fill="#fff" stroke="#333" stroke-width="0.55"/>
<text x="454.19" y="1451.72" font-size="8" fill="#333" font-weight="400" text-anchor="middle" font-family='"Liberation Sans","Noto Sans CJK SC",sans-serif'>B19#</text>
<path d="M407.08 1495.92 L408.23 1480.63 L414.2 1481.08 L414.63 1475.42 L428.27 1476.45 L427.87 1481.68 L432.99 1482.07 L433.32 1477.67 L438.44 1478.06 L438.06 1483.08 L463.64 1485 L464.01 1479.98 L468.28 1480.3 L467.95 1484.7 L474.77 1485.21 L475.16 1479.97 L489.23 1481.03 L488.8 1486.69 L493.49 1487.04 L492.34 1502.33 Z" fill="#fff" stroke="#333" stroke-width="0.8" stroke-linejoin="miter"/>
<rect x="429.8" y="1484.91" width="2.4" height="1.6" fill="#fff" stroke="#333" stroke-width="0.55"/>
<rect x="437.81" y="1485.51" width="2.4" height="1.6" fill="#fff" stroke="#333" stroke-width="0.55"/>
<rect x="460.66" y="1487.23" width="2.4" height="1.6" fill="#fff" stroke="#333" stroke-width="0.55"/>
<rect x="468.59" y="1487.83" width="2.4" height="1.6" fill="#fff" stroke="#333" stroke-width="0.55"/>
<text x="450.19" y="1495.72" font-size="8" fill="#333" font-weight="400" text-anchor="middle" font-family='"Liberation Sans","Noto Sans CJK SC",sans-serif'>B18#</text>
<path d="M403.58 1539.92 L404.73 1524.63 L410.7 1525.08 L411.13 1519.42 L424.77 1520.45 L424.37 1525.68 L429.49 1526.07 L429.82 1521.67 L434.94 1522.06 L434.56 1527.08 L460.14 1529 L460.51 1523.98 L464.78 1524.3 L464.45 1528.7 L471.27 1529.21 L471.66 1523.97 L485.73 1525.03 L485.3 1530.69 L489.99 1531.04 L488.84 1546.33 Z" fill="#fff" stroke="#333" stroke-width="0.8" stroke-linejoin="miter"/>
<rect x="426.3" y="1528.91" width="2.4" height="1.6" fill="#fff" stroke="#333" stroke-width="0.55"/>
<rect x="434.31" y="1529.51" width="2.4" height="1.6" fill="#fff" stroke="#333" stroke-width="0.55"/>
<rect x="457.16" y="1531.23" width="2.4" height="1.6" fill="#fff" stroke="#333" stroke-width="0.55"/>
<rect x="465.09" y="1531.83" width="2.4" height="1.6" fill="#fff" stroke="#333" stroke-width="0.55"/>
<text x="446.69" y="1539.72" font-size="8" fill="#333" font-weight="400" text-anchor="middle" font-family='"Liberation Sans","Noto Sans CJK SC",sans-serif'>B17#</text>
<path d="M579.88 1562.42 L581.03 1547.13 L587 1547.58 L587.43 1541.92 L601.07 1542.95 L600.67 1548.18 L605.79 1548.57 L606.12 1544.17 L611.24 1544.56 L610.86 1549.58 L636.44 1551.5 L636.81 1546.48 L641.08 1546.8 L640.75 1551.2 L647.57 1551.71 L647.96 1546.47 L662.03 1547.53 L661.6 1553.19 L666.29 1553.54 L665.14 1568.83 Z" fill="#fff" stroke="#333" stroke-width="0.8" stroke-linejoin="miter"/>
<rect x="602.6" y="1551.41" width="2.4" height="1.6" fill="#fff" stroke="#333" stroke-width="0.55"/>
<rect x="610.61" y="1552.01" width="2.4" height="1.6" fill="#fff" stroke="#333" stroke-width="0.55"/>
<rect x="633.46" y="1553.73" width="2.4" height="1.6" fill="#fff" stroke="#333" stroke-width="0.55"/>
<rect x="641.39" y="1554.33" width="2.4" height="1.6" fill="#fff" stroke="#333" stroke-width="0.55"/>
<text x="622.99" y="1562.22" font-size="8" fill="#333" font-weight="400" text-anchor="middle" font-family='"Liberation Sans","Noto Sans CJK SC",sans-serif'>B25#</text>
<path d="M556.98 1605.32 L558.13 1590.03 L564.1 1590.48 L564.53 1584.82 L578.17 1585.85 L577.77 1591.08 L582.89 1591.47 L583.22 1587.07 L588.34 1587.46 L587.96 1592.48 L613.54 1594.4 L613.91 1589.38 L618.18 1589.7 L617.85 1594.1 L624.67 1594.61 L625.06 1589.37 L639.13 1590.43 L638.7 1596.09 L643.39 1596.44 L642.24 1611.73 Z" fill="#fff" stroke="#333" stroke-width="0.8" stroke-linejoin="miter"/>
<rect x="579.7" y="1594.31" width="2.4" height="1.6" fill="#fff" stroke="#333" stroke-width="0.55"/>
<rect x="587.71" y="1594.91" width="2.4" height="1.6" fill="#fff" stroke="#333" stroke-width="0.55"/>
<rect x="610.56" y="1596.63" width="2.4" height="1.6" fill="#fff" stroke="#333" stroke-width="0.55"/>
<rect x="618.49" y="1597.23" width="2.4" height="1.6" fill="#fff" stroke="#333" stroke-width="0.55"/>
<text x="600.09" y="1605.12" font-size="8" fill="#333" font-weight="400" text-anchor="middle" font-family='"Liberation Sans","Noto Sans CJK SC",sans-serif'>B26#</text>
<path d="M515.08 1646.42 L516.23 1631.13 L522.2 1631.58 L522.63 1625.92 L536.27 1626.95 L535.87 1632.18 L540.99 1632.57 L541.32 1628.17 L546.44 1628.56 L546.06 1633.58 L571.64 1635.5 L572.01 1630.48 L576.28 1630.8 L575.95 1635.2 L582.77 1635.71 L583.16 1630.47 L597.23 1631.53 L596.8 1637.19 L601.49 1637.54 L600.34 1652.83 Z" fill="#fff" stroke="#333" stroke-width="0.8" stroke-linejoin="miter"/>
<rect x="537.8" y="1635.41" width="2.4" height="1.6" fill="#fff" stroke="#333" stroke-width="0.55"/>
<rect x="545.81" y="1636.01" width="2.4" height="1.6" fill="#fff" stroke="#333" stroke-width="0.55"/>
<rect x="568.66" y="1637.73" width="2.4" height="1.6" fill="#fff" stroke="#333" stroke-width="0.55"/>
<rect x="576.59" y="1638.33" width="2.4" height="1.6" fill="#fff" stroke="#333" stroke-width="0.55"/>
<path d="M518.36 1462.02 L519.53 1446.56 L525.56 1447.01 L525.92 1442.13 L540 1443.19 L539.63 1448.07 L545.66 1448.53 L546 1444.05 L550.58 1444.4 L550.24 1448.87 L556.1 1449.31 L556.47 1444.43 L571.16 1445.53 L570.79 1450.42 L575.37 1450.76 L574.21 1466.22 Z" fill="#fff" stroke="#333" stroke-width="0.8" stroke-linejoin="miter"/>
<rect x="542.38" y="1451.46" width="2.4" height="1.6" fill="#fff" stroke="#333" stroke-width="0.55"/>
<rect x="549.87" y="1452.02" width="2.4" height="1.6" fill="#fff" stroke="#333" stroke-width="0.55"/>
<text x="545.01" y="1461.59" font-size="8" fill="#333" font-weight="400" text-anchor="middle" font-family='"Liberation Sans","Noto Sans CJK SC",sans-serif'>B21#</text>
<path d="M515.26 1505.62 L516.43 1490.16 L522.46 1490.61 L522.82 1485.73 L536.9 1486.79 L536.53 1491.67 L542.56 1492.13 L542.9 1487.65 L547.48 1488 L547.14 1492.47 L553 1492.91 L553.37 1488.03 L568.06 1489.13 L567.69 1494.02 L572.27 1494.36 L571.11 1509.82 Z" fill="#fff" stroke="#333" stroke-width="0.8" stroke-linejoin="miter"/>
<rect x="539.28" y="1495.06" width="2.4" height="1.6" fill="#fff" stroke="#333" stroke-width="0.55"/>
<rect x="546.77" y="1495.62" width="2.4" height="1.6" fill="#fff" stroke="#333" stroke-width="0.55"/>
<text x="541.91" y="1505.19" font-size="8" fill="#333" font-weight="400" text-anchor="middle" font-family='"Liberation Sans","Noto Sans CJK SC",sans-serif'>B22#</text>
<path d="M511.26 1549.62 L512.43 1534.16 L518.46 1534.61 L518.82 1529.73 L532.9 1530.79 L532.53 1535.67 L538.56 1536.13 L538.9 1531.65 L543.48 1532 L543.14 1536.47 L549 1536.91 L549.37 1532.03 L564.06 1533.13 L563.69 1538.02 L568.27 1538.36 L567.11 1553.82 Z" fill="#fff" stroke="#333" stroke-width="0.8" stroke-linejoin="miter"/>
<rect x="535.28" y="1539.06" width="2.4" height="1.6" fill="#fff" stroke="#333" stroke-width="0.55"/>
<rect x="542.77" y="1539.62" width="2.4" height="1.6" fill="#fff" stroke="#333" stroke-width="0.55"/>
<text x="537.91" y="1549.19" font-size="8" fill="#333" font-weight="400" text-anchor="middle" font-family='"Liberation Sans","Noto Sans CJK SC",sans-serif'>B23#</text>
<path d="M582.86 1518.22 L584.03 1502.76 L590.06 1503.21 L590.42 1498.33 L604.5 1499.39 L604.13 1504.27 L610.16 1504.73 L610.5 1500.25 L615.08 1500.6 L614.74 1505.07 L620.6 1505.51 L620.97 1500.63 L635.66 1501.73 L635.29 1506.62 L639.87 1506.96 L638.71 1522.42 Z" fill="#fff" stroke="#333" stroke-width="0.8" stroke-linejoin="miter"/>
<rect x="606.88" y="1507.66" width="2.4" height="1.6" fill="#fff" stroke="#333" stroke-width="0.55"/>
<rect x="614.37" y="1508.22" width="2.4" height="1.6" fill="#fff" stroke="#333" stroke-width="0.55"/>
<text x="609.51" y="1517.79" font-size="8" fill="#333" font-weight="400" text-anchor="middle" font-family='"Liberation Sans","Noto Sans CJK SC",sans-serif'>B24#</text>
<path d="M504.76 1689.12 L505.93 1673.66 L511.96 1674.11 L512.32 1669.23 L526.4 1670.29 L526.03 1675.17 L532.06 1675.63 L532.4 1671.15 L536.98 1671.5 L536.64 1675.97 L542.5 1676.41 L542.87 1671.53 L557.56 1672.63 L557.19 1677.52 L561.77 1677.86 L560.61 1693.32 Z" fill="#fff" stroke="#333" stroke-width="0.8" stroke-linejoin="miter"/>
<rect x="528.78" y="1678.56" width="2.4" height="1.6" fill="#fff" stroke="#333" stroke-width="0.55"/>
<rect x="536.27" y="1679.12" width="2.4" height="1.6" fill="#fff" stroke="#333" stroke-width="0.55"/>
<text x="531.41" y="1688.69" font-size="8" fill="#333" font-weight="400" text-anchor="middle" font-family='"Liberation Sans","Noto Sans CJK SC",sans-serif'>B28#</text>
<path d="M349.75 1477.58 L362.04 1478.22 L362.3 1473.23 L376.48 1473.97 L372.79 1548.18 L393.71 1550.28 L392.09 1581.23 L363.13 1579.72 L363.91 1564.74 L341.99 1562.59 Z" fill="#a9d9f0" stroke="#333" stroke-width="0.8"/>
<text x="356" y="1521.7" font-size="7.5" fill="#333" font-weight="400" text-anchor="middle" font-family='"Liberation Sans","Noto Sans CJK SC",sans-serif'>B9#</text>
<path d="M406.96 1575.31 L413.54 1575.71 L414.05 1567.4 L422.84 1567.94 L422.33 1576.25 L428.91 1576.65 L430.04 1558.19 L408.09 1556.85 Z" fill="#a9d9f0" stroke="#333" stroke-width="0.8"/>
<text x="418.5" y="1565.52" font-size="7" fill="#333" font-weight="400" text-anchor="middle" font-family='"Liberation Sans","Noto Sans CJK SC",sans-serif'>B10#</text>
<path d="M433.46 1575.81 L440.04 1576.21 L440.55 1567.9 L449.34 1568.44 L448.83 1576.75 L455.41 1577.15 L456.54 1558.69 L434.59 1557.35 Z" fill="#a9d9f0" stroke="#333" stroke-width="0.8"/>
<text x="445" y="1566.02" font-size="7" fill="#333" font-weight="400" text-anchor="middle" font-family='"Liberation Sans","Noto Sans CJK SC",sans-serif'>B11#</text>
<path d="M404.47 1604.81 L411.06 1605.21 L411.55 1597.13 L420.34 1597.67 L419.84 1605.75 L426.43 1606.15 L427.53 1588.19 L405.57 1586.85 Z" fill="#a9d9f0" stroke="#333" stroke-width="0.8"/>
<text x="416" y="1595.52" font-size="7" fill="#333" font-weight="400" text-anchor="middle" font-family='"Liberation Sans","Noto Sans CJK SC",sans-serif'>B12#</text>
<path d="M430.97 1605.31 L437.56 1605.71 L438.05 1597.63 L446.84 1598.17 L446.34 1606.25 L452.93 1606.65 L454.03 1588.69 L432.07 1587.35 Z" fill="#a9d9f0" stroke="#333" stroke-width="0.8"/>
<text x="442.5" y="1596.02" font-size="7" fill="#333" font-weight="400" text-anchor="middle" font-family='"Liberation Sans","Noto Sans CJK SC",sans-serif'>B13#</text>
<path d="M469.18 1561.88 L490.14 1563.16 L488.82 1584.62 L467.86 1583.34 L468.28 1576.47 L479.18 1577.14 L479.52 1571.56 L468.62 1570.89 Z" fill="#a9d9f0" stroke="#333" stroke-width="0.8"/>
<text x="479" y="1570.22" font-size="7" fill="#333" font-weight="400" text-anchor="middle" font-family='"Liberation Sans","Noto Sans CJK SC",sans-serif'>B16#</text>
<path d="M467.19 1587.89 L487.65 1589.15 L486.31 1611.11 L465.85 1609.85 L466.28 1602.83 L476.92 1603.48 L477.27 1597.77 L466.63 1597.12 Z" fill="#a9d9f0" stroke="#333" stroke-width="0.8"/>
<text x="476.75" y="1596.22" font-size="7" fill="#333" font-weight="400" text-anchor="middle" font-family='"Liberation Sans","Noto Sans CJK SC",sans-serif'>B15#</text>
<path d="M464.71 1614.4 L485.17 1615.65 L483.79 1638.1 L463.33 1636.85 L463.77 1629.67 L474.41 1630.32 L474.77 1624.48 L464.13 1623.83 Z" fill="#a9d9f0" stroke="#333" stroke-width="0.8"/>
<text x="474.25" y="1622.72" font-size="7" fill="#333" font-weight="400" text-anchor="middle" font-family='"Liberation Sans","Noto Sans CJK SC",sans-serif'>B14#</text>
<text x="380" y="1564.5" font-size="6.8" fill="#111" font-weight="700" text-anchor="middle" font-family='"Liberation Sans","Noto Sans CJK SC",sans-serif'>商业</text>
<text x="380" y="1572.3" font-size="6.8" fill="#111" font-weight="700" text-anchor="middle" font-family='"Liberation Sans","Noto Sans CJK SC",sans-serif'>交流中心</text>
<text x="380" y="1577.2" font-size="3.2" fill="#444" font-weight="400" text-anchor="middle" font-family='"Liberation Sans","Noto Sans CJK SC",sans-serif'>(配套中)</text>
<text x="449" y="1617" font-size="6.8" fill="#111" font-weight="700" text-anchor="middle" font-family='"Liberation Sans","Noto Sans CJK SC",sans-serif'>汽车主题</text>
<text x="449" y="1624.8" font-size="6.8" fill="#111" font-weight="700" text-anchor="middle" font-family='"Liberation Sans","Noto Sans CJK SC",sans-serif'>体验中心</text>
<text x="449" y="1629.8" font-size="3.2" fill="#444" font-weight="400" text-anchor="middle" font-family='"Liberation Sans","Noto Sans CJK SC",sans-serif'>(配套中)</text>
<path d="M318.69 1614.77 L324.94 1615.87 L325.45 1612.97 L331.93 1614.12 L331.42 1617.01 L341.84 1618.85 L339.8 1630.43 L316.65 1626.35 Z" fill="#fff" stroke="#333" stroke-width="0.8" stroke-linejoin="miter"/>
<text x="329.5" y="1625.65" font-size="7.5" fill="#333" font-weight="400" text-anchor="middle" font-family='"Liberation Sans","Noto Sans CJK SC",sans-serif'>A1#</text>
<path d="M314.53 1642.36 L320.8 1643.35 L321.26 1640.44 L327.76 1641.47 L327.3 1644.38 L337.75 1646.03 L335.91 1657.65 L312.69 1653.97 Z" fill="#fff" stroke="#333" stroke-width="0.8" stroke-linejoin="miter"/>
<text x="325.45" y="1653.05" font-size="7.5" fill="#333" font-weight="400" text-anchor="middle" font-family='"Liberation Sans","Noto Sans CJK SC",sans-serif'>A2#</text>
<path d="M310.48 1670.69 L316.77 1671.46 L317.13 1668.55 L323.66 1669.35 L323.3 1672.27 L333.8 1673.55 L332.37 1685.23 L309.04 1682.36 Z" fill="#fff" stroke="#333" stroke-width="0.8" stroke-linejoin="miter"/>
<text x="321.6" y="1681" font-size="7.5" fill="#333" font-weight="400" text-anchor="middle" font-family='"Liberation Sans","Noto Sans CJK SC",sans-serif'>A3#</text>
<path d="M307.19 1699.48 L313.52 1699.92 L313.72 1696.99 L320.28 1697.45 L320.08 1700.38 L330.63 1701.12 L329.81 1712.85 L306.37 1711.21 Z" fill="#fff" stroke="#333" stroke-width="0.8" stroke-linejoin="miter"/>
<text x="318.6" y="1709.2" font-size="7.5" fill="#333" font-weight="400" text-anchor="middle" font-family='"Liberation Sans","Noto Sans CJK SC",sans-serif'>A4#</text>
<path d="M305.55 1727.68 L311.89 1727.96 L312.02 1725.02 L318.59 1725.31 L318.47 1728.25 L329.03 1728.71 L328.52 1740.46 L305.04 1739.43 Z" fill="#fff" stroke="#333" stroke-width="0.8" stroke-linejoin="miter"/>
<text x="317.1" y="1737.1" font-size="7.5" fill="#333" font-weight="400" text-anchor="middle" font-family='"Liberation Sans","Noto Sans CJK SC",sans-serif'>A5#</text>
<path d="M304.47 1755.38 L310.81 1755.55 L310.89 1752.61 L317.47 1752.78 L317.39 1755.72 L327.96 1756 L327.65 1767.76 L304.16 1767.14 Z" fill="#fff" stroke="#333" stroke-width="0.8" stroke-linejoin="miter"/>
<text x="316.1" y="1764.6" font-size="7.5" fill="#333" font-weight="400" text-anchor="middle" font-family='"Liberation Sans","Noto Sans CJK SC",sans-serif'>A6#</text>
<path d="M349.19 1675.42 L349.6 1659.77 L355.59 1659.93 L355.72 1654.98 L369.7 1655.35 L369.57 1660.29 L375.56 1660.45 L375.68 1655.92 L380.23 1656.04 L380.11 1660.57 L385.94 1660.72 L386.07 1655.78 L400.66 1656.16 L400.53 1661.1 L405.08 1661.22 L404.67 1676.87 Z" fill="#fff" stroke="#333" stroke-width="0.8" stroke-linejoin="miter"/>
<rect x="372.49" y="1663.52" width="2.4" height="1.6" fill="#fff" stroke="#333" stroke-width="0.55"/>
<rect x="379.92" y="1663.71" width="2.4" height="1.6" fill="#fff" stroke="#333" stroke-width="0.55"/>
<text x="375.41" y="1673.63" font-size="8" fill="#333" font-weight="400" text-anchor="middle" font-family='"Liberation Sans","Noto Sans CJK SC",sans-serif'>A11#</text>
<path d="M348.09 1717.47 L348.5 1701.82 L354.49 1701.98 L354.62 1697.03 L368.6 1697.4 L368.47 1702.34 L374.46 1702.5 L374.58 1697.97 L379.13 1698.09 L379.01 1702.62 L384.84 1702.77 L384.97 1697.83 L399.56 1698.21 L399.43 1703.15 L403.98 1703.27 L403.57 1718.92 Z" fill="#fff" stroke="#333" stroke-width="0.8" stroke-linejoin="miter"/>
<rect x="371.39" y="1705.57" width="2.4" height="1.6" fill="#fff" stroke="#333" stroke-width="0.55"/>
<rect x="378.82" y="1705.76" width="2.4" height="1.6" fill="#fff" stroke="#333" stroke-width="0.55"/>
<text x="374.31" y="1715.68" font-size="8" fill="#333" font-weight="400" text-anchor="middle" font-family='"Liberation Sans","Noto Sans CJK SC",sans-serif'>A10#</text>
<path d="M346.39 1760.22 L346.8 1744.57 L352.79 1744.73 L352.92 1739.78 L366.9 1740.15 L366.77 1745.09 L372.76 1745.25 L372.88 1740.72 L377.43 1740.84 L377.31 1745.37 L383.14 1745.52 L383.27 1740.58 L397.86 1740.96 L397.73 1745.9 L402.28 1746.02 L401.87 1761.67 Z" fill="#fff" stroke="#333" stroke-width="0.8" stroke-linejoin="miter"/>
<rect x="369.69" y="1748.32" width="2.4" height="1.6" fill="#fff" stroke="#333" stroke-width="0.55"/>
<rect x="377.12" y="1748.51" width="2.4" height="1.6" fill="#fff" stroke="#333" stroke-width="0.55"/>
<text x="372.61" y="1758.43" font-size="8" fill="#333" font-weight="400" text-anchor="middle" font-family='"Liberation Sans","Noto Sans CJK SC",sans-serif'>A9#</text>
<path d="M344.99 1801.57 L345.4 1785.92 L351.39 1786.08 L351.52 1781.13 L365.5 1781.5 L365.37 1786.44 L371.36 1786.6 L371.48 1782.07 L376.03 1782.19 L375.91 1786.72 L381.74 1786.87 L381.87 1781.93 L396.46 1782.31 L396.33 1787.25 L400.88 1787.37 L400.47 1803.02 Z" fill="#fff" stroke="#333" stroke-width="0.8" stroke-linejoin="miter"/>
<rect x="368.29" y="1789.67" width="2.4" height="1.6" fill="#fff" stroke="#333" stroke-width="0.55"/>
<rect x="375.72" y="1789.86" width="2.4" height="1.6" fill="#fff" stroke="#333" stroke-width="0.55"/>
<text x="371.21" y="1799.78" font-size="8" fill="#333" font-weight="400" text-anchor="middle" font-family='"Liberation Sans","Noto Sans CJK SC",sans-serif'>A8#</text>
<path d="M421.49 1736.57 L421.9 1720.92 L427.89 1721.08 L428.02 1716.13 L442 1716.5 L441.87 1721.44 L447.86 1721.6 L447.98 1717.07 L452.53 1717.19 L452.41 1721.72 L458.24 1721.87 L458.37 1716.93 L472.96 1717.31 L472.83 1722.25 L477.38 1722.37 L476.97 1738.02 Z" fill="#fff" stroke="#333" stroke-width="0.8" stroke-linejoin="miter"/>
<rect x="444.79" y="1724.67" width="2.4" height="1.6" fill="#fff" stroke="#333" stroke-width="0.55"/>
<rect x="452.22" y="1724.86" width="2.4" height="1.6" fill="#fff" stroke="#333" stroke-width="0.55"/>
<text x="447.71" y="1734.78" font-size="8" fill="#333" font-weight="400" text-anchor="middle" font-family='"Liberation Sans","Noto Sans CJK SC",sans-serif'>A12#</text>
<path d="M419.29 1779.07 L419.7 1763.42 L425.69 1763.58 L425.82 1758.63 L439.8 1759 L439.67 1763.94 L445.66 1764.1 L445.78 1759.57 L450.33 1759.69 L450.21 1764.22 L456.04 1764.37 L456.17 1759.43 L470.76 1759.81 L470.63 1764.75 L475.18 1764.87 L474.77 1780.52 Z" fill="#fff" stroke="#333" stroke-width="0.8" stroke-linejoin="miter"/>
<rect x="442.59" y="1767.17" width="2.4" height="1.6" fill="#fff" stroke="#333" stroke-width="0.55"/>
<rect x="450.02" y="1767.36" width="2.4" height="1.6" fill="#fff" stroke="#333" stroke-width="0.55"/>
<text x="445.51" y="1777.28" font-size="8" fill="#333" font-weight="400" text-anchor="middle" font-family='"Liberation Sans","Noto Sans CJK SC",sans-serif'>A13#</text>
<circle cx="558" cy="1640.5" r="9.5" fill="#e50012"/>
<text x="558" y="1642.77" font-size="6.3" fill="#fff" font-weight="400" text-anchor="middle" font-family='"Liberation Sans","Noto Sans CJK SC",sans-serif'>B27#</text>
<path d="M317.3 1823.8 L354.2 1820.4 L354.9 1828 L362.6 1827 Q372 1836 377.7 1849 L375.4 1851 L391 1862.3 Q378 1880 361 1889 Q331 1868 317.3 1823.8 Z" fill="#a9d9f0" stroke="#333" stroke-width="0.8"/>
<text x="349" y="1854.52" font-size="7" fill="#333" font-weight="400" text-anchor="middle" font-family='"Liberation Sans","Noto Sans CJK SC",sans-serif'>A7#</text>
<text x="358.3" y="1865.5" font-size="6.8" fill="#111" font-weight="700" text-anchor="middle" font-family='"Liberation Sans","Noto Sans CJK SC",sans-serif'>汽车展示</text>
<text x="358.3" y="1873.3" font-size="6.8" fill="#111" font-weight="700" text-anchor="middle" font-family='"Liberation Sans","Noto Sans CJK SC",sans-serif'>交互中心</text>
<text x="358.3" y="1878.3" font-size="3.2" fill="#444" font-weight="400" text-anchor="middle" font-family='"Liberation Sans","Noto Sans CJK SC",sans-serif'>(配套中)</text>
<path d="M533.48 1381.71 L522.38 1411.93 L518.15 1410.38 L519 1432 L533.64 1416.07 L529.42 1414.52 L540.52 1384.29 Z" fill="#adadad"/>
<line x1="538.61" y1="1385.29" x2="534.29" y2="1383.71" stroke="#dedede" stroke-width="1.1"/>
<line x1="537.5" y1="1388.3" x2="533.19" y2="1386.71" stroke="#dedede" stroke-width="1.1"/>
<line x1="536.4" y1="1391.3" x2="532.08" y2="1389.72" stroke="#dedede" stroke-width="1.1"/>
<line x1="535.3" y1="1394.31" x2="530.98" y2="1392.72" stroke="#dedede" stroke-width="1.1"/>
<line x1="534.19" y1="1397.31" x2="529.88" y2="1395.72" stroke="#dedede" stroke-width="1.1"/>
<line x1="533.09" y1="1400.31" x2="528.77" y2="1398.73" stroke="#dedede" stroke-width="1.1"/>
<line x1="531.99" y1="1403.32" x2="527.67" y2="1401.73" stroke="#dedede" stroke-width="1.1"/>
<line x1="530.88" y1="1406.32" x2="526.57" y2="1404.73" stroke="#dedede" stroke-width="1.1"/>
<line x1="529.78" y1="1409.32" x2="525.46" y2="1407.74" stroke="#dedede" stroke-width="1.1"/>
<line x1="528.68" y1="1412.33" x2="524.36" y2="1410.74" stroke="#dedede" stroke-width="1.1"/>
<path d="M465.4 1685.87 L484.24 1662.85 L487.72 1665.7 L494 1645 L474.95 1655.25 L478.43 1658.1 L459.6 1681.13 Z" fill="#adadad"/>
<line x1="461.73" y1="1680.81" x2="465.29" y2="1683.72" stroke="#dedede" stroke-width="1.1"/>
<line x1="463.76" y1="1678.33" x2="467.32" y2="1681.24" stroke="#dedede" stroke-width="1.1"/>
<line x1="465.79" y1="1675.85" x2="469.35" y2="1678.76" stroke="#dedede" stroke-width="1.1"/>
<line x1="467.81" y1="1673.38" x2="471.37" y2="1676.29" stroke="#dedede" stroke-width="1.1"/>
<line x1="469.84" y1="1670.9" x2="473.4" y2="1673.81" stroke="#dedede" stroke-width="1.1"/>
<line x1="471.86" y1="1668.42" x2="475.43" y2="1671.33" stroke="#dedede" stroke-width="1.1"/>
<line x1="473.89" y1="1665.95" x2="477.45" y2="1668.86" stroke="#dedede" stroke-width="1.1"/>
<line x1="475.92" y1="1663.47" x2="479.48" y2="1666.38" stroke="#dedede" stroke-width="1.1"/>
<line x1="477.94" y1="1660.99" x2="481.5" y2="1663.9" stroke="#dedede" stroke-width="1.1"/>
<path d="M453.65 1833.35 L433.79 1813.49 L436.98 1810.31 L417 1802 L425.31 1821.98 L428.49 1818.79 L448.35 1838.65 Z" fill="#adadad"/>
<line x1="448.24" y1="1836.49" x2="451.49" y2="1833.24" stroke="#dedede" stroke-width="1.1"/>
<line x1="445.98" y1="1834.23" x2="449.23" y2="1830.98" stroke="#dedede" stroke-width="1.1"/>
<line x1="443.72" y1="1831.97" x2="446.97" y2="1828.72" stroke="#dedede" stroke-width="1.1"/>
<line x1="441.45" y1="1829.71" x2="444.71" y2="1826.45" stroke="#dedede" stroke-width="1.1"/>
<line x1="439.19" y1="1827.44" x2="442.44" y2="1824.19" stroke="#dedede" stroke-width="1.1"/>
<line x1="436.93" y1="1825.18" x2="440.18" y2="1821.93" stroke="#dedede" stroke-width="1.1"/>
<line x1="434.67" y1="1822.92" x2="437.92" y2="1819.67" stroke="#dedede" stroke-width="1.1"/>
<line x1="432.4" y1="1820.66" x2="435.66" y2="1817.4" stroke="#dedede" stroke-width="1.1"/>
</g>
<text x="535.9" y="3126.4" font-size="22" fill="#262f49" font-weight="500" text-anchor="middle" font-family='"Liberation Sans","Noto Sans CJK SC",sans-serif' textLength="141" lengthAdjust="spacing"><tspan font-weight="400">(</tspan>楼栋落位图<tspan font-weight="400">)</tspan></text>
<g transform="translate(0 2.2)">
<ellipse cx="486.3" cy="3166" rx="8.8" ry="7.6" fill="#b7b7b7"/>
<path d="M481 3171.5 L479.5 3176 L485 3173 Z" fill="#b7b7b7"/>
<ellipse cx="496.6" cy="3173" rx="7.6" ry="6.5" fill="#b7b7b7" stroke="#fff" stroke-width="1"/>
<path d="M500.5 3178.3 L503.2 3181.8 L497.2 3179.3 Z" fill="#b7b7b7"/>
<circle cx="483.1" cy="3163.6" r="1.1" fill="#fff"/>
<circle cx="489.5" cy="3163.6" r="1.1" fill="#fff"/>
<circle cx="494" cy="3171.2" r="0.9" fill="#fff"/>
<circle cx="499.2" cy="3171.2" r="0.9" fill="#fff"/>
<text x="511.5" y="3175.3" font-size="20" fill="#bababa" font-weight="400" text-anchor="start" font-family='"Liberation Sans","Noto Sans CJK SC",sans-serif' textLength="204" lengthAdjust="spacing">公众号 · 海南房产阿乐</text>
</g>
<text x="562" y="3190.3" font-size="14.5" fill="#fff" font-weight="700" text-anchor="start" font-family='"Liberation Sans","Noto Sans CJK SC",sans-serif' textLength="161" lengthAdjust="spacingAndGlyphs" stroke="#333" stroke-width="1.3" paint-order="stroke" stroke-linejoin="round">搜狐号@搜狐焦点采宾站</text>
</svg>
</body></html>
